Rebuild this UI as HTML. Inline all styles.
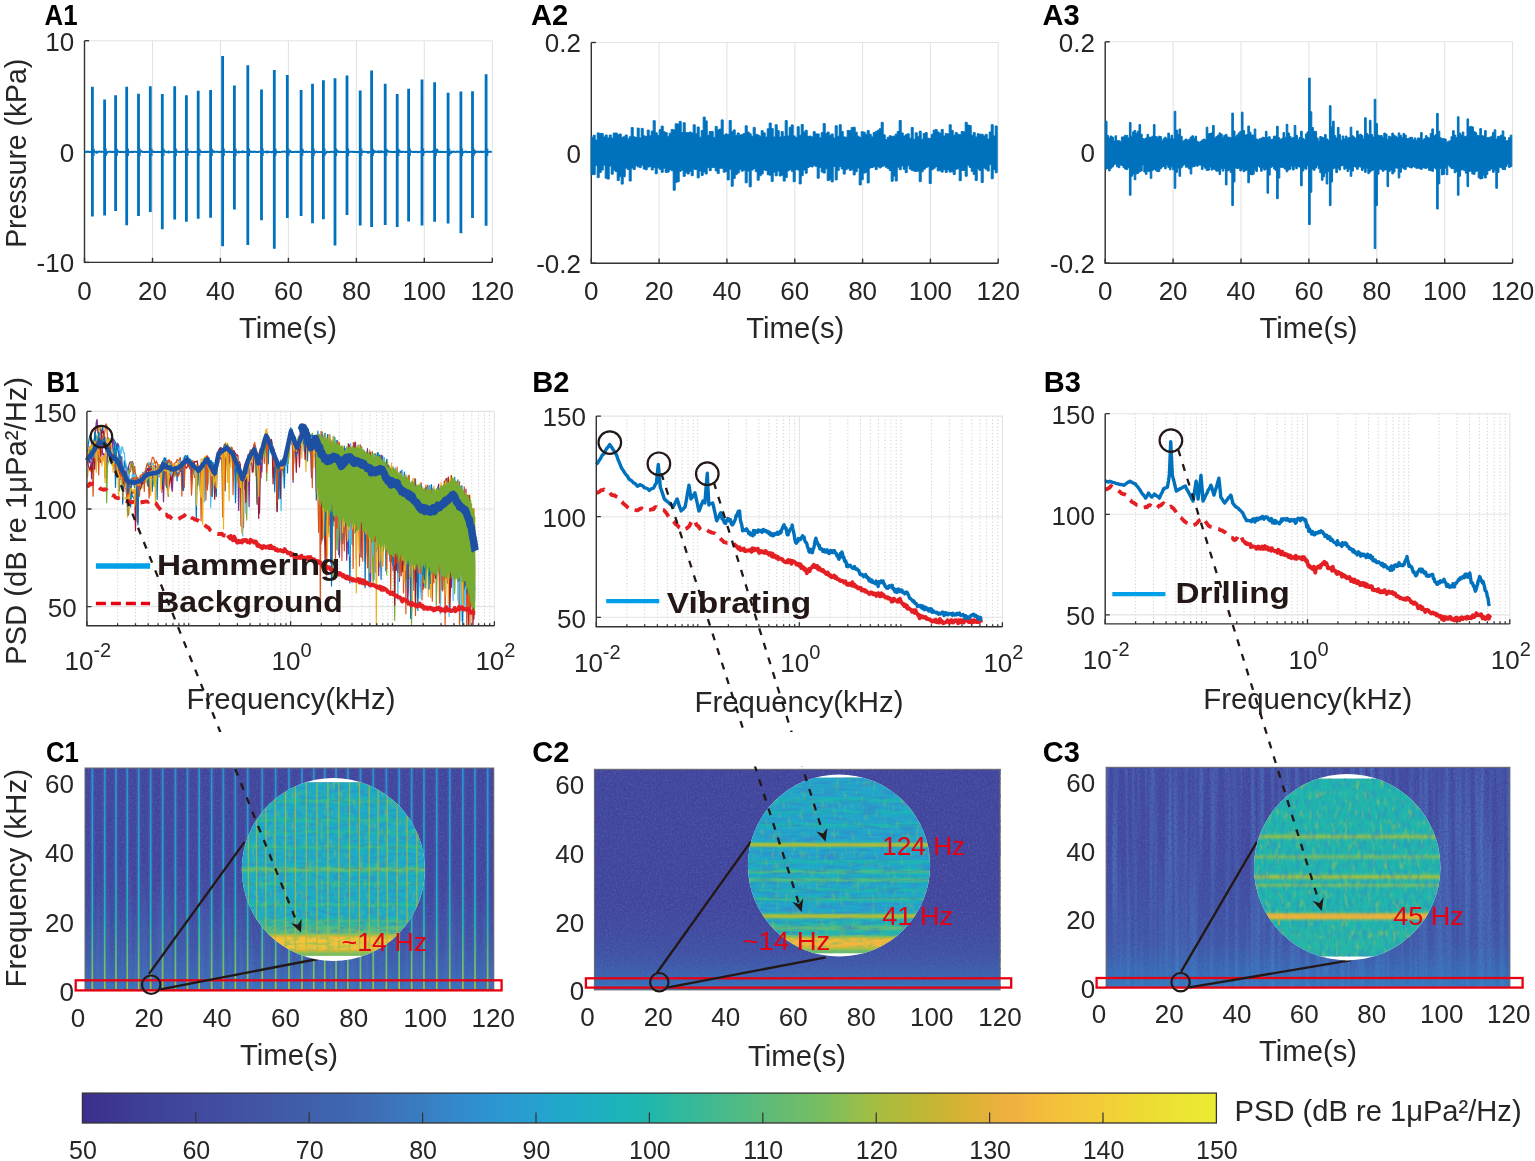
<!DOCTYPE html>
<html><head><meta charset="utf-8"><title>Figure</title>
<style>
html,body{margin:0;padding:0;background:#fff;overflow:hidden;}
svg{display:block;}
text{font-family:"Liberation Sans",sans-serif;}
</style></head>
<body>
<svg width="1535" height="1161" viewBox="0 0 1535 1161">
<rect width="1535" height="1161" fill="#fff"/>
<defs><filter id="nzS" x="0" y="0" width="1" height="1" color-interpolation-filters="sRGB"><feTurbulence type="fractalNoise" baseFrequency="0.6 0.5" numOctaves="2" seed="4"/><feColorMatrix type="matrix" values="0 0 0 0 0.31  0 0 0 0 0.37  0 0 0 0 0.68  2.2 0 0 0 -1.02"/></filter><filter id="nzD" x="0" y="0" width="1" height="1" color-interpolation-filters="sRGB"><feTurbulence type="fractalNoise" baseFrequency="0.5 0.45" numOctaves="2" seed="9"/><feColorMatrix type="matrix" values="0 0 0 0 0.25  0 0 0 0 0.22  0 0 0 0 0.58  2.4 0 0 0 -1.12"/></filter><filter id="nzV" x="0" y="0" width="1" height="1" color-interpolation-filters="sRGB"><feTurbulence type="fractalNoise" baseFrequency="0.2 0.004" numOctaves="2" seed="2"/><feColorMatrix type="matrix" values="0 0 0 0 0.30  0 0 0 0 0.45  0 0 0 0 0.74  2.6 0 0 0 -1.05"/></filter><filter id="nzIB1" x="0" y="0" width="1" height="1" color-interpolation-filters="sRGB"><feTurbulence type="fractalNoise" baseFrequency="0.09 0.3" numOctaves="2" seed="5"/><feColorMatrix type="matrix" values="0 0 0 0 0.21  0 0 0 0 0.52  0 0 0 0 0.80  3.0 0 0 0 -1.3"/></filter><filter id="nzIB2" x="0" y="0" width="1" height="1" color-interpolation-filters="sRGB"><feTurbulence type="fractalNoise" baseFrequency="0.05 0.33" numOctaves="2" seed="6"/><feColorMatrix type="matrix" values="0 0 0 0 0.21  0 0 0 0 0.52  0 0 0 0 0.80  3.0 0 0 0 -1.3"/></filter><filter id="nzIB3" x="0" y="0" width="1" height="1" color-interpolation-filters="sRGB"><feTurbulence type="fractalNoise" baseFrequency="0.25 0.1" numOctaves="2" seed="7"/><feColorMatrix type="matrix" values="0 0 0 0 0.21  0 0 0 0 0.52  0 0 0 0 0.80  3.0 0 0 0 -1.3"/></filter><filter id="nzIY" x="0" y="0" width="1" height="1" color-interpolation-filters="sRGB"><feTurbulence type="fractalNoise" baseFrequency="0.25 0.1" numOctaves="2" seed="8"/><feColorMatrix type="matrix" values="0 0 0 0 0.50  0 0 0 0 0.74  0 0 0 0 0.42  3.0 0 0 0 -1.65"/></filter><filter id="nzBand" x="0" y="0" width="1" height="1" color-interpolation-filters="sRGB"><feTurbulence type="fractalNoise" baseFrequency="0.12 0.35" numOctaves="2" seed="11"/><feColorMatrix type="matrix" values="0 0 0 0 0.55  0 0 0 0 0.75  0 0 0 0 0.35  3.2 0 0 0 -1.45"/></filter><linearGradient id="gMask1" gradientUnits="userSpaceOnUse" x1="0" y1="860" x2="0" y2="990"><stop offset="0.00%" stop-color="#fff" stop-opacity="0"/><stop offset="100.00%" stop-color="#fff"/></linearGradient><mask id="mBot1" maskUnits="userSpaceOnUse" x="0" y="760" width="1535" height="240"><rect x="0" y="860" width="1535" height="140" fill="url(#gMask1)"/></mask><clipPath id="clip1"><circle cx="333.3" cy="869.5" r="91.5"/></clipPath><clipPath id="clip2"><circle cx="839" cy="865.5" r="91.1"/></clipPath><clipPath id="clip3"><circle cx="1347.2" cy="867.2" r="93.2"/></clipPath><linearGradient id="gStripe" gradientUnits="userSpaceOnUse" x1="0" y1="768" x2="0" y2="990"><stop offset="0.00%" stop-color="#308dcf"/><stop offset="41.44%" stop-color="#26a1d0"/><stop offset="68.47%" stop-color="#1eb4b5"/><stop offset="86.49%" stop-color="#66bc70"/><stop offset="100.00%" stop-color="#b2ba3a"/></linearGradient><linearGradient id="gBot1" gradientUnits="userSpaceOnUse" x1="0" y1="768" x2="0" y2="990"><stop offset="0.00%" stop-color="#3e6cb4" stop-opacity="0"/><stop offset="54.95%" stop-color="#3e6cb4" stop-opacity="0"/><stop offset="81.98%" stop-color="#3b76bc" stop-opacity="0.35"/><stop offset="100.00%" stop-color="#2e91d2" stop-opacity="0.6"/></linearGradient><linearGradient id="gBot2" gradientUnits="userSpaceOnUse" x1="0" y1="769" x2="0" y2="990"><stop offset="0.00%" stop-color="#3f64af" stop-opacity="0"/><stop offset="61.54%" stop-color="#3f64af" stop-opacity="0"/><stop offset="81.90%" stop-color="#3e69b2" stop-opacity="0.3"/><stop offset="93.21%" stop-color="#397dc1" stop-opacity="0.5"/><stop offset="100.00%" stop-color="#2c94d2" stop-opacity="0.65"/></linearGradient><linearGradient id="gBot3" gradientUnits="userSpaceOnUse" x1="0" y1="767" x2="0" y2="988"><stop offset="0.00%" stop-color="#405fab" stop-opacity="0.08"/><stop offset="37.56%" stop-color="#3f64af" stop-opacity="0.12"/><stop offset="78.28%" stop-color="#3d6fb7" stop-opacity="0.35"/><stop offset="100.00%" stop-color="#2c94d2" stop-opacity="0.6"/></linearGradient><linearGradient id="gI1" gradientUnits="userSpaceOnUse" x1="0" y1="782.2" x2="0" y2="955.9"><stop offset="0.00%" stop-color="#1eadc5"/><stop offset="0.58%" stop-color="#1eadc5"/><stop offset="1.15%" stop-color="#1eadc5"/><stop offset="1.73%" stop-color="#1eadc5"/><stop offset="2.30%" stop-color="#1eadc5"/><stop offset="2.88%" stop-color="#1eadc5"/><stop offset="3.45%" stop-color="#1eadc5"/><stop offset="4.03%" stop-color="#1eadc5"/><stop offset="4.61%" stop-color="#1eadc5"/><stop offset="5.18%" stop-color="#1eadc5"/><stop offset="5.76%" stop-color="#1eadc5"/><stop offset="6.33%" stop-color="#1eadc5"/><stop offset="6.91%" stop-color="#1eadc5"/><stop offset="7.48%" stop-color="#1eadc5"/><stop offset="8.06%" stop-color="#1eadc5"/><stop offset="8.64%" stop-color="#1dafc3"/><stop offset="9.21%" stop-color="#1db1be"/><stop offset="9.79%" stop-color="#1fb5b1"/><stop offset="10.36%" stop-color="#2cb8a3"/><stop offset="10.94%" stop-color="#32b89e"/><stop offset="11.51%" stop-color="#25b7a8"/><stop offset="12.09%" stop-color="#1eb3b7"/><stop offset="12.67%" stop-color="#1cb0c1"/><stop offset="13.24%" stop-color="#1daec4"/><stop offset="13.82%" stop-color="#1eadc5"/><stop offset="14.39%" stop-color="#1eadc5"/><stop offset="14.97%" stop-color="#1eadc5"/><stop offset="15.54%" stop-color="#1eadc5"/><stop offset="16.12%" stop-color="#1eadc5"/><stop offset="16.70%" stop-color="#1eadc5"/><stop offset="17.27%" stop-color="#1eadc5"/><stop offset="17.85%" stop-color="#1eadc5"/><stop offset="18.42%" stop-color="#1eadc5"/><stop offset="19.00%" stop-color="#1eadc5"/><stop offset="19.57%" stop-color="#1daec3"/><stop offset="20.15%" stop-color="#1db1bf"/><stop offset="20.73%" stop-color="#1fb4b4"/><stop offset="21.30%" stop-color="#26b7a7"/><stop offset="21.88%" stop-color="#2cb8a3"/><stop offset="22.45%" stop-color="#20b6ac"/><stop offset="23.03%" stop-color="#1eb3b9"/><stop offset="23.60%" stop-color="#1cb0c2"/><stop offset="24.18%" stop-color="#1daec4"/><stop offset="24.76%" stop-color="#1eadc5"/><stop offset="25.33%" stop-color="#1eadc5"/><stop offset="25.91%" stop-color="#1eadc5"/><stop offset="26.48%" stop-color="#1eadc5"/><stop offset="27.06%" stop-color="#1dafc3"/><stop offset="27.63%" stop-color="#1db2bb"/><stop offset="28.21%" stop-color="#20b6ad"/><stop offset="28.79%" stop-color="#26b7a8"/><stop offset="29.36%" stop-color="#1fb4b2"/><stop offset="29.94%" stop-color="#1db1bf"/><stop offset="30.51%" stop-color="#1daec4"/><stop offset="31.09%" stop-color="#1eadc5"/><stop offset="31.66%" stop-color="#1eadc5"/><stop offset="32.24%" stop-color="#1eadc5"/><stop offset="32.82%" stop-color="#1eadc5"/><stop offset="33.39%" stop-color="#1eadc5"/><stop offset="33.97%" stop-color="#1eadc5"/><stop offset="34.54%" stop-color="#1eadc5"/><stop offset="35.12%" stop-color="#1dafc3"/><stop offset="35.69%" stop-color="#1db1be"/><stop offset="36.27%" stop-color="#1fb5b1"/><stop offset="36.85%" stop-color="#2cb8a3"/><stop offset="37.42%" stop-color="#32b89e"/><stop offset="38.00%" stop-color="#25b7a8"/><stop offset="38.57%" stop-color="#1eb3b7"/><stop offset="39.15%" stop-color="#1cb0c1"/><stop offset="39.72%" stop-color="#1daec4"/><stop offset="40.30%" stop-color="#1eadc5"/><stop offset="40.88%" stop-color="#1eadc5"/><stop offset="41.45%" stop-color="#1eadc5"/><stop offset="42.03%" stop-color="#1eadc5"/><stop offset="42.60%" stop-color="#1eadc5"/><stop offset="43.18%" stop-color="#1eadc5"/><stop offset="43.75%" stop-color="#1eadc5"/><stop offset="44.33%" stop-color="#1eadc5"/><stop offset="44.91%" stop-color="#1eadc5"/><stop offset="45.48%" stop-color="#1eadc5"/><stop offset="46.06%" stop-color="#1eadc5"/><stop offset="46.63%" stop-color="#1eadc4"/><stop offset="47.21%" stop-color="#1daec3"/><stop offset="47.78%" stop-color="#1cb1bf"/><stop offset="48.36%" stop-color="#1fb4b4"/><stop offset="48.93%" stop-color="#31b89f"/><stop offset="49.51%" stop-color="#51bb84"/><stop offset="50.09%" stop-color="#65bc72"/><stop offset="50.66%" stop-color="#62bc74"/><stop offset="51.24%" stop-color="#4aba89"/><stop offset="51.81%" stop-color="#2ab7a4"/><stop offset="52.39%" stop-color="#1eb3b7"/><stop offset="52.96%" stop-color="#1cb0c1"/><stop offset="53.54%" stop-color="#1daec4"/><stop offset="54.12%" stop-color="#1eadc5"/><stop offset="54.69%" stop-color="#1eadc5"/><stop offset="55.27%" stop-color="#1eadc5"/><stop offset="55.84%" stop-color="#1eadc5"/><stop offset="56.42%" stop-color="#1dafc3"/><stop offset="56.99%" stop-color="#1db1be"/><stop offset="57.57%" stop-color="#1fb5b1"/><stop offset="58.15%" stop-color="#2cb8a3"/><stop offset="58.72%" stop-color="#32b89e"/><stop offset="59.30%" stop-color="#25b7a8"/><stop offset="59.87%" stop-color="#1eb3b7"/><stop offset="60.45%" stop-color="#1cb0c1"/><stop offset="61.02%" stop-color="#1daec4"/><stop offset="61.60%" stop-color="#1eadc5"/><stop offset="62.18%" stop-color="#1eadc5"/><stop offset="62.75%" stop-color="#1eadc5"/><stop offset="63.33%" stop-color="#1eadc5"/><stop offset="63.90%" stop-color="#1eadc5"/><stop offset="64.48%" stop-color="#1eadc5"/><stop offset="65.05%" stop-color="#1eadc5"/><stop offset="65.63%" stop-color="#1eadc5"/><stop offset="66.21%" stop-color="#1eadc5"/><stop offset="66.78%" stop-color="#1eadc5"/><stop offset="67.36%" stop-color="#1eadc5"/><stop offset="67.93%" stop-color="#1eaec4"/><stop offset="68.51%" stop-color="#1cafc2"/><stop offset="69.08%" stop-color="#1db2bb"/><stop offset="69.66%" stop-color="#20b6ad"/><stop offset="70.24%" stop-color="#2fb8a0"/><stop offset="70.81%" stop-color="#2fb8a0"/><stop offset="71.39%" stop-color="#20b6ad"/><stop offset="71.96%" stop-color="#1db2bb"/><stop offset="72.54%" stop-color="#1cafc2"/><stop offset="73.11%" stop-color="#1eaec4"/><stop offset="73.69%" stop-color="#1eadc5"/><stop offset="74.27%" stop-color="#1eadc5"/><stop offset="74.84%" stop-color="#1eadc5"/><stop offset="75.42%" stop-color="#1eadc5"/><stop offset="75.99%" stop-color="#1eadc5"/><stop offset="76.57%" stop-color="#1eadc5"/><stop offset="77.14%" stop-color="#1daec4"/><stop offset="77.72%" stop-color="#1cb0c1"/><stop offset="78.30%" stop-color="#1eb3b7"/><stop offset="78.87%" stop-color="#28b7a6"/><stop offset="79.45%" stop-color="#3dba95"/><stop offset="80.02%" stop-color="#44ba8f"/><stop offset="80.60%" stop-color="#36b99b"/><stop offset="81.17%" stop-color="#2fb8a0"/><stop offset="81.75%" stop-color="#2cb8a2"/><stop offset="82.33%" stop-color="#33b99d"/><stop offset="82.90%" stop-color="#40ba92"/><stop offset="83.48%" stop-color="#50bb84"/><stop offset="84.05%" stop-color="#50bb84"/><stop offset="84.63%" stop-color="#50bb84"/><stop offset="85.20%" stop-color="#50bb84"/><stop offset="85.78%" stop-color="#50bb84"/><stop offset="86.36%" stop-color="#50bb84"/><stop offset="86.93%" stop-color="#50bb84"/><stop offset="87.51%" stop-color="#6fbd69"/><stop offset="88.08%" stop-color="#9dbe45"/><stop offset="88.66%" stop-color="#c5b533"/><stop offset="89.23%" stop-color="#e7b13b"/><stop offset="89.81%" stop-color="#f4c13b"/><stop offset="90.39%" stop-color="#f4c13b"/><stop offset="90.96%" stop-color="#f4c13b"/><stop offset="91.54%" stop-color="#f4c13b"/><stop offset="92.11%" stop-color="#f4c13b"/><stop offset="92.69%" stop-color="#f4c13b"/><stop offset="93.26%" stop-color="#f4c13b"/><stop offset="93.84%" stop-color="#f4c13b"/><stop offset="94.42%" stop-color="#f4c13b"/><stop offset="94.99%" stop-color="#f4c13b"/><stop offset="95.57%" stop-color="#f4c13b"/><stop offset="96.14%" stop-color="#eeb03f"/><stop offset="96.72%" stop-color="#d5b333"/><stop offset="97.29%" stop-color="#b7b938"/><stop offset="97.87%" stop-color="#96be4b"/><stop offset="98.45%" stop-color="#71bd67"/><stop offset="99.02%" stop-color="#71bd67"/><stop offset="99.60%" stop-color="#71bd67"/></linearGradient><linearGradient id="gI2" gradientUnits="userSpaceOnUse" x1="0" y1="777.6" x2="0" y2="953.3"><stop offset="0.00%" stop-color="#22a7ca"/><stop offset="0.57%" stop-color="#22a7ca"/><stop offset="1.14%" stop-color="#22a7ca"/><stop offset="1.71%" stop-color="#22a7ca"/><stop offset="2.28%" stop-color="#22a7ca"/><stop offset="2.85%" stop-color="#22a7ca"/><stop offset="3.41%" stop-color="#22a7ca"/><stop offset="3.98%" stop-color="#22a7ca"/><stop offset="4.55%" stop-color="#22a7ca"/><stop offset="5.12%" stop-color="#22a7ca"/><stop offset="5.69%" stop-color="#22a7ca"/><stop offset="6.26%" stop-color="#22a7ca"/><stop offset="6.83%" stop-color="#22a7ca"/><stop offset="7.40%" stop-color="#22a7ca"/><stop offset="7.97%" stop-color="#22a7ca"/><stop offset="8.54%" stop-color="#22a7ca"/><stop offset="9.11%" stop-color="#22a7ca"/><stop offset="9.68%" stop-color="#22a7ca"/><stop offset="10.24%" stop-color="#22a7ca"/><stop offset="10.81%" stop-color="#21a9c9"/><stop offset="11.38%" stop-color="#1eadc5"/><stop offset="11.95%" stop-color="#1db2bb"/><stop offset="12.52%" stop-color="#1fb5b1"/><stop offset="13.09%" stop-color="#1fb4b3"/><stop offset="13.66%" stop-color="#1db1be"/><stop offset="14.23%" stop-color="#1facc6"/><stop offset="14.80%" stop-color="#21a8c9"/><stop offset="15.37%" stop-color="#22a7ca"/><stop offset="15.94%" stop-color="#22a7ca"/><stop offset="16.51%" stop-color="#22a7ca"/><stop offset="17.07%" stop-color="#22a7ca"/><stop offset="17.64%" stop-color="#21a8c9"/><stop offset="18.21%" stop-color="#1facc6"/><stop offset="18.78%" stop-color="#1db1be"/><stop offset="19.35%" stop-color="#1eb3b6"/><stop offset="19.92%" stop-color="#1eb3b7"/><stop offset="20.49%" stop-color="#1cb0c0"/><stop offset="21.06%" stop-color="#1fabc7"/><stop offset="21.63%" stop-color="#21a8c9"/><stop offset="22.20%" stop-color="#22a7ca"/><stop offset="22.77%" stop-color="#22a7ca"/><stop offset="23.34%" stop-color="#22a7ca"/><stop offset="23.90%" stop-color="#22a7ca"/><stop offset="24.47%" stop-color="#22a7ca"/><stop offset="25.04%" stop-color="#21a9c9"/><stop offset="25.61%" stop-color="#1eadc5"/><stop offset="26.18%" stop-color="#1db2bb"/><stop offset="26.75%" stop-color="#1fb5b1"/><stop offset="27.32%" stop-color="#1fb4b3"/><stop offset="27.89%" stop-color="#1db1be"/><stop offset="28.46%" stop-color="#1facc6"/><stop offset="29.03%" stop-color="#21a8c9"/><stop offset="29.60%" stop-color="#22a7ca"/><stop offset="30.17%" stop-color="#22a7ca"/><stop offset="30.73%" stop-color="#22a7ca"/><stop offset="31.30%" stop-color="#22a7ca"/><stop offset="31.87%" stop-color="#22a7ca"/><stop offset="32.44%" stop-color="#22a7ca"/><stop offset="33.01%" stop-color="#22a7ca"/><stop offset="33.58%" stop-color="#22a7ca"/><stop offset="34.15%" stop-color="#22a7ca"/><stop offset="34.72%" stop-color="#22a7ca"/><stop offset="35.29%" stop-color="#22a7ca"/><stop offset="35.86%" stop-color="#21a8c9"/><stop offset="36.43%" stop-color="#1daec4"/><stop offset="36.99%" stop-color="#28b7a6"/><stop offset="37.56%" stop-color="#72bd66"/><stop offset="38.13%" stop-color="#bdb736"/><stop offset="38.70%" stop-color="#9dbe46"/><stop offset="39.27%" stop-color="#44ba8f"/><stop offset="39.84%" stop-color="#1db2bc"/><stop offset="40.41%" stop-color="#20a9c8"/><stop offset="40.98%" stop-color="#22a7ca"/><stop offset="41.55%" stop-color="#22a7ca"/><stop offset="42.12%" stop-color="#22a7ca"/><stop offset="42.69%" stop-color="#22a7ca"/><stop offset="43.26%" stop-color="#22a7ca"/><stop offset="43.82%" stop-color="#22a7ca"/><stop offset="44.39%" stop-color="#22a7ca"/><stop offset="44.96%" stop-color="#22a7ca"/><stop offset="45.53%" stop-color="#22a7ca"/><stop offset="46.10%" stop-color="#21a9c9"/><stop offset="46.67%" stop-color="#1eadc5"/><stop offset="47.24%" stop-color="#1db2bb"/><stop offset="47.81%" stop-color="#1fb5b1"/><stop offset="48.38%" stop-color="#1fb4b3"/><stop offset="48.95%" stop-color="#1db1be"/><stop offset="49.52%" stop-color="#1facc6"/><stop offset="50.09%" stop-color="#21a8c9"/><stop offset="50.65%" stop-color="#21a8ca"/><stop offset="51.22%" stop-color="#1fabc7"/><stop offset="51.79%" stop-color="#1db1bf"/><stop offset="52.36%" stop-color="#21b6ac"/><stop offset="52.93%" stop-color="#3dba95"/><stop offset="53.50%" stop-color="#4aba8a"/><stop offset="54.07%" stop-color="#3dba95"/><stop offset="54.64%" stop-color="#21b6ac"/><stop offset="55.21%" stop-color="#1db1bf"/><stop offset="55.78%" stop-color="#1fabc7"/><stop offset="56.35%" stop-color="#1cb0c2"/><stop offset="56.92%" stop-color="#1fb5b0"/><stop offset="57.48%" stop-color="#3bba96"/><stop offset="58.05%" stop-color="#54bb81"/><stop offset="58.62%" stop-color="#50bb84"/><stop offset="59.19%" stop-color="#35b99b"/><stop offset="59.76%" stop-color="#1eb4b5"/><stop offset="60.33%" stop-color="#1daec4"/><stop offset="60.90%" stop-color="#21a9c9"/><stop offset="61.47%" stop-color="#22a7ca"/><stop offset="62.04%" stop-color="#21a9c9"/><stop offset="62.61%" stop-color="#1eaec4"/><stop offset="63.18%" stop-color="#1eb3b8"/><stop offset="63.75%" stop-color="#20b6ad"/><stop offset="64.31%" stop-color="#20b5af"/><stop offset="64.88%" stop-color="#1db2bb"/><stop offset="65.45%" stop-color="#1eacc5"/><stop offset="66.02%" stop-color="#21a8c9"/><stop offset="66.59%" stop-color="#21a8ca"/><stop offset="67.16%" stop-color="#1fabc7"/><stop offset="67.73%" stop-color="#1db1bd"/><stop offset="68.30%" stop-color="#25b7a8"/><stop offset="68.87%" stop-color="#3cba96"/><stop offset="69.44%" stop-color="#39b998"/><stop offset="70.01%" stop-color="#20b6ad"/><stop offset="70.57%" stop-color="#1cb1c0"/><stop offset="71.14%" stop-color="#20aac8"/><stop offset="71.71%" stop-color="#22a8ca"/><stop offset="72.28%" stop-color="#22a7ca"/><stop offset="72.85%" stop-color="#22a7ca"/><stop offset="73.42%" stop-color="#22a7ca"/><stop offset="73.99%" stop-color="#22a7ca"/><stop offset="74.56%" stop-color="#22a7ca"/><stop offset="75.13%" stop-color="#22a7ca"/><stop offset="75.70%" stop-color="#22a7ca"/><stop offset="76.27%" stop-color="#21a8c9"/><stop offset="76.84%" stop-color="#1eadc5"/><stop offset="77.40%" stop-color="#20b6ac"/><stop offset="77.97%" stop-color="#63bc73"/><stop offset="78.54%" stop-color="#b4ba3a"/><stop offset="79.11%" stop-color="#b4ba3a"/><stop offset="79.68%" stop-color="#63bc73"/><stop offset="80.25%" stop-color="#27b7a6"/><stop offset="80.82%" stop-color="#1db2bb"/><stop offset="81.39%" stop-color="#1db1be"/><stop offset="81.96%" stop-color="#1db2ba"/><stop offset="82.53%" stop-color="#1fb4b3"/><stop offset="83.10%" stop-color="#1fb5b0"/><stop offset="83.67%" stop-color="#25b7a8"/><stop offset="84.23%" stop-color="#37b99a"/><stop offset="84.80%" stop-color="#4cba88"/><stop offset="85.37%" stop-color="#5bbb7b"/><stop offset="85.94%" stop-color="#59bb7d"/><stop offset="86.51%" stop-color="#48ba8b"/><stop offset="87.08%" stop-color="#33b99d"/><stop offset="87.65%" stop-color="#22b6aa"/><stop offset="88.22%" stop-color="#1fb5b1"/><stop offset="88.79%" stop-color="#1fb4b4"/><stop offset="89.36%" stop-color="#1eb4b5"/><stop offset="89.93%" stop-color="#3eba94"/><stop offset="90.50%" stop-color="#66bc70"/><stop offset="91.06%" stop-color="#9cbe47"/><stop offset="91.63%" stop-color="#cdb433"/><stop offset="92.20%" stop-color="#f2b53f"/><stop offset="92.77%" stop-color="#f2b53f"/><stop offset="93.34%" stop-color="#f2b53f"/><stop offset="93.91%" stop-color="#f2b53f"/><stop offset="94.48%" stop-color="#f2b53f"/><stop offset="95.05%" stop-color="#f2b53f"/><stop offset="95.62%" stop-color="#f2b53f"/><stop offset="96.19%" stop-color="#deb236"/><stop offset="96.76%" stop-color="#c3b633"/><stop offset="97.32%" stop-color="#a8bd3f"/><stop offset="97.89%" stop-color="#81be5a"/><stop offset="98.46%" stop-color="#66bc70"/><stop offset="99.03%" stop-color="#66bc70"/><stop offset="99.60%" stop-color="#66bc70"/></linearGradient><linearGradient id="gI3" gradientUnits="userSpaceOnUse" x1="0" y1="778.6" x2="0" y2="956.4"><stop offset="0.00%" stop-color="#20b6ac"/><stop offset="0.56%" stop-color="#20b6ac"/><stop offset="1.12%" stop-color="#20b6ac"/><stop offset="1.69%" stop-color="#20b6ac"/><stop offset="2.25%" stop-color="#20b6ac"/><stop offset="2.81%" stop-color="#20b6ac"/><stop offset="3.37%" stop-color="#20b6ac"/><stop offset="3.94%" stop-color="#20b6ac"/><stop offset="4.50%" stop-color="#20b6ac"/><stop offset="5.06%" stop-color="#20b6ac"/><stop offset="5.62%" stop-color="#20b6ac"/><stop offset="6.19%" stop-color="#20b6ac"/><stop offset="6.75%" stop-color="#20b6ac"/><stop offset="7.31%" stop-color="#20b6ac"/><stop offset="7.87%" stop-color="#20b6ac"/><stop offset="8.44%" stop-color="#20b6ac"/><stop offset="9.00%" stop-color="#20b6ac"/><stop offset="9.56%" stop-color="#20b6ac"/><stop offset="10.12%" stop-color="#20b6ac"/><stop offset="10.69%" stop-color="#20b6ac"/><stop offset="11.25%" stop-color="#20b6ac"/><stop offset="11.81%" stop-color="#20b6ac"/><stop offset="12.37%" stop-color="#20b6ac"/><stop offset="12.94%" stop-color="#20b6ac"/><stop offset="13.50%" stop-color="#20b6ac"/><stop offset="14.06%" stop-color="#20b6ac"/><stop offset="14.62%" stop-color="#20b6ac"/><stop offset="15.19%" stop-color="#20b6ac"/><stop offset="15.75%" stop-color="#20b6ac"/><stop offset="16.31%" stop-color="#20b6ac"/><stop offset="16.87%" stop-color="#20b6ac"/><stop offset="17.44%" stop-color="#20b6ac"/><stop offset="18.00%" stop-color="#20b6ac"/><stop offset="18.56%" stop-color="#20b6ac"/><stop offset="19.12%" stop-color="#20b6ac"/><stop offset="19.69%" stop-color="#20b6ac"/><stop offset="20.25%" stop-color="#20b6ac"/><stop offset="20.81%" stop-color="#20b6ac"/><stop offset="21.37%" stop-color="#20b6ac"/><stop offset="21.93%" stop-color="#20b6ac"/><stop offset="22.50%" stop-color="#20b6ac"/><stop offset="23.06%" stop-color="#20b6ac"/><stop offset="23.62%" stop-color="#20b6ac"/><stop offset="24.18%" stop-color="#20b6ac"/><stop offset="24.75%" stop-color="#20b6ac"/><stop offset="25.31%" stop-color="#20b6ac"/><stop offset="25.87%" stop-color="#20b6ac"/><stop offset="26.43%" stop-color="#20b6ac"/><stop offset="27.00%" stop-color="#20b6ac"/><stop offset="27.56%" stop-color="#20b6ac"/><stop offset="28.12%" stop-color="#20b6ac"/><stop offset="28.68%" stop-color="#20b6ac"/><stop offset="29.25%" stop-color="#20b6ac"/><stop offset="29.81%" stop-color="#21b6ab"/><stop offset="30.37%" stop-color="#27b7a7"/><stop offset="30.93%" stop-color="#37b99a"/><stop offset="31.50%" stop-color="#56bb7f"/><stop offset="32.06%" stop-color="#77be61"/><stop offset="32.62%" stop-color="#92be4e"/><stop offset="33.18%" stop-color="#77be61"/><stop offset="33.75%" stop-color="#56bb7f"/><stop offset="34.31%" stop-color="#37b99a"/><stop offset="34.87%" stop-color="#27b7a7"/><stop offset="35.43%" stop-color="#21b6ab"/><stop offset="36.00%" stop-color="#20b6ac"/><stop offset="36.56%" stop-color="#20b6ac"/><stop offset="37.12%" stop-color="#20b6ac"/><stop offset="37.68%" stop-color="#20b6ac"/><stop offset="38.25%" stop-color="#20b6ac"/><stop offset="38.81%" stop-color="#20b6ac"/><stop offset="39.37%" stop-color="#20b6ac"/><stop offset="39.93%" stop-color="#20b6ac"/><stop offset="40.49%" stop-color="#20b6ac"/><stop offset="41.06%" stop-color="#20b6ac"/><stop offset="41.62%" stop-color="#22b6aa"/><stop offset="42.18%" stop-color="#29b7a5"/><stop offset="42.74%" stop-color="#3cba96"/><stop offset="43.31%" stop-color="#58bb7d"/><stop offset="43.87%" stop-color="#6abd6d"/><stop offset="44.43%" stop-color="#65bc71"/><stop offset="44.99%" stop-color="#4cba88"/><stop offset="45.56%" stop-color="#33b99d"/><stop offset="46.12%" stop-color="#25b7a8"/><stop offset="46.68%" stop-color="#21b6ab"/><stop offset="47.24%" stop-color="#20b6ac"/><stop offset="47.81%" stop-color="#20b6ac"/><stop offset="48.37%" stop-color="#20b6ac"/><stop offset="48.93%" stop-color="#20b6ac"/><stop offset="49.49%" stop-color="#20b6ac"/><stop offset="50.06%" stop-color="#20b6ac"/><stop offset="50.62%" stop-color="#20b6ac"/><stop offset="51.18%" stop-color="#20b6ac"/><stop offset="51.74%" stop-color="#20b6ac"/><stop offset="52.31%" stop-color="#22b6ab"/><stop offset="52.87%" stop-color="#27b7a6"/><stop offset="53.43%" stop-color="#36b99a"/><stop offset="53.99%" stop-color="#55bb80"/><stop offset="54.56%" stop-color="#7abe5f"/><stop offset="55.12%" stop-color="#a2be42"/><stop offset="55.68%" stop-color="#97be4a"/><stop offset="56.24%" stop-color="#6bbd6d"/><stop offset="56.81%" stop-color="#47ba8c"/><stop offset="57.37%" stop-color="#2fb8a0"/><stop offset="57.93%" stop-color="#24b7a9"/><stop offset="58.49%" stop-color="#2ab7a4"/><stop offset="59.06%" stop-color="#44ba8f"/><stop offset="59.62%" stop-color="#67bc70"/><stop offset="60.18%" stop-color="#6fbd69"/><stop offset="60.74%" stop-color="#53bb82"/><stop offset="61.30%" stop-color="#32b89e"/><stop offset="61.87%" stop-color="#23b6a9"/><stop offset="62.43%" stop-color="#20b6ac"/><stop offset="62.99%" stop-color="#20b6ac"/><stop offset="63.55%" stop-color="#20b6ac"/><stop offset="64.12%" stop-color="#20b6ac"/><stop offset="64.68%" stop-color="#20b6ac"/><stop offset="65.24%" stop-color="#20b6ac"/><stop offset="65.80%" stop-color="#20b6ac"/><stop offset="66.37%" stop-color="#20b6ac"/><stop offset="66.93%" stop-color="#20b6ac"/><stop offset="67.49%" stop-color="#20b6ac"/><stop offset="68.05%" stop-color="#20b6ac"/><stop offset="68.62%" stop-color="#20b6ac"/><stop offset="69.18%" stop-color="#20b6ac"/><stop offset="69.74%" stop-color="#20b6ac"/><stop offset="70.30%" stop-color="#20b6ac"/><stop offset="70.87%" stop-color="#20b6ac"/><stop offset="71.43%" stop-color="#20b6ac"/><stop offset="71.99%" stop-color="#20b6ac"/><stop offset="72.55%" stop-color="#20b6ac"/><stop offset="73.12%" stop-color="#20b6ac"/><stop offset="73.68%" stop-color="#21b6ab"/><stop offset="74.24%" stop-color="#24b6a9"/><stop offset="74.80%" stop-color="#2eb8a1"/><stop offset="75.37%" stop-color="#47ba8c"/><stop offset="75.93%" stop-color="#73be65"/><stop offset="76.49%" stop-color="#c7b532"/><stop offset="77.05%" stop-color="#f3b93e"/><stop offset="77.62%" stop-color="#f5c03b"/><stop offset="78.18%" stop-color="#e0b137"/><stop offset="78.74%" stop-color="#98be4a"/><stop offset="79.30%" stop-color="#57bb7e"/><stop offset="79.87%" stop-color="#35b99b"/><stop offset="80.43%" stop-color="#26b7a7"/><stop offset="80.99%" stop-color="#22b6ab"/><stop offset="81.55%" stop-color="#20b6ac"/><stop offset="82.11%" stop-color="#20b6ac"/><stop offset="82.68%" stop-color="#20b6ac"/><stop offset="83.24%" stop-color="#21b6ab"/><stop offset="83.80%" stop-color="#22b6aa"/><stop offset="84.36%" stop-color="#24b6a9"/><stop offset="84.93%" stop-color="#25b7a8"/><stop offset="85.49%" stop-color="#26b7a7"/><stop offset="86.05%" stop-color="#26b7a7"/><stop offset="86.61%" stop-color="#26b7a7"/><stop offset="87.18%" stop-color="#26b7a7"/><stop offset="87.74%" stop-color="#26b7a7"/><stop offset="88.30%" stop-color="#26b7a7"/><stop offset="88.86%" stop-color="#26b7a7"/><stop offset="89.43%" stop-color="#26b7a7"/><stop offset="89.99%" stop-color="#26b7a7"/><stop offset="90.55%" stop-color="#26b7a7"/><stop offset="91.11%" stop-color="#26b7a7"/><stop offset="91.68%" stop-color="#26b7a7"/><stop offset="92.24%" stop-color="#26b7a7"/><stop offset="92.80%" stop-color="#26b7a7"/><stop offset="93.36%" stop-color="#26b7a7"/><stop offset="93.93%" stop-color="#26b7a7"/><stop offset="94.49%" stop-color="#26b7a7"/><stop offset="95.05%" stop-color="#26b7a7"/><stop offset="95.61%" stop-color="#26b7a7"/><stop offset="96.18%" stop-color="#26b7a7"/><stop offset="96.74%" stop-color="#26b7a7"/><stop offset="97.30%" stop-color="#26b7a7"/><stop offset="97.86%" stop-color="#26b7a7"/><stop offset="98.43%" stop-color="#26b7a7"/><stop offset="98.99%" stop-color="#26b7a7"/><stop offset="99.55%" stop-color="#26b7a7"/></linearGradient><linearGradient id="sb2a" gradientUnits="userSpaceOnUse" x1="0" y1="840.8" x2="0" y2="848.8"><stop offset="0.00%" stop-color="#acbc3d" stop-opacity="0.014"/><stop offset="8.33%" stop-color="#acbc3d" stop-opacity="0.055"/><stop offset="16.67%" stop-color="#acbc3d" stop-opacity="0.169"/><stop offset="25.00%" stop-color="#acbc3d" stop-opacity="0.406"/><stop offset="33.33%" stop-color="#acbc3d" stop-opacity="0.758"/><stop offset="41.67%" stop-color="#acbc3d"/><stop offset="50.00%" stop-color="#acbc3d"/><stop offset="58.33%" stop-color="#acbc3d"/><stop offset="66.67%" stop-color="#acbc3d" stop-opacity="0.758"/><stop offset="75.00%" stop-color="#acbc3d" stop-opacity="0.406"/><stop offset="83.33%" stop-color="#acbc3d" stop-opacity="0.169"/><stop offset="91.67%" stop-color="#acbc3d" stop-opacity="0.055"/><stop offset="100.00%" stop-color="#acbc3d" stop-opacity="0.014"/></linearGradient><linearGradient id="sb2b" gradientUnits="userSpaceOnUse" x1="0" y1="911.8" x2="0" y2="920.5"><stop offset="0.00%" stop-color="#acbc3d" stop-opacity="0.014"/><stop offset="8.33%" stop-color="#acbc3d" stop-opacity="0.055"/><stop offset="16.67%" stop-color="#acbc3d" stop-opacity="0.169"/><stop offset="25.00%" stop-color="#acbc3d" stop-opacity="0.406"/><stop offset="33.33%" stop-color="#acbc3d" stop-opacity="0.758"/><stop offset="41.67%" stop-color="#acbc3d"/><stop offset="50.00%" stop-color="#acbc3d"/><stop offset="58.33%" stop-color="#acbc3d"/><stop offset="66.67%" stop-color="#acbc3d" stop-opacity="0.758"/><stop offset="75.00%" stop-color="#acbc3d" stop-opacity="0.406"/><stop offset="83.33%" stop-color="#acbc3d" stop-opacity="0.169"/><stop offset="91.67%" stop-color="#acbc3d" stop-opacity="0.055"/><stop offset="100.00%" stop-color="#acbc3d" stop-opacity="0.014"/></linearGradient><linearGradient id="sb2c" gradientUnits="userSpaceOnUse" x1="0" y1="932" x2="0" y2="953.6"><stop offset="0.00%" stop-color="#f3b93d" stop-opacity="0.014"/><stop offset="8.33%" stop-color="#f3b93d" stop-opacity="0.055"/><stop offset="16.67%" stop-color="#f3b93d" stop-opacity="0.169"/><stop offset="25.00%" stop-color="#f3b93d" stop-opacity="0.406"/><stop offset="33.33%" stop-color="#f3b93d" stop-opacity="0.758"/><stop offset="41.67%" stop-color="#f3b93d"/><stop offset="50.00%" stop-color="#f3b93d"/><stop offset="58.33%" stop-color="#f3b93d"/><stop offset="66.67%" stop-color="#f3b93d" stop-opacity="0.758"/><stop offset="75.00%" stop-color="#f3b93d" stop-opacity="0.406"/><stop offset="83.33%" stop-color="#f3b93d" stop-opacity="0.169"/><stop offset="91.67%" stop-color="#f3b93d" stop-opacity="0.055"/><stop offset="100.00%" stop-color="#f3b93d" stop-opacity="0.014"/></linearGradient><linearGradient id="sb3a" gradientUnits="userSpaceOnUse" x1="0" y1="910.6" x2="0" y2="922"><stop offset="0.00%" stop-color="#eab03d" stop-opacity="0.014"/><stop offset="8.33%" stop-color="#eab03d" stop-opacity="0.055"/><stop offset="16.67%" stop-color="#eab03d" stop-opacity="0.169"/><stop offset="25.00%" stop-color="#eab03d" stop-opacity="0.406"/><stop offset="33.33%" stop-color="#eab03d" stop-opacity="0.758"/><stop offset="41.67%" stop-color="#eab03d"/><stop offset="50.00%" stop-color="#eab03d"/><stop offset="58.33%" stop-color="#eab03d"/><stop offset="66.67%" stop-color="#eab03d" stop-opacity="0.758"/><stop offset="75.00%" stop-color="#eab03d" stop-opacity="0.406"/><stop offset="83.33%" stop-color="#eab03d" stop-opacity="0.169"/><stop offset="91.67%" stop-color="#eab03d" stop-opacity="0.055"/><stop offset="100.00%" stop-color="#eab03d" stop-opacity="0.014"/></linearGradient><linearGradient id="sb1a" gradientUnits="userSpaceOnUse" x1="0" y1="928" x2="0" y2="958"><stop offset="0.00%" stop-color="#f4c43a" stop-opacity="0.014"/><stop offset="8.33%" stop-color="#f4c43a" stop-opacity="0.055"/><stop offset="16.67%" stop-color="#f4c43a" stop-opacity="0.169"/><stop offset="25.00%" stop-color="#f4c43a" stop-opacity="0.406"/><stop offset="33.33%" stop-color="#f4c43a" stop-opacity="0.758"/><stop offset="41.67%" stop-color="#f4c43a"/><stop offset="50.00%" stop-color="#f4c43a"/><stop offset="58.33%" stop-color="#f4c43a"/><stop offset="66.67%" stop-color="#f4c43a" stop-opacity="0.758"/><stop offset="75.00%" stop-color="#f4c43a" stop-opacity="0.406"/><stop offset="83.33%" stop-color="#f4c43a" stop-opacity="0.169"/><stop offset="91.67%" stop-color="#f4c43a" stop-opacity="0.055"/><stop offset="100.00%" stop-color="#f4c43a" stop-opacity="0.014"/></linearGradient><linearGradient id="gCB" x1="0" y1="0" x2="1" y2="0"><stop offset="0.000" stop-color="#3a2e8c"/><stop offset="0.020" stop-color="#3c3490"/><stop offset="0.040" stop-color="#3e3b94"/><stop offset="0.060" stop-color="#3f4098"/><stop offset="0.080" stop-color="#40459b"/><stop offset="0.100" stop-color="#41499e"/><stop offset="0.120" stop-color="#414da0"/><stop offset="0.140" stop-color="#4152a3"/><stop offset="0.160" stop-color="#4156a5"/><stop offset="0.180" stop-color="#405ba8"/><stop offset="0.200" stop-color="#405fab"/><stop offset="0.220" stop-color="#3f64af"/><stop offset="0.240" stop-color="#3e69b2"/><stop offset="0.260" stop-color="#3d6fb7"/><stop offset="0.280" stop-color="#3b76bc"/><stop offset="0.300" stop-color="#397dc1"/><stop offset="0.320" stop-color="#3585c8"/><stop offset="0.340" stop-color="#308dcf"/><stop offset="0.360" stop-color="#2c94d2"/><stop offset="0.380" stop-color="#299bd1"/><stop offset="0.400" stop-color="#26a1d0"/><stop offset="0.420" stop-color="#22a7ca"/><stop offset="0.440" stop-color="#1eadc5"/><stop offset="0.460" stop-color="#1db1be"/><stop offset="0.480" stop-color="#1eb4b5"/><stop offset="0.500" stop-color="#20b6ac"/><stop offset="0.520" stop-color="#2cb8a2"/><stop offset="0.540" stop-color="#38b999"/><stop offset="0.560" stop-color="#44ba8f"/><stop offset="0.580" stop-color="#50bb84"/><stop offset="0.600" stop-color="#5cbb7a"/><stop offset="0.620" stop-color="#66bc70"/><stop offset="0.640" stop-color="#71bd67"/><stop offset="0.660" stop-color="#7fbe5b"/><stop offset="0.680" stop-color="#92be4e"/><stop offset="0.700" stop-color="#a5be40"/><stop offset="0.720" stop-color="#b2ba3a"/><stop offset="0.740" stop-color="#bfb735"/><stop offset="0.760" stop-color="#cdb433"/><stop offset="0.780" stop-color="#dab234"/><stop offset="0.800" stop-color="#e5b13a"/><stop offset="0.820" stop-color="#f0b040"/><stop offset="0.840" stop-color="#f3b93d"/><stop offset="0.860" stop-color="#f4c13b"/><stop offset="0.880" stop-color="#f3c739"/><stop offset="0.900" stop-color="#f2cd37"/><stop offset="0.920" stop-color="#f0d535"/><stop offset="0.940" stop-color="#eddc33"/><stop offset="0.960" stop-color="#ece232"/><stop offset="0.980" stop-color="#ebe732"/><stop offset="1.000" stop-color="#ebeb32"/></linearGradient></defs>
<line x1="84.5" y1="40.7" x2="84.5" y2="262.4" stroke="#e3e3e3" stroke-width="1.1"/>
<line x1="152.5" y1="40.7" x2="152.5" y2="262.4" stroke="#e3e3e3" stroke-width="1.1"/>
<line x1="220.4" y1="40.7" x2="220.4" y2="262.4" stroke="#e3e3e3" stroke-width="1.1"/>
<line x1="288.4" y1="40.7" x2="288.4" y2="262.4" stroke="#e3e3e3" stroke-width="1.1"/>
<line x1="356.4" y1="40.7" x2="356.4" y2="262.4" stroke="#e3e3e3" stroke-width="1.1"/>
<line x1="424.3" y1="40.7" x2="424.3" y2="262.4" stroke="#e3e3e3" stroke-width="1.1"/>
<line x1="492.3" y1="40.7" x2="492.3" y2="262.4" stroke="#e3e3e3" stroke-width="1.1"/>
<line x1="84.5" y1="262.4" x2="492.3" y2="262.4" stroke="#e3e3e3" stroke-width="1.1"/>
<line x1="84.5" y1="151.6" x2="492.3" y2="151.6" stroke="#e3e3e3" stroke-width="1.1"/>
<line x1="84.5" y1="40.7" x2="492.3" y2="40.7" stroke="#e3e3e3" stroke-width="1.1"/>
<text x="84.5" y="299.8" font-size="26" text-anchor="middle" fill="#262626">0</text>
<text x="152.5" y="299.8" font-size="26" text-anchor="middle" fill="#262626">20</text>
<text x="220.4" y="299.8" font-size="26" text-anchor="middle" fill="#262626">40</text>
<text x="288.4" y="299.8" font-size="26" text-anchor="middle" fill="#262626">60</text>
<text x="356.4" y="299.8" font-size="26" text-anchor="middle" fill="#262626">80</text>
<text x="424.3" y="299.8" font-size="26" text-anchor="middle" fill="#262626">100</text>
<text x="492.3" y="299.8" font-size="26" text-anchor="middle" fill="#262626">120</text>
<text x="74.2" y="272.3" font-size="26" text-anchor="end" fill="#262626">-10</text>
<text x="74.2" y="161.5" font-size="26" text-anchor="end" fill="#262626">0</text>
<text x="74.2" y="50.6" font-size="26" text-anchor="end" fill="#262626">10</text>
<line x1="591.3" y1="42.5" x2="591.3" y2="263.2" stroke="#e3e3e3" stroke-width="1.1"/>
<line x1="659.1" y1="42.5" x2="659.1" y2="263.2" stroke="#e3e3e3" stroke-width="1.1"/>
<line x1="726.9" y1="42.5" x2="726.9" y2="263.2" stroke="#e3e3e3" stroke-width="1.1"/>
<line x1="794.8" y1="42.5" x2="794.8" y2="263.2" stroke="#e3e3e3" stroke-width="1.1"/>
<line x1="862.6" y1="42.5" x2="862.6" y2="263.2" stroke="#e3e3e3" stroke-width="1.1"/>
<line x1="930.4" y1="42.5" x2="930.4" y2="263.2" stroke="#e3e3e3" stroke-width="1.1"/>
<line x1="998.2" y1="42.5" x2="998.2" y2="263.2" stroke="#e3e3e3" stroke-width="1.1"/>
<line x1="591.3" y1="263.2" x2="998.2" y2="263.2" stroke="#e3e3e3" stroke-width="1.1"/>
<line x1="591.3" y1="152.8" x2="998.2" y2="152.8" stroke="#e3e3e3" stroke-width="1.1"/>
<line x1="591.3" y1="42.5" x2="998.2" y2="42.5" stroke="#e3e3e3" stroke-width="1.1"/>
<text x="591.3" y="299.8" font-size="26" text-anchor="middle" fill="#262626">0</text>
<text x="659.1" y="299.8" font-size="26" text-anchor="middle" fill="#262626">20</text>
<text x="726.9" y="299.8" font-size="26" text-anchor="middle" fill="#262626">40</text>
<text x="794.8" y="299.8" font-size="26" text-anchor="middle" fill="#262626">60</text>
<text x="862.6" y="299.8" font-size="26" text-anchor="middle" fill="#262626">80</text>
<text x="930.4" y="299.8" font-size="26" text-anchor="middle" fill="#262626">100</text>
<text x="998.2" y="299.8" font-size="26" text-anchor="middle" fill="#262626">120</text>
<text x="581" y="273.1" font-size="26" text-anchor="end" fill="#262626">-0.2</text>
<text x="581" y="162.8" font-size="26" text-anchor="end" fill="#262626">0</text>
<text x="581" y="52.4" font-size="26" text-anchor="end" fill="#262626">0.2</text>
<line x1="1105.2" y1="41.8" x2="1105.2" y2="263.2" stroke="#e3e3e3" stroke-width="1.1"/>
<line x1="1173.1" y1="41.8" x2="1173.1" y2="263.2" stroke="#e3e3e3" stroke-width="1.1"/>
<line x1="1241" y1="41.8" x2="1241" y2="263.2" stroke="#e3e3e3" stroke-width="1.1"/>
<line x1="1308.9" y1="41.8" x2="1308.9" y2="263.2" stroke="#e3e3e3" stroke-width="1.1"/>
<line x1="1376.8" y1="41.8" x2="1376.8" y2="263.2" stroke="#e3e3e3" stroke-width="1.1"/>
<line x1="1444.7" y1="41.8" x2="1444.7" y2="263.2" stroke="#e3e3e3" stroke-width="1.1"/>
<line x1="1512.6" y1="41.8" x2="1512.6" y2="263.2" stroke="#e3e3e3" stroke-width="1.1"/>
<line x1="1105.2" y1="263.2" x2="1512.6" y2="263.2" stroke="#e3e3e3" stroke-width="1.1"/>
<line x1="1105.2" y1="152.5" x2="1512.6" y2="152.5" stroke="#e3e3e3" stroke-width="1.1"/>
<line x1="1105.2" y1="41.8" x2="1512.6" y2="41.8" stroke="#e3e3e3" stroke-width="1.1"/>
<text x="1105.2" y="299.8" font-size="26" text-anchor="middle" fill="#262626">0</text>
<text x="1173.1" y="299.8" font-size="26" text-anchor="middle" fill="#262626">20</text>
<text x="1241" y="299.8" font-size="26" text-anchor="middle" fill="#262626">40</text>
<text x="1308.9" y="299.8" font-size="26" text-anchor="middle" fill="#262626">60</text>
<text x="1376.8" y="299.8" font-size="26" text-anchor="middle" fill="#262626">80</text>
<text x="1444.7" y="299.8" font-size="26" text-anchor="middle" fill="#262626">100</text>
<text x="1512.6" y="299.8" font-size="26" text-anchor="middle" fill="#262626">120</text>
<text x="1094.9" y="273.1" font-size="26" text-anchor="end" fill="#262626">-0.2</text>
<text x="1094.9" y="162.4" font-size="26" text-anchor="end" fill="#262626">0</text>
<text x="1094.9" y="51.7" font-size="26" text-anchor="end" fill="#262626">0.2</text>
<path d="M84.5 40.7V262.4H492.3" fill="none" stroke="#333333" stroke-width="1.4"/>
<line x1="84.5" y1="262.4" x2="84.5" y2="257.8" stroke="#333333" stroke-width="1.4"/>
<line x1="152.5" y1="262.4" x2="152.5" y2="257.8" stroke="#333333" stroke-width="1.4"/>
<line x1="220.4" y1="262.4" x2="220.4" y2="257.8" stroke="#333333" stroke-width="1.4"/>
<line x1="288.4" y1="262.4" x2="288.4" y2="257.8" stroke="#333333" stroke-width="1.4"/>
<line x1="356.4" y1="262.4" x2="356.4" y2="257.8" stroke="#333333" stroke-width="1.4"/>
<line x1="424.3" y1="262.4" x2="424.3" y2="257.8" stroke="#333333" stroke-width="1.4"/>
<line x1="492.3" y1="262.4" x2="492.3" y2="257.8" stroke="#333333" stroke-width="1.4"/>
<line x1="84.5" y1="262.4" x2="89.1" y2="262.4" stroke="#333333" stroke-width="1.4"/>
<line x1="84.5" y1="151.6" x2="89.1" y2="151.6" stroke="#333333" stroke-width="1.4"/>
<line x1="84.5" y1="40.7" x2="89.1" y2="40.7" stroke="#333333" stroke-width="1.4"/>
<path d="M591.3 42.5V263.2H998.2" fill="none" stroke="#333333" stroke-width="1.4"/>
<line x1="591.3" y1="263.2" x2="591.3" y2="258.6" stroke="#333333" stroke-width="1.4"/>
<line x1="659.1" y1="263.2" x2="659.1" y2="258.6" stroke="#333333" stroke-width="1.4"/>
<line x1="726.9" y1="263.2" x2="726.9" y2="258.6" stroke="#333333" stroke-width="1.4"/>
<line x1="794.8" y1="263.2" x2="794.8" y2="258.6" stroke="#333333" stroke-width="1.4"/>
<line x1="862.6" y1="263.2" x2="862.6" y2="258.6" stroke="#333333" stroke-width="1.4"/>
<line x1="930.4" y1="263.2" x2="930.4" y2="258.6" stroke="#333333" stroke-width="1.4"/>
<line x1="998.2" y1="263.2" x2="998.2" y2="258.6" stroke="#333333" stroke-width="1.4"/>
<line x1="591.3" y1="263.2" x2="595.9" y2="263.2" stroke="#333333" stroke-width="1.4"/>
<line x1="591.3" y1="152.8" x2="595.9" y2="152.8" stroke="#333333" stroke-width="1.4"/>
<line x1="591.3" y1="42.5" x2="595.9" y2="42.5" stroke="#333333" stroke-width="1.4"/>
<path d="M1105.2 41.8V263.2H1512.6" fill="none" stroke="#333333" stroke-width="1.4"/>
<line x1="1105.2" y1="263.2" x2="1105.2" y2="258.6" stroke="#333333" stroke-width="1.4"/>
<line x1="1173.1" y1="263.2" x2="1173.1" y2="258.6" stroke="#333333" stroke-width="1.4"/>
<line x1="1241" y1="263.2" x2="1241" y2="258.6" stroke="#333333" stroke-width="1.4"/>
<line x1="1308.9" y1="263.2" x2="1308.9" y2="258.6" stroke="#333333" stroke-width="1.4"/>
<line x1="1376.8" y1="263.2" x2="1376.8" y2="258.6" stroke="#333333" stroke-width="1.4"/>
<line x1="1444.7" y1="263.2" x2="1444.7" y2="258.6" stroke="#333333" stroke-width="1.4"/>
<line x1="1512.6" y1="263.2" x2="1512.6" y2="258.6" stroke="#333333" stroke-width="1.4"/>
<line x1="1105.2" y1="263.2" x2="1109.8" y2="263.2" stroke="#333333" stroke-width="1.4"/>
<line x1="1105.2" y1="152.5" x2="1109.8" y2="152.5" stroke="#333333" stroke-width="1.4"/>
<line x1="1105.2" y1="41.8" x2="1109.8" y2="41.8" stroke="#333333" stroke-width="1.4"/>
<polyline points="84.5,151.9 85.3,151.9 86.1,151.9 86.9,151.8 87.7,151.8 88.5,151.8 89.3,151.9 90.1,152.1 90.9,151.8 91.7,151.8 92.5,151.9 93.3,151.9 94.1,151.1 94.9,151.7 95.7,151.9 96.5,152 97.3,151.7 98.1,151.8 98.9,151.6 99.7,151.7 100.5,151.6 101.3,151.9 102.1,151.7 102.9,151.9 103.7,151.9 104.5,151.9 105.3,151.5 106.1,152.7 106.9,153.2 107.7,151.9 108.5,151.7 109.3,151.8 110.1,151.8 110.9,151.8 111.7,152.1 112.5,151.8 113.3,151.9 114.1,152 114.9,151.8 115.7,151.8 116.5,151.4 117.3,151.9 118.1,151.3 118.9,151.9 119.7,152.1 120.5,151.7 121.3,152 122.1,151.9 122.9,151.8 123.7,152.2 124.5,152 125.3,151.7 126.1,151.9 126.9,151.5 127.7,151.8 128.5,151.3 129.3,152.3 130.1,152 130.9,152.1 131.7,151.8 132.5,151.9 133.3,151.8 134.1,151.9 134.9,151.7 135.7,151.8 136.5,151.9 137.3,152 138.1,152.1 138.9,151.6 139.7,152 140.5,151.9 141.3,151.1 142.1,151.8 142.9,151.9 143.7,152.1 144.5,152 145.3,151.9 146.1,151.8 146.9,151.9 147.7,152.1 148.5,151.8 149.3,151.9 150.1,152 150.9,151.2 151.7,151.7 152.5,151.3 153.3,151.9 154.1,151.8 154.9,152.1 155.7,152 156.5,151.9 157.3,152 158.1,151.8 158.9,152.1 159.7,151.9 160.5,152 161.3,151.7 162.1,152 162.9,151.8 163.7,151.6 164.5,150.9 165.3,151.8 166.1,151.9 166.9,152.2 167.7,151.8 168.5,151.8 169.3,151.9 170.1,152 170.9,151.9 171.7,151.9 172.5,152 173.3,152 174.1,151.7 174.9,151.9 175.7,151 176.5,151.3 177.3,151.7 178.1,151.8 178.9,152 179.7,151.9 180.5,151.9 181.3,151.8 182.1,151.9 182.9,151.6 183.7,151.7 184.5,152 185.3,151.6 186.1,152 186.9,150.2 187.7,152.1 188.5,151.9 189.3,151.9 190.1,151.9 190.9,151.7 191.7,152.1 192.5,152.1 193.3,151.9 194.1,151.9 194.9,151.9 195.7,151.8 196.5,152.1 197.3,151.8 198.1,151.9 198.9,151.5 199.7,151.5 200.5,151 201.3,152.1 202.1,151.9 202.9,152 203.7,151.9 204.5,151.8 205.3,151.9 206.1,151.8 206.9,151.9 207.7,151.8 208.5,151.9 209.3,151.7 210.1,151.8 210.9,152 211.7,151.4 212.5,151.8 213.3,151.1 214.1,152.1 214.9,151.7 215.7,151.9 216.5,151.8 217.3,151.6 218.1,152 218.9,151.9 219.7,151.9 220.5,151.8 221.3,152 222.1,151.8 222.9,152 223.7,151.8 224.5,151.6 225.3,151.8 226.1,151.8 226.9,151.9 227.7,151.9 228.5,151.8 229.3,151.8 230.1,152 230.9,151.9 231.7,151.9 232.5,151.9 233.3,152.1 234.1,152 234.9,152.3 235.7,150.7 236.5,152 237.3,152.2 238.1,152 238.9,151.9 239.7,152 240.5,152 241.3,152 242.1,152 242.9,151.8 243.7,152.1 244.5,151.7 245.3,152 246.1,152 246.9,152 247.7,152.2 248.5,152.3 249.3,152 250.1,151.2 250.9,152 251.7,151.7 252.5,151.9 253.3,152 254.1,151.7 254.9,151.6 255.7,151.9 256.5,151.9 257.3,151.9 258.1,151.9 258.9,151.8 259.7,151.7 260.5,151.9 261.3,151.8 262.1,151.5 262.9,152.4 263.7,152.2 264.5,152 265.3,151.8 266.1,151.8 266.9,151.8 267.7,151.8 268.5,151.9 269.3,151.8 270.1,152 270.9,152 271.7,152.2 272.5,151.7 273.3,152 274.1,151.9 274.9,152 275.7,150.6 276.5,152.2 277.3,152 278.1,151.9 278.9,151.9 279.7,151.9 280.5,152.1 281.3,151.9 282.1,151.6 282.9,151.8 283.7,151.6 284.5,151.4 285.3,151.8 286.1,152.1 286.9,151.9 287.7,152.5 288.5,152.5 289.3,152.2 290.1,150.8 290.9,151.9 291.7,151.9 292.5,151.9 293.3,152 294.1,152 294.9,151.9 295.7,151.7 296.5,152 297.3,151.8 298.1,152.1 298.9,151.7 299.7,151.9 300.5,151.9 301.3,152.4 302.1,152.1 302.9,150.3 303.7,152.1 304.5,152 305.3,152 306.1,151.5 306.9,151.9 307.7,151.9 308.5,151.9 309.3,151.7 310.1,151.9 310.9,151.9 311.7,152.1 312.5,150.9 313.3,151 314.1,151.7 314.9,152.7 315.7,151.8 316.5,151.6 317.3,152.1 318.1,152 318.9,152 319.7,152 320.5,151.9 321.3,151.9 322.1,151.9 322.9,151.9 323.7,151.6 324.5,152.3 325.3,153.2 326.1,153 326.9,151.8 327.7,151.8 328.5,152.1 329.3,152 330.1,151.9 330.9,151.8 331.7,151.7 332.5,151.9 333.3,152 334.1,151.8 334.9,151.9 335.7,151.8 336.5,151.7 337.3,150.8 338.1,151.9 338.9,151.8 339.7,152 340.5,151.8 341.3,152 342.1,152.1 342.9,151.9 343.7,151.8 344.5,151.9 345.3,151.9 346.1,151.8 346.9,152 347.7,151.7 348.5,152.2 349.3,152.1 350.1,151.7 350.9,151.9 351.7,151.7 352.5,151.7 353.3,152.1 354.1,151.8 354.9,152.1 355.7,152.1 356.5,151.9 357.3,152 358.1,152.2 358.9,151.9 359.7,151.8 360.5,151.8 361.3,152.6 362.1,151.6 362.9,152 363.7,151.8 364.5,151.8 365.3,151.8 366.1,151.9 366.9,151.9 367.7,151.9 368.5,151.9 369.3,151.9 370.1,151.9 370.9,151.9 371.7,152.4 372.5,152.4 373.3,152.9 374.1,152.3 374.9,151.9 375.7,151.6 376.5,152 377.3,151.6 378.1,151.7 378.9,152 379.7,152 380.5,151.9 381.3,151.6 382.1,151.8 382.9,151.8 383.7,152 384.5,152.2 385.3,151.7 386.1,152 386.9,151 387.7,150.7 388.5,151.9 389.3,151.7 390.1,151.9 390.9,151.7 391.7,152.1 392.5,152.1 393.3,152.1 394.1,151.8 394.9,152 395.7,151.9 396.5,151.8 397.3,152.3 398.1,151.7 398.9,151.9 399.7,150.8 400.5,151.9 401.3,151.9 402.1,152.1 402.9,151.6 403.7,151.8 404.5,151.9 405.3,152 406.1,151.8 406.9,152.1 407.7,151.9 408.5,151.7 409.3,151.5 410.1,151.6 410.9,151.4 411.7,151.6 412.5,152.1 413.3,152 414.1,152.1 414.9,151.8 415.7,151.9 416.5,151.7 417.3,152.3 418.1,151.9 418.9,152.1 419.7,151.8 420.5,151.9 421.3,151.6 422.1,150.3 422.9,151.8 423.7,152.3 424.5,152.3 425.3,152 426.1,151.7 426.9,151.8 427.7,151.8 428.5,151.9 429.3,151.8 430.1,151.8 430.9,151.9 431.7,151.7 432.5,151.7 433.3,151.9 434.1,152 434.9,151.2 435.7,151.9 436.5,152.3 437.3,149.8 438.1,152 438.9,151.8 439.7,152.1 440.5,151.8 441.3,152 442.1,151.9 442.9,151.8 443.7,152 444.5,151.9 445.3,152 446.1,151.9 446.9,151.7 447.7,151.9 448.5,151.8 449.3,152.4 450.1,152.2 450.9,153.1 451.7,151.6 452.5,152 453.3,151.7 454.1,151.6 454.9,151.9 455.7,152.1 456.5,151.7 457.3,151.7 458.1,151.8 458.9,151.7 459.7,152 460.5,151.8 461.3,152.6 462.1,152.2 462.9,152 463.7,152.5 464.5,151.8 465.3,151.7 466.1,151.6 466.9,152.2 467.7,151.9 468.5,151.9 469.3,151.9 470.1,151.9 470.9,151.9 471.7,152.2 472.5,151.4 473.3,151.6 474.1,152.4 474.9,153.1 475.7,152 476.5,152 477.3,151.8 478.1,151.7 478.9,151.8 479.7,152.1 480.5,151.5 481.3,152 482.1,151.7 482.9,152.1 483.7,151.7 484.5,151.9 485.3,151.7 486.1,151.8 486.9,152 487.7,152 488.5,152 489.3,151.8 490.1,151.6 490.9,151.8 491.7,151.9" fill="none" stroke="#0072BD" stroke-width="2.0" stroke-linejoin="round"/>
<g fill="#0072BD"><circle cx="385.1" cy="152" r="1.5"/><circle cx="238.8" cy="152" r="1.5"/><circle cx="378.9" cy="151.8" r="1.5"/><circle cx="368.2" cy="152.2" r="1.5"/><circle cx="242.5" cy="151.8" r="1.5"/><circle cx="96.7" cy="152.2" r="1.5"/><circle cx="475" cy="151.6" r="1.5"/><circle cx="374.3" cy="151.6" r="1.5"/><circle cx="168.7" cy="152" r="1.5"/><circle cx="381.2" cy="151.7" r="1.5"/><circle cx="198.6" cy="152.1" r="1.5"/><circle cx="275.6" cy="152" r="1.5"/><circle cx="433.4" cy="151.6" r="1.5"/><circle cx="267" cy="151.9" r="1.5"/></g>
<path d="M92.4 86.8V216.4M104.6 99.5V215.6M115.6 95.3V211.1M126.7 86.8V225.3M138.5 93.7V216M150.3 86.2V211.9M162.3 94.1V229.3M174.7 86.2V219.5M186.4 95.3V221.8M198.2 90.8V218.7M210.6 90.1V217.7M222.6 56V246.2M234.4 85.6V209.4M247.8 65.3V245M261.5 89.5V220.2M274.3 70.1V248.7M287.3 75.1V218.1M301.1 90.1V216M312.5 83.7V223.3M323.4 80.2V219.3M335 78.2V245.6M347 75.5V215M360.2 90.6V225.5M371.6 70.5V227M385.2 83.7V224.9M397.2 93.9V227M408.6 88.7V221.6M422 79.6V225.5M434.6 82.3V221.8M448.1 92.8V223.5M460.9 91.4V233.2M472.5 91.2V218.1M486.1 74.2V225.7" stroke="#0072BD" stroke-width="2.8" fill="none"/>
<path d="M94 148.4V155.9M106.2 148.4V155.9M117.2 148.4V155.9M128.3 148.4V155.9M140.1 148.4V155.9M151.9 148.4V155.9M163.9 148.4V155.9M176.3 148.4V155.9M188 148.4V155.9M199.8 148.4V155.9M212.2 148.4V155.9M224.2 148.4V155.9M236 148.4V155.9M249.4 148.4V155.9M263.1 148.4V155.9M275.9 148.4V155.9M288.9 148.4V155.9M302.7 148.4V155.9M314.1 148.4V155.9M325 148.4V155.9M336.6 148.4V155.9M348.6 148.4V155.9M361.8 148.4V155.9M373.2 148.4V155.9M386.8 148.4V155.9M398.8 148.4V155.9M410.2 148.4V155.9M423.6 148.4V155.9M436.2 148.4V155.9M449.7 148.4V155.9M462.5 148.4V155.9M474.1 148.4V155.9M487.7 148.4V155.9" stroke="#0072BD" stroke-width="1.2" fill="none"/>
<polygon points="591.2,137.3 593.2,137.3 593.2,135.2 595.2,135.2 595.2,140.1 597.2,140.1 597.2,132.9 599.2,132.9 599.2,133.5 601.2,133.5 601.2,133.5 603.2,133.5 603.2,136.9 605.2,136.9 605.2,135 607.2,135 607.2,138 609.2,138 609.2,135 611.2,135 611.2,138 613.2,138 613.2,133.1 615.2,133.1 615.2,133 617.2,133 617.2,134.8 619.2,134.8 619.2,134 621.2,134 621.2,137.3 623.2,137.3 623.2,136.8 625.2,136.8 625.2,135 627.2,135 627.2,138.9 629.2,138.9 629.2,136.8 631.2,136.8 631.2,127.6 633.2,127.6 633.2,136.8 635.2,136.8 635.2,137.5 637.2,137.5 637.2,128.1 639.2,128.1 639.2,138 641.2,138 641.2,128.4 643.2,128.4 643.2,135.8 645.2,135.8 645.2,136.5 647.2,136.5 647.2,130.1 649.2,130.1 649.2,135.8 651.2,135.8 651.2,131.1 653.2,131.1 653.2,120.7 655.2,120.7 655.2,132.8 657.2,132.8 657.2,135.5 659.2,135.5 659.2,129.6 661.2,129.6 661.2,126.1 663.2,126.1 663.2,131.8 665.2,131.8 665.2,132.7 667.2,132.7 667.2,136.4 669.2,136.4 669.2,133.2 671.2,133.2 671.2,129.4 673.2,129.4 673.2,129.9 675.2,129.9 675.2,123.8 677.2,123.8 677.2,124.1 679.2,124.1 679.2,121.4 681.2,121.4 681.2,132.6 683.2,132.6 683.2,122.8 685.2,122.8 685.2,132.5 687.2,132.5 687.2,132.8 689.2,132.8 689.2,132 691.2,132 691.2,133 693.2,133 693.2,124.8 695.2,124.8 695.2,133.8 697.2,133.8 697.2,127 699.2,127 699.2,137.2 701.2,137.2 701.2,130.6 703.2,130.6 703.2,117.1 705.2,117.1 705.2,120.9 707.2,120.9 707.2,135.3 709.2,135.3 709.2,131.6 711.2,131.6 711.2,131.4 713.2,131.4 713.2,137.4 715.2,137.4 715.2,126.4 717.2,126.4 717.2,129.9 719.2,129.9 719.2,129.1 721.2,129.1 721.2,119.9 723.2,119.9 723.2,135.1 725.2,135.1 725.2,133.9 727.2,133.9 727.2,134.4 729.2,134.4 729.2,120.5 731.2,120.5 731.2,131.8 733.2,131.8 733.2,129.9 735.2,129.9 735.2,135.4 737.2,135.4 737.2,133 739.2,133 739.2,135 741.2,135 741.2,134.7 743.2,134.7 743.2,133.5 745.2,133.5 745.2,125.8 747.2,125.8 747.2,132 749.2,132 749.2,133.8 751.2,133.8 751.2,136.4 753.2,136.4 753.2,127.4 755.2,127.4 755.2,134.3 757.2,134.3 757.2,135 759.2,135 759.2,136.2 761.2,136.2 761.2,130.7 763.2,130.7 763.2,132.9 765.2,132.9 765.2,137.1 767.2,137.1 767.2,128.8 769.2,128.8 769.2,123.1 771.2,123.1 771.2,128.5 773.2,128.5 773.2,136.9 775.2,136.9 775.2,124.8 777.2,124.8 777.2,130.7 779.2,130.7 779.2,137 781.2,137 781.2,131.6 783.2,131.6 783.2,136.4 785.2,136.4 785.2,120.6 787.2,120.6 787.2,136 789.2,136 789.2,127.3 791.2,127.3 791.2,124.9 793.2,124.9 793.2,135.9 795.2,135.9 795.2,137.6 797.2,137.6 797.2,126.7 799.2,126.7 799.2,135.2 801.2,135.2 801.2,124.5 803.2,124.5 803.2,131.9 805.2,131.9 805.2,130.3 807.2,130.3 807.2,136.4 809.2,136.4 809.2,136.1 811.2,136.1 811.2,136.9 813.2,136.9 813.2,131.7 815.2,131.7 815.2,133.9 817.2,133.9 817.2,134 819.2,134 819.2,137.8 821.2,137.8 821.2,132.6 823.2,132.6 823.2,123.6 825.2,123.6 825.2,133.3 827.2,133.3 827.2,132.1 829.2,132.1 829.2,135.2 831.2,135.2 831.2,134 833.2,134 833.2,138 835.2,138 835.2,125.8 837.2,125.8 837.2,136.3 839.2,136.3 839.2,124.7 841.2,124.7 841.2,131.4 843.2,131.4 843.2,136.9 845.2,136.9 845.2,137.2 847.2,137.2 847.2,130.4 849.2,130.4 849.2,130.6 851.2,130.6 851.2,127.5 853.2,127.5 853.2,127.3 855.2,127.3 855.2,132.2 857.2,132.2 857.2,136.2 859.2,136.2 859.2,137.5 861.2,137.5 861.2,131.7 863.2,131.7 863.2,132.3 865.2,132.3 865.2,134.4 867.2,134.4 867.2,130.6 869.2,130.6 869.2,134.2 871.2,134.2 871.2,136.9 873.2,136.9 873.2,132.6 875.2,132.6 875.2,131.6 877.2,131.6 877.2,130.3 879.2,130.3 879.2,128.7 881.2,128.7 881.2,122.4 883.2,122.4 883.2,134.8 885.2,134.8 885.2,139.7 887.2,139.7 887.2,137.3 889.2,137.3 889.2,135.8 891.2,135.8 891.2,136.3 893.2,136.3 893.2,136.2 895.2,136.2 895.2,134.2 897.2,134.2 897.2,131.5 899.2,131.5 899.2,120.5 901.2,120.5 901.2,132.9 903.2,132.9 903.2,136.1 905.2,136.1 905.2,134.7 907.2,134.7 907.2,133.8 909.2,133.8 909.2,138.3 911.2,138.3 911.2,127.5 913.2,127.5 913.2,139.3 915.2,139.3 915.2,132.8 917.2,132.8 917.2,136.7 919.2,136.7 919.2,131.2 921.2,131.2 921.2,139.2 923.2,139.2 923.2,133.6 925.2,133.6 925.2,132.6 927.2,132.6 927.2,138.2 929.2,138.2 929.2,138.4 931.2,138.4 931.2,134.3 933.2,134.3 933.2,130.2 935.2,130.2 935.2,129.5 937.2,129.5 937.2,132 939.2,132 939.2,133.2 941.2,133.2 941.2,129.5 943.2,129.5 943.2,136 945.2,136 945.2,133.6 947.2,133.6 947.2,133.9 949.2,133.9 949.2,124.8 951.2,124.8 951.2,130.4 953.2,130.4 953.2,135.2 955.2,135.2 955.2,132.6 957.2,132.6 957.2,134.2 959.2,134.2 959.2,134.7 961.2,134.7 961.2,131.5 963.2,131.5 963.2,131.9 965.2,131.9 965.2,122.3 967.2,122.3 967.2,125.1 969.2,125.1 969.2,125.6 971.2,125.6 971.2,135.3 973.2,135.3 973.2,132.6 975.2,132.6 975.2,137 977.2,137 977.2,133.8 979.2,133.8 979.2,134.2 981.2,134.2 981.2,134.3 983.2,134.3 983.2,135.9 985.2,135.9 985.2,134.4 987.2,134.4 987.2,139.1 989.2,139.1 989.2,132 991.2,132 991.2,124.7 993.2,124.7 993.2,135.9 995.2,135.9 995.2,126 997.2,126 997.2,172.7 995.2,172.7 995.2,169.5 993.2,169.5 993.2,178.7 991.2,178.7 991.2,164.4 989.2,164.4 989.2,171 987.2,171 987.2,169.2 985.2,169.2 985.2,168.1 983.2,168.1 983.2,182.5 981.2,182.5 981.2,170.5 979.2,170.5 979.2,169.1 977.2,169.1 977.2,180.5 975.2,180.5 975.2,174.4 973.2,174.4 973.2,171.3 971.2,171.3 971.2,167.4 969.2,167.4 969.2,165.2 967.2,165.2 967.2,176.2 965.2,176.2 965.2,170.4 963.2,170.4 963.2,170.4 961.2,170.4 961.2,180.7 959.2,180.7 959.2,168.8 957.2,168.8 957.2,169.3 955.2,169.3 955.2,174.5 953.2,174.5 953.2,171.7 951.2,171.7 951.2,172.1 949.2,172.1 949.2,169.9 947.2,169.9 947.2,172.4 945.2,172.4 945.2,169.6 943.2,169.6 943.2,172.1 941.2,172.1 941.2,170.7 939.2,170.7 939.2,170.9 937.2,170.9 937.2,166.7 935.2,166.7 935.2,168.3 933.2,168.3 933.2,169.8 931.2,169.8 931.2,183.5 929.2,183.5 929.2,166.7 927.2,166.7 927.2,167.6 925.2,167.6 925.2,169.3 923.2,169.3 923.2,171.8 921.2,171.8 921.2,181.6 919.2,181.6 919.2,171.1 917.2,171.1 917.2,171.4 915.2,171.4 915.2,171.1 913.2,171.1 913.2,170.3 911.2,170.3 911.2,169.1 909.2,169.1 909.2,165.8 907.2,165.8 907.2,172.6 905.2,172.6 905.2,169.3 903.2,169.3 903.2,165.9 901.2,165.9 901.2,169.7 899.2,169.7 899.2,167.2 897.2,167.2 897.2,181 895.2,181 895.2,176.1 893.2,176.1 893.2,181.2 891.2,181.2 891.2,170.4 889.2,170.4 889.2,168.4 887.2,168.4 887.2,167.2 885.2,167.2 885.2,165.7 883.2,165.7 883.2,166.5 881.2,166.5 881.2,167.9 879.2,167.9 879.2,166.8 877.2,166.8 877.2,169.6 875.2,169.6 875.2,166.7 873.2,166.7 873.2,167.5 871.2,167.5 871.2,168 869.2,168 869.2,182.9 867.2,182.9 867.2,172.3 865.2,172.3 865.2,173.1 863.2,173.1 863.2,179.7 861.2,179.7 861.2,184.9 859.2,184.9 859.2,167.9 857.2,167.9 857.2,171.7 855.2,171.7 855.2,174.9 853.2,174.9 853.2,169.8 851.2,169.8 851.2,170.3 849.2,170.3 849.2,168.2 847.2,168.2 847.2,169.7 845.2,169.7 845.2,174.1 843.2,174.1 843.2,169 841.2,169 841.2,166.6 839.2,166.6 839.2,170.6 837.2,170.6 837.2,179.9 835.2,179.9 835.2,166.5 833.2,166.5 833.2,181.9 831.2,181.9 831.2,179.7 829.2,179.7 829.2,180.6 827.2,180.6 827.2,168.8 825.2,168.8 825.2,173.1 823.2,173.1 823.2,172.1 821.2,172.1 821.2,167.4 819.2,167.4 819.2,178.2 817.2,178.2 817.2,166.4 815.2,166.4 815.2,165.4 813.2,165.4 813.2,166.9 811.2,166.9 811.2,166.4 809.2,166.4 809.2,167.4 807.2,167.4 807.2,173.2 805.2,173.2 805.2,169.9 803.2,169.9 803.2,175.7 801.2,175.7 801.2,183.9 799.2,183.9 799.2,170 797.2,170 797.2,169.6 795.2,169.6 795.2,181.7 793.2,181.7 793.2,171.3 791.2,171.3 791.2,169.4 789.2,169.4 789.2,170.9 787.2,170.9 787.2,177.6 785.2,177.6 785.2,181.1 783.2,181.1 783.2,175.2 781.2,175.2 781.2,176 779.2,176 779.2,171.1 777.2,171.1 777.2,175.8 775.2,175.8 775.2,172.2 773.2,172.2 773.2,181.4 771.2,181.4 771.2,175.2 769.2,175.2 769.2,174.7 767.2,174.7 767.2,170.5 765.2,170.5 765.2,169.9 763.2,169.9 763.2,174 761.2,174 761.2,175.8 759.2,175.8 759.2,180.2 757.2,180.2 757.2,171.6 755.2,171.6 755.2,168.5 753.2,168.5 753.2,170.1 751.2,170.1 751.2,186.8 749.2,186.8 749.2,171.1 747.2,171.1 747.2,182.8 745.2,182.8 745.2,170.2 743.2,170.2 743.2,171.2 741.2,171.2 741.2,169.4 739.2,169.4 739.2,173 737.2,173 737.2,174.6 735.2,174.6 735.2,178.4 733.2,178.4 733.2,186.2 731.2,186.2 731.2,169.3 729.2,169.3 729.2,179.9 727.2,179.9 727.2,171.4 725.2,171.4 725.2,172.2 723.2,172.2 723.2,168.3 721.2,168.3 721.2,168.2 719.2,168.2 719.2,173.4 717.2,173.4 717.2,170.9 715.2,170.9 715.2,167.4 713.2,167.4 713.2,167.6 711.2,167.6 711.2,170.7 709.2,170.7 709.2,167.5 707.2,167.5 707.2,174 705.2,174 705.2,172 703.2,172 703.2,175.4 701.2,175.4 701.2,171 699.2,171 699.2,177.9 697.2,177.9 697.2,169.5 695.2,169.5 695.2,169.2 693.2,169.2 693.2,175.7 691.2,175.7 691.2,171.3 689.2,171.3 689.2,174 687.2,174 687.2,172.8 685.2,172.8 685.2,176.3 683.2,176.3 683.2,170.2 681.2,170.2 681.2,171.3 679.2,171.3 679.2,181.7 677.2,181.7 677.2,182.3 675.2,182.3 675.2,190.2 673.2,190.2 673.2,170.8 671.2,170.8 671.2,169.5 669.2,169.5 669.2,172.1 667.2,172.1 667.2,172.4 665.2,172.4 665.2,168.2 663.2,168.2 663.2,172.3 661.2,172.3 661.2,169.2 659.2,169.2 659.2,167.8 657.2,167.8 657.2,173.8 655.2,173.8 655.2,167.5 653.2,167.5 653.2,169.9 651.2,169.9 651.2,166.6 649.2,166.6 649.2,167.1 647.2,167.1 647.2,169.8 645.2,169.8 645.2,169 643.2,169 643.2,165.2 641.2,165.2 641.2,167.6 639.2,167.6 639.2,166.8 637.2,166.8 637.2,165.8 635.2,165.8 635.2,169.6 633.2,169.6 633.2,168.1 631.2,168.1 631.2,181 629.2,181 629.2,169.4 627.2,169.4 627.2,168.1 625.2,168.1 625.2,176.8 623.2,176.8 623.2,184.1 621.2,184.1 621.2,176.5 619.2,176.5 619.2,180.5 617.2,180.5 617.2,171.6 615.2,171.6 615.2,170.2 613.2,170.2 613.2,174.2 611.2,174.2 611.2,166 609.2,166 609.2,179.1 607.2,179.1 607.2,178.2 605.2,178.2 605.2,165.3 603.2,165.3 603.2,170.1 601.2,170.1 601.2,172.5 599.2,172.5 599.2,177.6 597.2,177.6 597.2,165.4 595.2,165.4 595.2,174.6 593.2,174.6 593.2,174.6 591.2,174.6" fill="#0072BD" stroke="#0072BD" stroke-width="1" stroke-linejoin="round"/>
<polygon points="1105.4,121.2 1107,121.2 1107,135.5 1108.6,135.5 1108.6,137.9 1110.2,137.9 1110.2,136 1111.8,136 1111.8,137.1 1113.4,137.1 1113.4,141.1 1115,141.1 1115,135.8 1116.6,135.8 1116.6,140.7 1118.2,140.7 1118.2,140.7 1119.8,140.7 1119.8,141.4 1121.4,141.4 1121.4,137 1123,137 1123,136.9 1124.6,136.9 1124.6,135.3 1126.2,135.3 1126.2,135.5 1127.8,135.5 1127.8,137.9 1129.4,137.9 1129.4,122.5 1131,122.5 1131,136.2 1132.6,136.2 1132.6,131.8 1134.2,131.8 1134.2,130.4 1135.8,130.4 1135.8,133.3 1137.4,133.3 1137.4,131.2 1139,131.2 1139,124.6 1140.6,124.6 1140.6,134.2 1142.2,134.2 1142.2,138.6 1143.8,138.6 1143.8,139.1 1145.4,139.1 1145.4,138 1147,138 1147,134.4 1148.6,134.4 1148.6,137.1 1150.2,137.1 1150.2,137.4 1151.8,137.4 1151.8,136.2 1153.4,136.2 1153.4,124.6 1155,124.6 1155,136.5 1156.6,136.5 1156.6,137.4 1158.2,137.4 1158.2,136.2 1159.8,136.2 1159.8,136.6 1161.4,136.6 1161.4,140.7 1163,140.7 1163,138.7 1164.6,138.7 1164.6,137.2 1166.2,137.2 1166.2,139.1 1167.8,139.1 1167.8,133.1 1169.4,133.1 1169.4,138.3 1171,138.3 1171,135.2 1172.6,135.2 1172.6,139 1174.2,139 1174.2,111.3 1175.8,111.3 1175.8,130.1 1177.4,130.1 1177.4,134.6 1179,134.6 1179,129 1180.6,129 1180.6,136.3 1182.2,136.3 1182.2,141.4 1183.8,141.4 1183.8,140.1 1185.4,140.1 1185.4,139 1187,139 1187,140.3 1188.6,140.3 1188.6,139.2 1190.2,139.2 1190.2,137.1 1191.8,137.1 1191.8,135.8 1193.4,135.8 1193.4,138.4 1195,138.4 1195,136.2 1196.6,136.2 1196.6,141.2 1198.2,141.2 1198.2,142.4 1199.8,142.4 1199.8,141.5 1201.4,141.5 1201.4,140.2 1203,140.2 1203,139.1 1204.6,139.1 1204.6,139.7 1206.2,139.7 1206.2,127.2 1207.8,127.2 1207.8,133.8 1209.4,133.8 1209.4,133.5 1211,133.5 1211,132.9 1212.6,132.9 1212.6,125.5 1214.2,125.5 1214.2,137.9 1215.8,137.9 1215.8,136.6 1217.4,136.6 1217.4,135.3 1219,135.3 1219,132.9 1220.6,132.9 1220.6,134.1 1222.2,134.1 1222.2,137.3 1223.8,137.3 1223.8,135.3 1225.4,135.3 1225.4,134.4 1227,134.4 1227,137.1 1228.6,137.1 1228.6,137.2 1230.2,137.2 1230.2,137.7 1231.8,137.7 1231.8,113.1 1233.4,113.1 1233.4,131 1235,131 1235,136.8 1236.6,136.8 1236.6,134.9 1238.2,134.9 1238.2,132.9 1239.8,132.9 1239.8,131.4 1241.4,131.4 1241.4,112.2 1243,112.2 1243,130.6 1244.6,130.6 1244.6,135 1246.2,135 1246.2,134.7 1247.8,134.7 1247.8,126 1249.4,126 1249.4,132.2 1251,132.2 1251,135 1252.6,135 1252.6,135.1 1254.2,135.1 1254.2,129 1255.8,129 1255.8,138.9 1257.4,138.9 1257.4,139.9 1259,139.9 1259,138.8 1260.6,138.8 1260.6,138.3 1262.2,138.3 1262.2,137.2 1263.8,137.2 1263.8,137.7 1265.4,137.7 1265.4,131.3 1267,131.3 1267,137.7 1268.6,137.7 1268.6,136.7 1270.2,136.7 1270.2,139.6 1271.8,139.6 1271.8,139.2 1273.4,139.2 1273.4,136.2 1275,136.2 1275,136.1 1276.6,136.1 1276.6,126.3 1278.2,126.3 1278.2,137.7 1279.8,137.7 1279.8,139.4 1281.4,139.4 1281.4,138.6 1283,138.6 1283,132.6 1284.6,132.6 1284.6,137.3 1286.2,137.3 1286.2,124.3 1287.8,124.3 1287.8,133 1289.4,133 1289.4,136.3 1291,136.3 1291,138.6 1292.6,138.6 1292.6,137.4 1294.2,137.4 1294.2,125.5 1295.8,125.5 1295.8,135.3 1297.4,135.3 1297.4,139.8 1299,139.8 1299,137.5 1300.6,137.5 1300.6,131.2 1302.2,131.2 1302.2,138.2 1303.8,138.2 1303.8,139.6 1305.4,139.6 1305.4,134 1307,134 1307,131.9 1308.6,131.9 1308.6,78.1 1310.2,78.1 1310.2,111.8 1311.8,111.8 1311.8,127.5 1313.4,127.5 1313.4,131.3 1315,131.3 1315,131.4 1316.6,131.4 1316.6,138.1 1318.2,138.1 1318.2,141.1 1319.8,141.1 1319.8,136.5 1321.4,136.5 1321.4,137.2 1323,137.2 1323,137.7 1324.6,137.7 1324.6,134.6 1326.2,134.6 1326.2,138.9 1327.8,138.9 1327.8,140.3 1329.4,140.3 1329.4,105.7 1331,105.7 1331,127 1332.6,127 1332.6,121.2 1334.2,121.2 1334.2,135.5 1335.8,135.5 1335.8,138.1 1337.4,138.1 1337.4,127.4 1339,127.4 1339,134.7 1340.6,134.7 1340.6,140.3 1342.2,140.3 1342.2,136 1343.8,136 1343.8,139 1345.4,139 1345.4,136 1347,136 1347,138.3 1348.6,138.3 1348.6,137.5 1350.2,137.5 1350.2,127.2 1351.8,127.2 1351.8,135.8 1353.4,135.8 1353.4,137.1 1355,137.1 1355,138.6 1356.6,138.6 1356.6,130.9 1358.2,130.9 1358.2,135 1359.8,135 1359.8,134.2 1361.4,134.2 1361.4,135.6 1363,135.6 1363,138.9 1364.6,138.9 1364.6,117.7 1366.2,117.7 1366.2,133.6 1367.8,133.6 1367.8,135 1369.4,135 1369.4,120.3 1371,120.3 1371,134.5 1372.6,134.5 1372.6,137.1 1374.2,137.1 1374.2,99.3 1375.8,99.3 1375.8,123.5 1377.4,123.5 1377.4,135.1 1379,135.1 1379,135.8 1380.6,135.8 1380.6,135.5 1382.2,135.5 1382.2,137.6 1383.8,137.6 1383.8,133.1 1385.4,133.1 1385.4,134.1 1387,134.1 1387,139.6 1388.6,139.6 1388.6,136.2 1390.2,136.2 1390.2,136.9 1391.8,136.9 1391.8,133.1 1393.4,133.1 1393.4,135.2 1395,135.2 1395,136.2 1396.6,136.2 1396.6,137.6 1398.2,137.6 1398.2,132.9 1399.8,132.9 1399.8,135.3 1401.4,135.3 1401.4,137.7 1403,137.7 1403,133.5 1404.6,133.5 1404.6,135 1406.2,135 1406.2,138.6 1407.8,138.6 1407.8,138.5 1409.4,138.5 1409.4,137.4 1411,137.4 1411,137.3 1412.6,137.3 1412.6,139.8 1414.2,139.8 1414.2,137.9 1415.8,137.9 1415.8,140.2 1417.4,140.2 1417.4,138 1419,138 1419,138.1 1420.6,138.1 1420.6,132.6 1422.2,132.6 1422.2,140.1 1423.8,140.1 1423.8,138.7 1425.4,138.7 1425.4,135.7 1427,135.7 1427,137.4 1428.6,137.4 1428.6,138.1 1430.2,138.1 1430.2,133.6 1431.8,133.6 1431.8,128.9 1433.4,128.9 1433.4,136 1435,136 1435,134.7 1436.6,134.7 1436.6,113.4 1438.2,113.4 1438.2,131.2 1439.8,131.2 1439.8,137.8 1441.4,137.8 1441.4,138.7 1443,138.7 1443,138.7 1444.6,138.7 1444.6,139.1 1446.2,139.1 1446.2,142.3 1447.8,142.3 1447.8,141.2 1449.4,141.2 1449.4,140.8 1451,140.8 1451,136.7 1452.6,136.7 1452.6,130.7 1454.2,130.7 1454.2,135.1 1455.8,135.1 1455.8,137.6 1457.4,137.6 1457.4,116.8 1459,116.8 1459,133.1 1460.6,133.1 1460.6,135.1 1462.2,135.1 1462.2,132 1463.8,132 1463.8,136.4 1465.4,136.4 1465.4,136.2 1467,136.2 1467,118.9 1468.6,118.9 1468.6,127 1470.2,127 1470.2,126.4 1471.8,126.4 1471.8,126.9 1473.4,126.9 1473.4,131.5 1475,131.5 1475,132.6 1476.6,132.6 1476.6,135.3 1478.2,135.3 1478.2,135.7 1479.8,135.7 1479.8,128.6 1481.4,128.6 1481.4,135.7 1483,135.7 1483,136.1 1484.6,136.1 1484.6,130.6 1486.2,130.6 1486.2,137.5 1487.8,137.5 1487.8,137.7 1489.4,137.7 1489.4,137.2 1491,137.2 1491,136.2 1492.6,136.2 1492.6,132.4 1494.2,132.4 1494.2,129.8 1495.8,129.8 1495.8,139 1497.4,139 1497.4,136.4 1499,136.4 1499,136.4 1500.6,136.4 1500.6,135.1 1502.2,135.1 1502.2,130.9 1503.8,130.9 1503.8,137 1505.4,137 1505.4,140.8 1507,140.8 1507,140.6 1508.6,140.6 1508.6,137.7 1510.2,137.7 1510.2,135.2 1511.8,135.2 1511.8,166.6 1510.2,166.6 1510.2,167.4 1508.6,167.4 1508.6,164.1 1507,164.1 1507,166.6 1505.4,166.6 1505.4,169.7 1503.8,169.7 1503.8,169.4 1502.2,169.4 1502.2,167.8 1500.6,167.8 1500.6,167.2 1499,167.2 1499,172.4 1497.4,172.4 1497.4,188.3 1495.8,188.3 1495.8,170 1494.2,170 1494.2,172.3 1492.6,172.3 1492.6,168.5 1491,168.5 1491,170 1489.4,170 1489.4,170.7 1487.8,170.7 1487.8,174.6 1486.2,174.6 1486.2,178 1484.6,178 1484.6,175.3 1483,175.3 1483,178.4 1481.4,178.4 1481.4,178.9 1479.8,178.9 1479.8,177.8 1478.2,177.8 1478.2,171 1476.6,171 1476.6,171.4 1475,171.4 1475,174.4 1473.4,174.4 1473.4,173.9 1471.8,173.9 1471.8,171 1470.2,171 1470.2,171.5 1468.6,171.5 1468.6,186.6 1467,186.6 1467,173.2 1465.4,173.2 1465.4,170.7 1463.8,170.7 1463.8,169.8 1462.2,169.8 1462.2,169.9 1460.6,169.9 1460.6,176.2 1459,176.2 1459,195.2 1457.4,195.2 1457.4,171.5 1455.8,171.5 1455.8,172.8 1454.2,172.8 1454.2,168.7 1452.6,168.7 1452.6,168.6 1451,168.6 1451,166.9 1449.4,166.9 1449.4,165.1 1447.8,165.1 1447.8,174.7 1446.2,174.7 1446.2,168 1444.6,168 1444.6,174.4 1443,174.4 1443,174.8 1441.4,174.8 1441.4,168.4 1439.8,168.4 1439.8,183.8 1438.2,183.8 1438.2,209 1436.6,209 1436.6,168.9 1435,168.9 1435,167.5 1433.4,167.5 1433.4,171.3 1431.8,171.3 1431.8,170.6 1430.2,170.6 1430.2,170.4 1428.6,170.4 1428.6,167.6 1427,167.6 1427,168.4 1425.4,168.4 1425.4,168.1 1423.8,168.1 1423.8,167.7 1422.2,167.7 1422.2,169.4 1420.6,169.4 1420.6,168.6 1419,168.6 1419,168.1 1417.4,168.1 1417.4,168.3 1415.8,168.3 1415.8,167.2 1414.2,167.2 1414.2,166.5 1412.6,166.5 1412.6,167.9 1411,167.9 1411,167.7 1409.4,167.7 1409.4,166.7 1407.8,166.7 1407.8,166.8 1406.2,166.8 1406.2,169.6 1404.6,169.6 1404.6,168.8 1403,168.8 1403,167.7 1401.4,167.7 1401.4,172.3 1399.8,172.3 1399.8,178 1398.2,178 1398.2,168.1 1396.6,168.1 1396.6,168 1395,168 1395,172.1 1393.4,172.1 1393.4,173.9 1391.8,173.9 1391.8,169.9 1390.2,169.9 1390.2,171.5 1388.6,171.5 1388.6,186.6 1387,186.6 1387,169.7 1385.4,169.7 1385.4,170.1 1383.8,170.1 1383.8,171.3 1382.2,171.3 1382.2,169.4 1380.6,169.4 1380.6,169 1379,169 1379,174.2 1377.4,174.2 1377.4,205.6 1375.8,205.6 1375.8,248.6 1374.2,248.6 1374.2,169.9 1372.6,169.9 1372.6,170.6 1371,170.6 1371,171.9 1369.4,171.9 1369.4,173.6 1367.8,173.6 1367.8,168.3 1366.2,168.3 1366.2,172.3 1364.6,172.3 1364.6,168.6 1363,168.6 1363,170.5 1361.4,170.5 1361.4,167.1 1359.8,167.1 1359.8,166.8 1358.2,166.8 1358.2,169.3 1356.6,169.3 1356.6,167.1 1355,167.1 1355,166.5 1353.4,166.5 1353.4,171.1 1351.8,171.1 1351.8,176.3 1350.2,176.3 1350.2,169.2 1348.6,169.2 1348.6,171.4 1347,171.4 1347,168 1345.4,168 1345.4,169.3 1343.8,169.3 1343.8,165.6 1342.2,165.6 1342.2,165.9 1340.6,165.9 1340.6,170 1339,170 1339,168.2 1337.4,168.2 1337.4,172.6 1335.8,172.6 1335.8,168.1 1334.2,168.1 1334.2,168.8 1332.6,168.8 1332.6,181.9 1331,181.9 1331,205.6 1329.4,205.6 1329.4,171.6 1327.8,171.6 1327.8,184 1326.2,184 1326.2,173.2 1324.6,173.2 1324.6,176.8 1323,176.8 1323,180.2 1321.4,180.2 1321.4,172.8 1319.8,172.8 1319.8,168.7 1318.2,168.7 1318.2,165.8 1316.6,165.8 1316.6,168 1315,168 1315,170.3 1313.4,170.3 1313.4,169.1 1311.8,169.1 1311.8,192.3 1310.2,192.3 1310.2,224.5 1308.6,224.5 1308.6,165.5 1307,165.5 1307,169.2 1305.4,169.2 1305.4,168.6 1303.8,168.6 1303.8,171 1302.2,171 1302.2,185.8 1300.6,185.8 1300.6,167.1 1299,167.1 1299,166.6 1297.4,166.6 1297.4,168.8 1295.8,168.8 1295.8,166.8 1294.2,166.8 1294.2,170 1292.6,170 1292.6,166 1291,166 1291,169.2 1289.4,169.2 1289.4,169.9 1287.8,169.9 1287.8,171.8 1286.2,171.8 1286.2,169.2 1284.6,169.2 1284.6,167.8 1283,167.8 1283,167.3 1281.4,167.3 1281.4,167.4 1279.8,167.4 1279.8,178.1 1278.2,178.1 1278.2,198.7 1276.6,198.7 1276.6,170.4 1275,170.4 1275,168.9 1273.4,168.9 1273.4,166.4 1271.8,166.4 1271.8,167.6 1270.2,167.6 1270.2,175.1 1268.6,175.1 1268.6,193.2 1267,193.2 1267,169.1 1265.4,169.1 1265.4,170.1 1263.8,170.1 1263.8,168.3 1262.2,168.3 1262.2,171.2 1260.6,171.2 1260.6,167.2 1259,167.2 1259,165.9 1257.4,165.9 1257.4,171.6 1255.8,171.6 1255.8,169.7 1254.2,169.7 1254.2,174.3 1252.6,174.3 1252.6,174.8 1251,174.8 1251,174.5 1249.4,174.5 1249.4,182.8 1247.8,182.8 1247.8,170.1 1246.2,170.1 1246.2,170.7 1244.6,170.7 1244.6,171.7 1243,171.7 1243,169.1 1241.4,169.1 1241.4,170.9 1239.8,170.9 1239.8,168.3 1238.2,168.3 1238.2,168.4 1236.6,168.4 1236.6,167.9 1235,167.9 1235,181.9 1233.4,181.9 1233.4,205.6 1231.8,205.6 1231.8,172.4 1230.2,172.4 1230.2,170 1228.6,170 1228.6,170.8 1227,170.8 1227,184.9 1225.4,184.9 1225.4,168.6 1223.8,168.6 1223.8,171.1 1222.2,171.1 1222.2,168.5 1220.6,168.5 1220.6,174.5 1219,174.5 1219,171.1 1217.4,171.1 1217.4,171.2 1215.8,171.2 1215.8,169.4 1214.2,169.4 1214.2,169.1 1212.6,169.1 1212.6,170.1 1211,170.1 1211,166.9 1209.4,166.9 1209.4,170.2 1207.8,170.2 1207.8,170.4 1206.2,170.4 1206.2,168.3 1204.6,168.3 1204.6,166.3 1203,166.3 1203,169.6 1201.4,169.6 1201.4,165.1 1199.8,165.1 1199.8,165 1198.2,165 1198.2,166.2 1196.6,166.2 1196.6,165.7 1195,165.7 1195,166.5 1193.4,166.5 1193.4,167 1191.8,167 1191.8,174 1190.2,174 1190.2,169 1188.6,169 1188.6,167.2 1187,167.2 1187,167.2 1185.4,167.2 1185.4,164.6 1183.8,164.6 1183.8,165.7 1182.2,165.7 1182.2,167.8 1180.6,167.8 1180.6,176.3 1179,176.3 1179,168 1177.4,168 1177.4,172.4 1175.8,172.4 1175.8,188.3 1174.2,188.3 1174.2,169.8 1172.6,169.8 1172.6,166.8 1171,166.8 1171,169.8 1169.4,169.8 1169.4,167.4 1167.8,167.4 1167.8,165 1166.2,165 1166.2,168.8 1164.6,168.8 1164.6,166.4 1163,166.4 1163,167.1 1161.4,167.1 1161.4,168.8 1159.8,168.8 1159.8,171.4 1158.2,171.4 1158.2,171.6 1156.6,171.6 1156.6,170.2 1155,170.2 1155,169 1153.4,169 1153.4,170.3 1151.8,170.3 1151.8,178.3 1150.2,178.3 1150.2,171.5 1148.6,171.5 1148.6,170.9 1147,170.9 1147,174.3 1145.4,174.3 1145.4,172.1 1143.8,172.1 1143.8,165.1 1142.2,165.1 1142.2,171 1140.6,171 1140.6,171.6 1139,171.6 1139,173.2 1137.4,173.2 1137.4,173.8 1135.8,173.8 1135.8,179.7 1134.2,179.7 1134.2,174.2 1132.6,174.2 1132.6,176.2 1131,176.2 1131,195.2 1129.4,195.2 1129.4,167.7 1127.8,167.7 1127.8,169.6 1126.2,169.6 1126.2,169.1 1124.6,169.1 1124.6,167.6 1123,167.6 1123,165.4 1121.4,165.4 1121.4,165.1 1119.8,165.1 1119.8,167.7 1118.2,167.7 1118.2,166.8 1116.6,166.8 1116.6,163.9 1115,163.9 1115,164.7 1113.4,164.7 1113.4,166.9 1111.8,166.9 1111.8,168.3 1110.2,168.3 1110.2,170.9 1108.6,170.9 1108.6,168.5 1107,168.5 1107,169 1105.4,169" fill="#0072BD" stroke="#0072BD" stroke-width="1" stroke-linejoin="round"/>
<text x="287.9" y="337.8" font-size="30" text-anchor="middle" fill="#262626" textLength="98" lengthAdjust="spacingAndGlyphs">Time(s)</text>
<text x="795.3" y="337.8" font-size="30" text-anchor="middle" fill="#262626" textLength="98" lengthAdjust="spacingAndGlyphs">Time(s)</text>
<text x="1308.6" y="337.8" font-size="30" text-anchor="middle" fill="#262626" textLength="98" lengthAdjust="spacingAndGlyphs">Time(s)</text>
<text transform="translate(26.0,153.3) rotate(-90)" font-size="30" text-anchor="middle" fill="#262626" textLength="189" lengthAdjust="spacingAndGlyphs">Pressure (kPa)</text>
<text x="44.5" y="24.7" font-size="29" font-weight="bold" fill="#000" textLength="33" lengthAdjust="spacingAndGlyphs">A1</text>
<text x="531" y="24.7" font-size="29" font-weight="bold" fill="#000">A2</text>
<text x="1042.5" y="24.7" font-size="29" font-weight="bold" fill="#000">A3</text>
<path d="M117.6 411.4V625.8M135.5 411.4V625.8M148.2 411.4V625.8M158.1 411.4V625.8M166.2 411.4V625.8M173 411.4V625.8M178.9 411.4V625.8M184.1 411.4V625.8M188.8 411.4V625.8M219.4 411.4V625.8M237.4 411.4V625.8M250.1 411.4V625.8M260 411.4V625.8M268 411.4V625.8M274.9 411.4V625.8M280.8 411.4V625.8M286 411.4V625.8M321.3 411.4V625.8M339.3 411.4V625.8M352 411.4V625.8M361.9 411.4V625.8M369.9 411.4V625.8M376.7 411.4V625.8M382.7 411.4V625.8M387.9 411.4V625.8M392.5 411.4V625.8M423.2 411.4V625.8M441.1 411.4V625.8M453.9 411.4V625.8M463.7 411.4V625.8M471.8 411.4V625.8M478.6 411.4V625.8M484.5 411.4V625.8M489.7 411.4V625.8" stroke="#cfcfcf" stroke-width="1" stroke-dasharray="1.2,2.2" fill="none"/>
<line x1="86.9" y1="411.4" x2="86.9" y2="625.8" stroke="#e3e3e3" stroke-width="1.1"/>
<line x1="290.6" y1="411.4" x2="290.6" y2="625.8" stroke="#e3e3e3" stroke-width="1.1"/>
<line x1="494.4" y1="411.4" x2="494.4" y2="625.8" stroke="#e3e3e3" stroke-width="1.1"/>
<line x1="86.9" y1="606.6" x2="494.4" y2="606.6" stroke="#e3e3e3" stroke-width="1.1"/>
<line x1="86.9" y1="509" x2="494.4" y2="509" stroke="#e3e3e3" stroke-width="1.1"/>
<line x1="86.9" y1="411.4" x2="494.4" y2="411.4" stroke="#e3e3e3" stroke-width="1.1"/>
<path d="M87.5 456.9L88.3 456.1L89.1 453.2L89.9 449.4L90.7 450.8L91.5 457.8L92.3 462L93.1 457.5L93.9 451.7L94.7 452.1L95.5 451.2L96.3 446L97.1 447.2L97.9 439.6L98.7 430.9L99.5 427.1L100.3 428.7L101.1 434.3L101.9 429.3L102.7 427.2L103.5 434.8L104.3 447.3L105.1 437.3L105.9 439.3L106.7 439.3L107.5 442.7L108.3 438.1L109.1 440L109.9 443.5L110.7 442.7L111.5 438L112.3 442.8L113.1 440.3L113.9 439.4L114.7 441.1L115.5 442L116.3 446.1L117.1 449.7L117.9 445.6L118.7 451.6L119.5 490.8L120.3 456.2L121.1 462.5L121.9 456.7L122.7 504.1L123.5 491.2L124.3 460.5L125.1 464.8L125.9 468L126.7 469.6L127.5 470L128.3 467.2L129.1 478.8L129.9 481.5L130.7 507.1L131.5 489.6L132.3 496.5L133.1 496.9L133.9 498.7L134.7 499.6L135.5 492.1L136.3 489.4L137.1 488.6L137.9 485.1L138.7 484.8L139.5 482.9L140.3 481.3L141.1 482.2L141.9 481.8L142.7 478.1L143.5 479L144.3 476.2L145.1 473.8L145.9 470.5L146.7 471.5L147.5 470.5L148.3 468.8L149.1 467.1L149.9 468.7L150.7 466L151.5 465.9L152.3 491.2L153.1 468.2L153.9 466.4L154.7 466.8L155.5 467.3L156.3 468.2L157.1 499.5L157.9 469.1L158.7 474.3L159.5 464.7L160.3 465.5L161.1 465L161.9 463.5L162.7 461.5L163.5 459.9L164.3 457.8L165.1 458.4L165.9 460.9L166.7 463.4L167.5 484.4L168.3 467.5L169.1 468.1L169.9 466.9L170.7 470.1L171.5 471.8L172.3 471.5L173.1 472.8L173.9 473L174.7 475L175.5 468.2L176.3 465.9L177.1 480.9L177.9 466.7L178.7 465.5L179.5 466.8L180.3 467.3L181.1 464.8L181.9 465.2L182.7 464.8L183.5 485.8L184.3 461.7L185.1 459.4L185.9 459.7L186.7 457.6L187.5 455.4L188.3 458.8L189.1 459.6L189.9 462L190.7 464.8L191.5 467.7L192.3 470.9L193.1 471.9L193.9 473.5L194.7 475L195.5 473.5L196.3 518.5L197.1 473.9L197.9 474.8L198.7 476.9L199.5 473.7L200.3 484.4L201.1 471.1L201.9 470.5L202.7 469.3L203.5 470.4L204.3 468.3L205.1 464L205.9 460.2L206.7 458.5L207.5 486.1L208.3 461.4L209.1 461L209.9 463.5L210.7 462.5L211.5 462.7L212.3 496.6L213.1 470.2L213.9 473.1L214.7 471.1L215.5 466.7L216.3 463.2L217.1 458.6L217.9 454.3L218.7 449.4L219.5 451.1L220.3 450.3L221.1 447.6L221.9 449.4L222.7 452.1L223.5 448.2L224.3 447.8L225.1 459.9L225.9 452.1L226.7 458.1L227.5 446.1L228.3 448.1L229.1 450.2L229.9 452.1L230.7 455.4L231.5 455.7L232.3 460.6L233.1 460L233.9 461.2L234.7 463.4L235.5 502.7L236.3 471.4L237.1 466.3L237.9 467.7L238.7 471.6L239.5 470.8L240.3 478.6L241.1 480.1L241.9 480.7L242.7 479.4L243.5 477.3L244.3 473.4L245.1 469.1L245.9 465L246.7 462L247.5 458.4L248.3 454.4L249.1 455.6L249.9 456.7L250.7 452.5L251.5 453L252.3 455.5L253.1 457.2L253.9 457L254.7 456.5L255.5 462.2L256.3 463.9L257.1 465.5L257.9 491.4L258.7 482.3L259.5 463L260.3 461.6L261.1 457.4L261.9 455.8L262.7 453.3L263.5 450.4L264.3 449.3L265.1 444.8L265.9 442.1L266.7 456.9L267.5 442L268.3 464L269.1 440.5L269.9 440.3L270.7 440.9L271.5 440.7L272.3 444.8L273.1 447.8L273.9 449.4L274.7 491.7L275.5 457.1L276.3 466L277.1 511.1L277.9 466.1L278.7 467.8L279.5 468L280.3 465.1L281.1 463.3L281.9 464.2L282.7 465L283.5 463.6L284.3 458.3L285.1 454.3L285.9 460.9L286.7 445.4L287.5 472.9L288.3 440.7L289.1 436.5L289.9 434L290.7 432.7L291.5 437L292.3 440.1L293.1 443L293.9 444.8L294.7 448L295.5 449.4L296.3 451.8L297.1 453.2L297.9 449.1L298.7 443.1L299.5 441.8L300.3 440.5L301.1 439.7L301.9 435.5L302.7 436.4L303.5 434.9L304.3 431.4L305.1 431.7L305.9 458.6L306.7 437.2L307.5 460.9L308.3 439.1L309.1 445L309.9 445L310.7 446.5L311.5 445.8L312.3 441.9L313.1 441.1L313.9 439.6L314.7 438.3L315.5 438.6L316.3 499.9L317.1 478.3L317.9 431.1L318.7 483.7L319.5 492.3L320.3 498.9L321.1 462.2L321.9 540.9L322.7 486.3L323.5 447L324.3 434.8L325.1 433.2L325.9 443.3L326.7 445.6L327.5 445.2L328.3 449.3L329.1 434.5L329.9 516.1L330.7 493.3L331.5 451.3L332.3 449.5L333.1 525.7L333.9 451.5L334.7 437.2L335.5 480.9L336.3 456.6L337.1 444.6L337.9 509L338.7 554.5L339.5 540.1L340.3 500.4L341.1 476.2L341.9 451.3L342.7 525.1L343.5 479.3L344.3 448.6L345.1 448.4L345.9 465L346.7 503.2L347.5 514.5L348.3 553.8L349.1 539.9L349.9 582.9L350.7 524.8L351.5 522.6L352.3 528.8L353.1 545.1L353.9 475.7L354.7 473.1L355.5 473L356.3 453.5L357.1 517L357.9 520.2L358.7 498.3L359.5 515.5L360.3 512.8L361.1 446.6L361.9 474.9L362.7 488.1L363.5 461.4L364.3 508.9L365.1 541.5L365.9 478.5L366.7 532L367.5 478.4L368.3 554.8L369.1 467.3L369.9 552.5L370.7 542.1L371.5 484.8L372.3 468.8L373.1 536.3L373.9 579.8L374.7 454.8L375.5 535.7L376.3 568.5L377.1 464.2L377.9 452.9L378.7 493.6L379.5 455.2L380.3 543.1L381.1 579.3L381.9 480.6L382.7 455.8L383.5 497.6L384.3 515.4L385.1 501.8L385.9 571L386.7 524.3L387.5 518.6L388.3 492.2L389.1 497.4L389.9 518.2L390.7 555.5L391.5 560.4L392.3 469L393.1 469.8L393.9 527.6L394.7 482.7L395.5 489.2L396.3 474.6L397.1 495.4L397.9 478L398.7 568.7L399.5 527.4L400.3 501L401.1 530.3L401.9 524.5L402.7 505L403.5 494.4L404.3 472.2L405.1 487.1L405.9 515.5L406.7 481.9L407.5 528.9L408.3 475.6L409.1 536.5L409.9 499.3L410.7 495L411.5 550.2L412.3 552.7L413.1 522.8L413.9 569.3L414.7 545.7L415.5 479.1L416.3 516.2L417.1 518L417.9 517.5L418.7 548.1L419.5 494.9L420.3 545.8L421.1 571.8L421.9 558.2L422.7 540.9L423.5 535.5L424.3 538L425.1 587.6L425.9 487.3L426.7 500.7L427.5 550.5L428.3 562.4L429.1 562.8L429.9 504.7L430.7 516.9L431.5 498.4L432.3 555.4L433.1 579.9L433.9 535.5L434.7 491.3L435.5 533.5L436.3 559.4L437.1 563.3L437.9 536.6L438.7 559.6L439.5 545.4L440.3 514.3L441.1 541.4L441.9 524.1L442.7 520.5L443.5 560.1L444.3 519.3L445.1 541.4L445.9 536.1L446.7 522.1L447.5 580.7L448.3 489.5L449.1 539.9L449.9 527.3L450.7 479.2L451.5 522.4L452.3 486.6L453.1 541.8L453.9 479.8L454.7 477.4L455.5 500.8L456.3 498.5L457.1 531.1L457.9 479.9L458.7 514.3L459.5 501.9L460.3 537.6L461.1 515.5L461.9 549.8L462.7 625.3L463.5 517.8L464.3 537.3L465.1 519L465.9 571L466.7 499.2L467.5 525.7L468.3 544L469.1 565.3L469.9 568.7L470.7 555.4L471.5 540.9L472.3 590.8L473.1 568.2L473.9 535.9L474.7 591" fill="none" stroke="#0072BD" stroke-width="1.2" stroke-linejoin="round"/>
<path d="M87.5 453.9L88.3 455.9L89.1 455.6L89.9 456.1L90.7 451.8L91.5 459.5L92.3 455.6L93.1 496.2L93.9 462.1L94.7 459.6L95.5 452.9L96.3 451.8L97.1 449.6L97.9 455.4L98.7 448.3L99.5 451.1L100.3 451L101.1 449.7L101.9 455L102.7 460.6L103.5 458.4L104.3 459.5L105.1 453.6L105.9 453L106.7 449.7L107.5 448.1L108.3 455.2L109.1 453.2L109.9 444L110.7 446.9L111.5 445.1L112.3 447.8L113.1 452.6L113.9 454.7L114.7 458L115.5 476.8L116.3 452.4L117.1 461.1L117.9 467.3L118.7 470.9L119.5 474.6L120.3 472.4L121.1 477.5L121.9 478.7L122.7 481.5L123.5 479.7L124.3 483.3L125.1 475.7L125.9 475.1L126.7 471.7L127.5 479.2L128.3 476.3L129.1 473.2L129.9 472.3L130.7 471L131.5 461.8L132.3 466.5L133.1 474.3L133.9 473L134.7 466.4L135.5 474.1L136.3 475.3L137.1 521.5L137.9 477.3L138.7 479.8L139.5 479.1L140.3 475.3L141.1 477.8L141.9 480.2L142.7 481.2L143.5 481.5L144.3 483.4L145.1 480.6L145.9 480.1L146.7 479.3L147.5 485.7L148.3 478.9L149.1 498.2L149.9 480.1L150.7 478L151.5 475.8L152.3 475.8L153.1 477L153.9 478L154.7 479L155.5 478.7L156.3 476.5L157.1 475.8L157.9 475.8L158.7 476.3L159.5 476.6L160.3 474.7L161.1 475.2L161.9 492.2L162.7 470.7L163.5 475L164.3 468.1L165.1 469.2L165.9 471L166.7 470.2L167.5 470.8L168.3 496.3L169.1 471.5L169.9 472.3L170.7 471.7L171.5 470L172.3 469.9L173.1 468.1L173.9 467.4L174.7 463.8L175.5 462.3L176.3 462.5L177.1 459.4L177.9 460.6L178.7 461.2L179.5 459.1L180.3 457.6L181.1 466.3L181.9 496.1L182.7 461.4L183.5 460.1L184.3 481.7L185.1 460.9L185.9 459.8L186.7 461.6L187.5 461.5L188.3 461.9L189.1 461.9L189.9 463L190.7 467.5L191.5 471.2L192.3 470.2L193.1 472.3L193.9 472.4L194.7 477.4L195.5 476.5L196.3 483.8L197.1 477.7L197.9 475.5L198.7 475.8L199.5 474.8L200.3 474.6L201.1 472.1L201.9 468L202.7 465.3L203.5 465L204.3 460.4L205.1 461.2L205.9 464.7L206.7 457.5L207.5 456L208.3 457.9L209.1 461.5L209.9 465.4L210.7 468.7L211.5 470.9L212.3 469.9L213.1 473L213.9 473.7L214.7 493.2L215.5 471.7L216.3 465.2L217.1 462.3L217.9 458.1L218.7 461.4L219.5 453.7L220.3 450L221.1 450.2L221.9 451.8L222.7 450.6L223.5 449.9L224.3 448.9L225.1 446.9L225.9 446.7L226.7 447.8L227.5 451.6L228.3 452.8L229.1 453.3L229.9 456.1L230.7 457.7L231.5 458.6L232.3 460.2L233.1 468.5L233.9 463.5L234.7 464.5L235.5 464.7L236.3 465.5L237.1 462.9L237.9 462.4L238.7 461.5L239.5 464.3L240.3 476L241.1 471L241.9 517.4L242.7 477.8L243.5 527.5L244.3 474.6L245.1 472.9L245.9 472.3L246.7 467.8L247.5 463L248.3 458L249.1 456.2L249.9 450.8L250.7 450L251.5 449.6L252.3 451.6L253.1 450.2L253.9 448L254.7 450.1L255.5 453.8L256.3 454.7L257.1 504.5L257.9 458.9L258.7 458.6L259.5 452.6L260.3 449.4L261.1 477.8L261.9 449.1L262.7 445.5L263.5 446.4L264.3 463.3L265.1 443.8L265.9 441.1L266.7 442L267.5 443.9L268.3 449L269.1 442.7L269.9 443.8L270.7 444.4L271.5 445.5L272.3 448L273.1 450.1L273.9 449.9L274.7 453.8L275.5 457.2L276.3 459.3L277.1 497L277.9 466.1L278.7 466.9L279.5 467.3L280.3 467.4L281.1 467.8L281.9 466.9L282.7 464.2L283.5 472.6L284.3 464.2L285.1 458.5L285.9 454.1L286.7 451L287.5 449.4L288.3 446.3L289.1 441.1L289.9 441.6L290.7 436.8L291.5 437.9L292.3 438.4L293.1 440.7L293.9 441.3L294.7 441.7L295.5 443.1L296.3 444.3L297.1 443.9L297.9 444.4L298.7 442L299.5 442L300.3 441.6L301.1 437.9L301.9 437.6L302.7 437.3L303.5 437.7L304.3 433.7L305.1 430.4L305.9 433.6L306.7 433.7L307.5 434.1L308.3 440.2L309.1 440.9L309.9 441.1L310.7 443.6L311.5 445.1L312.3 444.9L313.1 440.2L313.9 441.2L314.7 440.5L315.5 435.9L316.3 456.8L317.1 451.8L317.9 496.8L318.7 532.5L319.5 499.3L320.3 497L321.1 543.9L321.9 519.8L322.7 435.2L323.5 473.6L324.3 497.4L325.1 512L325.9 550.6L326.7 575.2L327.5 445.5L328.3 531.3L329.1 501.1L329.9 453L330.7 463.7L331.5 503.9L332.3 508.4L333.1 455L333.9 443.7L334.7 511.4L335.5 444.9L336.3 467.3L337.1 508L337.9 456.9L338.7 474.6L339.5 442.9L340.3 523L341.1 494.3L341.9 501.4L342.7 543.5L343.5 456.2L344.3 477.6L345.1 467.2L345.9 468.5L346.7 493.1L347.5 505.4L348.3 488.7L349.1 537.1L349.9 484.3L350.7 483.7L351.5 524.7L352.3 500L353.1 473.1L353.9 442.3L354.7 442.6L355.5 443.7L356.3 558.8L357.1 517.3L357.9 513.3L358.7 489L359.5 565.9L360.3 444.5L361.1 518.4L361.9 515.6L362.7 531.9L363.5 490.4L364.3 488.7L365.1 561.8L365.9 551.5L366.7 471.8L367.5 464.1L368.3 514.5L369.1 527.2L369.9 450.7L370.7 528.6L371.5 495.7L372.3 533.8L373.1 515.2L373.9 522.6L374.7 486.9L375.5 572.1L376.3 515.8L377.1 517.5L377.9 487.4L378.7 472.6L379.5 539.8L380.3 477L381.1 461.3L381.9 481.7L382.7 566.1L383.5 521.5L384.3 467.3L385.1 538.3L385.9 468L386.7 489.3L387.5 508.9L388.3 515.9L389.1 523.1L389.9 495L390.7 516.1L391.5 552.4L392.3 512.1L393.1 466.8L393.9 491.7L394.7 503.2L395.5 551.7L396.3 490.9L397.1 467.2L397.9 552.2L398.7 556.5L399.5 548.5L400.3 538.4L401.1 505.2L401.9 552.4L402.7 527L403.5 592.8L404.3 535.7L405.1 506L405.9 492.5L406.7 578.6L407.5 499.9L408.3 512.9L409.1 486.1L409.9 577.9L410.7 548.9L411.5 548.8L412.3 554.4L413.1 498.2L413.9 505.9L414.7 478.7L415.5 615.6L416.3 487.6L417.1 505.2L417.9 506.8L418.7 501.2L419.5 563.5L420.3 587L421.1 482.6L421.9 599.9L422.7 575.6L423.5 589.1L424.3 540.6L425.1 527.1L425.9 485.2L426.7 510.7L427.5 509.6L428.3 572.7L429.1 495.9L429.9 532.9L430.7 525.7L431.5 524.9L432.3 522.6L433.1 567.2L433.9 553.5L434.7 553.1L435.5 541.6L436.3 499.3L437.1 536.8L437.9 531.5L438.7 536L439.5 549.3L440.3 543.7L441.1 516.3L441.9 537.6L442.7 546L443.5 558.8L444.3 487.1L445.1 625.3L445.9 545.9L446.7 568.4L447.5 489.3L448.3 538L449.1 530.7L449.9 541.1L450.7 555.5L451.5 558.6L452.3 504L453.1 494.1L453.9 537.6L454.7 578.8L455.5 567.7L456.3 494.1L457.1 536.7L457.9 563L458.7 498.6L459.5 625.3L460.3 497.6L461.1 519.6L461.9 551.9L462.7 505.8L463.5 528.9L464.3 510.9L465.1 530.6L465.9 527.1L466.7 625.3L467.5 570.2L468.3 536.2L469.1 512.8L469.9 625.3L470.7 529L471.5 530.5L472.3 578.4L473.1 519.1L473.9 534.5L474.7 528.9" fill="none" stroke="#D95319" stroke-width="1.2" stroke-linejoin="round"/>
<path d="M87.5 477.5L88.3 469.4L89.1 468.7L89.9 471.1L90.7 468.1L91.5 459.7L92.3 454.9L93.1 456L93.9 447.6L94.7 429.9L95.5 430.9L96.3 430.1L97.1 424.7L97.9 428.6L98.7 431.3L99.5 428.5L100.3 425.3L101.1 426.4L101.9 435.6L102.7 440.5L103.5 439.5L104.3 441.6L105.1 440.8L105.9 438.7L106.7 439.4L107.5 443L108.3 445.9L109.1 445.9L109.9 443.3L110.7 450.2L111.5 450.5L112.3 453.6L113.1 458.1L113.9 462.8L114.7 460.4L115.5 461.8L116.3 458L117.1 469.3L117.9 463.5L118.7 498.8L119.5 460.3L120.3 458.1L121.1 460.7L121.9 472.4L122.7 470.8L123.5 481.1L124.3 475.2L125.1 479.5L125.9 479.4L126.7 493.3L127.5 517.1L128.3 495.9L129.1 483.4L129.9 484.2L130.7 482.1L131.5 481.8L132.3 481.9L133.1 480.9L133.9 477.1L134.7 479.8L135.5 481.5L136.3 484.7L137.1 485.8L137.9 485.6L138.7 482.6L139.5 482L140.3 482.9L141.1 480.8L141.9 478.9L142.7 480.1L143.5 480.1L144.3 479.2L145.1 480L145.9 482.3L146.7 481.4L147.5 479.7L148.3 476.4L149.1 475.7L149.9 471.4L150.7 467.9L151.5 468.4L152.3 468.5L153.1 464.9L153.9 462.4L154.7 461.4L155.5 464.3L156.3 466.9L157.1 469.1L157.9 467.2L158.7 464.5L159.5 464.4L160.3 466.2L161.1 469.3L161.9 469.2L162.7 466.7L163.5 460.1L164.3 462L165.1 467.6L165.9 468.9L166.7 477.5L167.5 492L168.3 465.5L169.1 464.2L169.9 463.1L170.7 466.4L171.5 467.1L172.3 481.5L173.1 463.5L173.9 464.8L174.7 466.2L175.5 465.5L176.3 465.4L177.1 475L177.9 465L178.7 465.2L179.5 464L180.3 465.7L181.1 464.9L181.9 462L182.7 464.5L183.5 466.1L184.3 465.3L185.1 464.4L185.9 461.7L186.7 464.5L187.5 463.9L188.3 465.1L189.1 467.1L189.9 464.1L190.7 464.5L191.5 464.7L192.3 465.3L193.1 465.8L193.9 465.1L194.7 466L195.5 465.1L196.3 464.4L197.1 465.9L197.9 466.3L198.7 466.6L199.5 465.5L200.3 473.4L201.1 459.3L201.9 459.2L202.7 459.8L203.5 458.5L204.3 457.9L205.1 456.4L205.9 456.5L206.7 456.6L207.5 480.2L208.3 483.3L209.1 461.5L209.9 463.2L210.7 469.1L211.5 471L212.3 473.2L213.1 475.6L213.9 476.6L214.7 480.5L215.5 477L216.3 473.2L217.1 469.5L217.9 461.6L218.7 459.4L219.5 457.9L220.3 454.1L221.1 453.1L221.9 450.3L222.7 511L223.5 449.3L224.3 446L225.1 444.8L225.9 442.4L226.7 464.9L227.5 443.3L228.3 446.4L229.1 500.9L229.9 450.8L230.7 449.9L231.5 452.7L232.3 456L233.1 456.9L233.9 459.5L234.7 461L235.5 462.8L236.3 463.4L237.1 466.3L237.9 469.6L238.7 470.2L239.5 469.9L240.3 474.2L241.1 479.2L241.9 512.5L242.7 480.1L243.5 477.6L244.3 475.6L245.1 472.4L245.9 471.3L246.7 469L247.5 461.2L248.3 457.3L249.1 456.7L249.9 459L250.7 455.4L251.5 454.3L252.3 453.5L253.1 450.8L253.9 451.4L254.7 457.7L255.5 475.5L256.3 462.5L257.1 461.8L257.9 464.9L258.7 510L259.5 460.2L260.3 458.3L261.1 456L261.9 454L262.7 449.8L263.5 444.9L264.3 440.8L265.1 438.5L265.9 434L266.7 435.1L267.5 438L268.3 438.7L269.1 436.7L269.9 439.7L270.7 442.8L271.5 448.3L272.3 451.5L273.1 457.5L273.9 457.5L274.7 456L275.5 458.2L276.3 464.5L277.1 465.5L277.9 469.9L278.7 471.5L279.5 469.5L280.3 467.4L281.1 465.4L281.9 476.3L282.7 465.4L283.5 466.1L284.3 465.4L285.1 459.4L285.9 453.6L286.7 458.8L287.5 449.9L288.3 447.6L289.1 457.3L289.9 442.3L290.7 434.6L291.5 444.5L292.3 437.2L293.1 438.8L293.9 463.8L294.7 441.8L295.5 444.8L296.3 446.2L297.1 446.1L297.9 443.8L298.7 442.4L299.5 439.8L300.3 438.8L301.1 437.5L301.9 436.1L302.7 433L303.5 430.9L304.3 430.8L305.1 432.5L305.9 471.6L306.7 443.6L307.5 444.1L308.3 449.1L309.1 450.1L309.9 453.1L310.7 453.8L311.5 473.3L312.3 449.5L313.1 447.1L313.9 444.8L314.7 442.8L315.5 438.1L316.3 435.5L317.1 476.1L317.9 475.8L318.7 436.4L319.5 511.2L320.3 494.4L321.1 486L321.9 497.9L322.7 474.3L323.5 440.6L324.3 536L325.1 434.7L325.9 488.7L326.7 462.9L327.5 530.7L328.3 451.7L329.1 536.8L329.9 444.4L330.7 442L331.5 463.7L332.3 466.3L333.1 466.9L333.9 490.4L334.7 483.4L335.5 523.2L336.3 509.2L337.1 441.1L337.9 495.3L338.7 483.5L339.5 494.8L340.3 478.9L341.1 485.6L341.9 520.7L342.7 445.7L343.5 456.3L344.3 474.1L345.1 450.3L345.9 454L346.7 539.6L347.5 508.8L348.3 497.3L349.1 455.5L349.9 544.4L350.7 470.6L351.5 471.7L352.3 512.1L353.1 442.6L353.9 468.4L354.7 475L355.5 474.6L356.3 592.9L357.1 510.7L357.9 496.5L358.7 534.4L359.5 553.4L360.3 517.9L361.1 487L361.9 534.8L362.7 500.7L363.5 465.5L364.3 515.8L365.1 515.2L365.9 493.7L366.7 514.2L367.5 451.3L368.3 476.8L369.1 490.4L369.9 485.5L370.7 453L371.5 452.5L372.3 451.2L373.1 468.7L373.9 480.7L374.7 493.6L375.5 453.5L376.3 625.3L377.1 535.8L377.9 501.9L378.7 477L379.5 567L380.3 493.6L381.1 467.2L381.9 502.5L382.7 535L383.5 529.7L384.3 488.3L385.1 548.3L385.9 507.1L386.7 459.2L387.5 460.3L388.3 544.1L389.1 514.1L389.9 522.3L390.7 493L391.5 515.5L392.3 554.5L393.1 542.3L393.9 562.1L394.7 534.6L395.5 545.1L396.3 557.5L397.1 516.8L397.9 488.4L398.7 560.3L399.5 530.6L400.3 486.6L401.1 548.2L401.9 480L402.7 492.4L403.5 568.4L404.3 582L405.1 544.2L405.9 557.6L406.7 528.6L407.5 558L408.3 507.2L409.1 475.9L409.9 497.6L410.7 588L411.5 490.2L412.3 479.7L413.1 583.6L413.9 503L414.7 551.4L415.5 544.8L416.3 543.1L417.1 568.2L417.9 533.3L418.7 524.6L419.5 504.8L420.3 483.3L421.1 552.6L421.9 509.8L422.7 490.2L423.5 509.1L424.3 583.5L425.1 500.6L425.9 504.8L426.7 500.6L427.5 543.7L428.3 596.5L429.1 564.1L429.9 570.1L430.7 597.4L431.5 547.1L432.3 575.4L433.1 580.1L433.9 496L434.7 526.5L435.5 574.9L436.3 522.7L437.1 566.7L437.9 509.2L438.7 550.8L439.5 522.3L440.3 524.7L441.1 568.3L441.9 518L442.7 591.4L443.5 559.3L444.3 499.5L445.1 556.3L445.9 595.2L446.7 525.6L447.5 478.2L448.3 490.1L449.1 500.6L449.9 479.2L450.7 543.3L451.5 552.5L452.3 481.4L453.1 486.6L453.9 502.7L454.7 588.8L455.5 548.7L456.3 556.9L457.1 533.3L457.9 485.1L458.7 579.3L459.5 511.1L460.3 534.2L461.1 576.9L461.9 540.1L462.7 545.8L463.5 562.9L464.3 586L465.1 517.3L465.9 593.5L466.7 515.3L467.5 528.8L468.3 505.5L469.1 494.9L469.9 495.3L470.7 579L471.5 562L472.3 591.6L473.1 548.5L473.9 595.5L474.7 516.8" fill="none" stroke="#EDB120" stroke-width="1.2" stroke-linejoin="round"/>
<path d="M87.5 457.1L88.3 457.5L89.1 463L89.9 462.1L90.7 449.2L91.5 478.8L92.3 450.2L93.1 444.8L93.9 446.8L94.7 437.1L95.5 432.1L96.3 422.1L97.1 419.4L97.9 433.1L98.7 433.7L99.5 433.2L100.3 434.3L101.1 435.1L101.9 444.6L102.7 454.3L103.5 453.6L104.3 456.5L105.1 477.6L105.9 456.5L106.7 476.3L107.5 452L108.3 450.1L109.1 449.4L109.9 443.9L110.7 448.8L111.5 449.4L112.3 447.6L113.1 438.3L113.9 443.5L114.7 449.5L115.5 449.7L116.3 445.6L117.1 443.8L117.9 443.5L118.7 446.1L119.5 447.3L120.3 460.2L121.1 460.8L121.9 463.8L122.7 466L123.5 471.3L124.3 473.4L125.1 474.2L125.9 470.6L126.7 467.4L127.5 506.2L128.3 467.2L129.1 464.6L129.9 462.1L130.7 462.2L131.5 463.3L132.3 461.5L133.1 463.2L133.9 475.3L134.7 476.7L135.5 480.2L136.3 481.6L137.1 481.1L137.9 522.6L138.7 483.9L139.5 483L140.3 483.3L141.1 481.6L141.9 479.1L142.7 477L143.5 476.3L144.3 475.8L145.1 473.2L145.9 471.5L146.7 473.9L147.5 474.8L148.3 473.7L149.1 472.8L149.9 471.4L150.7 469.5L151.5 471.3L152.3 470.8L153.1 468.1L153.9 467.9L154.7 466L155.5 465.7L156.3 469.2L157.1 470.7L157.9 474.5L158.7 474.1L159.5 473.6L160.3 477.1L161.1 476.4L161.9 474.3L162.7 472.5L163.5 501.7L164.3 472.9L165.1 470.5L165.9 471.5L166.7 479L167.5 473.6L168.3 472.8L169.1 473.5L169.9 474.6L170.7 474.7L171.5 486.8L172.3 491.3L173.1 475.3L173.9 474.4L174.7 473.8L175.5 473.9L176.3 474.6L177.1 475L177.9 476.1L178.7 474.8L179.5 472L180.3 470.5L181.1 471.6L181.9 470.3L182.7 489.7L183.5 469L184.3 466.9L185.1 461.5L185.9 461.3L186.7 463.3L187.5 461.4L188.3 465.4L189.1 459.8L189.9 462.3L190.7 460.7L191.5 481.5L192.3 462.5L193.1 461.7L193.9 463.9L194.7 465.3L195.5 466.2L196.3 493.2L197.1 472.3L197.9 474.6L198.7 475.5L199.5 474.8L200.3 475.5L201.1 493.2L201.9 471L202.7 466.5L203.5 462.6L204.3 463L205.1 462L205.9 463.6L206.7 462.1L207.5 463.4L208.3 465.3L209.1 466.7L209.9 468.5L210.7 471.3L211.5 479.5L212.3 472.6L213.1 472.6L213.9 477.3L214.7 480.5L215.5 492.2L216.3 470.4L217.1 468.6L217.9 464.4L218.7 461.8L219.5 459.6L220.3 459L221.1 455.7L221.9 454.7L222.7 455L223.5 450.6L224.3 444.6L225.1 444L225.9 444.8L226.7 445.9L227.5 446.6L228.3 448.8L229.1 447.5L229.9 448.2L230.7 450.5L231.5 455L232.3 455.6L233.1 454.1L233.9 455.8L234.7 457.9L235.5 457.3L236.3 459.5L237.1 461.4L237.9 467L238.7 510.5L239.5 472.1L240.3 472.7L241.1 475.7L241.9 530.8L242.7 528.2L243.5 474.3L244.3 489.4L245.1 467.8L245.9 467.1L246.7 466.2L247.5 465.2L248.3 461.6L249.1 506.6L249.9 458.1L250.7 456L251.5 455.1L252.3 454.2L253.1 449.2L253.9 444.7L254.7 444.4L255.5 446.7L256.3 451.3L257.1 458.1L257.9 466.1L258.7 461.1L259.5 513.1L260.3 476.3L261.1 456.8L261.9 471.9L262.7 450.7L263.5 446.9L264.3 441.3L265.1 438.1L265.9 437.5L266.7 439.5L267.5 436.5L268.3 436.7L269.1 438.4L269.9 443.3L270.7 444.6L271.5 446.5L272.3 448.6L273.1 447.7L273.9 449.7L274.7 452L275.5 458.8L276.3 461.1L277.1 461.9L277.9 464.6L278.7 464L279.5 463.6L280.3 488.9L281.1 463L281.9 463.6L282.7 458.9L283.5 459.5L284.3 459.3L285.1 454.3L285.9 452.7L286.7 448.4L287.5 446.8L288.3 454.2L289.1 438.1L289.9 435.5L290.7 431.5L291.5 433.3L292.3 437.1L293.1 482.3L293.9 447.1L294.7 444.1L295.5 447.3L296.3 448.2L297.1 451.4L297.9 448.4L298.7 446.5L299.5 446.2L300.3 443.4L301.1 439.2L301.9 441.1L302.7 439.3L303.5 438.1L304.3 432L305.1 432.6L305.9 433.3L306.7 434.1L307.5 437.9L308.3 441.9L309.1 440.2L309.9 445L310.7 446.4L311.5 477.5L312.3 448.8L313.1 447.1L313.9 446.8L314.7 456.4L315.5 441.5L316.3 490.8L317.1 485.3L317.9 453.6L318.7 466.1L319.5 478.5L320.3 471.7L321.1 442L321.9 472.5L322.7 457.6L323.5 510.7L324.3 479.5L325.1 440.3L325.9 447.5L326.7 519L327.5 443.8L328.3 452.4L329.1 458.8L329.9 472.9L330.7 563L331.5 454.1L332.3 521.7L333.1 451.1L333.9 444.6L334.7 517.1L335.5 511.3L336.3 485.2L337.1 440.4L337.9 520.3L338.7 499.6L339.5 557.1L340.3 493.9L341.1 516.7L341.9 542.3L342.7 482.8L343.5 466.6L344.3 483L345.1 488.6L345.9 517L346.7 560.2L347.5 540.3L348.3 443.5L349.1 468.3L349.9 531.7L350.7 454.2L351.5 489.2L352.3 492.5L353.1 452.2L353.9 485.5L354.7 516.8L355.5 442.2L356.3 504.7L357.1 501.6L357.9 509.2L358.7 471.4L359.5 454.7L360.3 496.3L361.1 502.3L361.9 557.5L362.7 458.1L363.5 518.2L364.3 513.1L365.1 502.8L365.9 453.3L366.7 456.6L367.5 448.5L368.3 515.6L369.1 521.1L369.9 520.1L370.7 581.8L371.5 473.9L372.3 459.4L373.1 519.5L373.9 456.1L374.7 476.2L375.5 454.3L376.3 460.4L377.1 539.9L377.9 502.7L378.7 575.7L379.5 537.3L380.3 497.5L381.1 460.1L381.9 477.8L382.7 529.5L383.5 496.2L384.3 459.1L385.1 502.1L385.9 492.1L386.7 497.1L387.5 551.5L388.3 507.6L389.1 496.3L389.9 474.1L390.7 514.7L391.5 551.2L392.3 514L393.1 570.4L393.9 552.5L394.7 533.1L395.5 485.4L396.3 542.2L397.1 482.1L397.9 556.9L398.7 549.6L399.5 581.3L400.3 522L401.1 542.9L401.9 517.8L402.7 485.2L403.5 486.5L404.3 494L405.1 561.2L405.9 557.4L406.7 488.6L407.5 605L408.3 591.2L409.1 479.4L409.9 510.6L410.7 495.9L411.5 523.7L412.3 489L413.1 540.7L413.9 546.4L414.7 545.1L415.5 510.6L416.3 494.6L417.1 491.2L417.9 507.1L418.7 488L419.5 548.8L420.3 487.6L421.1 591.9L421.9 501.2L422.7 511.6L423.5 586.2L424.3 513L425.1 523L425.9 542L426.7 555.8L427.5 493.1L428.3 507.6L429.1 575.3L429.9 493.3L430.7 520.2L431.5 493.5L432.3 504.8L433.1 544.7L433.9 489.5L434.7 539.7L435.5 497.8L436.3 546L437.1 567.8L437.9 521.4L438.7 508.5L439.5 502.9L440.3 593.3L441.1 569.8L441.9 496.3L442.7 590.3L443.5 551.1L444.3 569.7L445.1 554.4L445.9 516.3L446.7 478.5L447.5 583.1L448.3 577.5L449.1 577.3L449.9 535.9L450.7 569.3L451.5 587.2L452.3 572.6L453.1 499.6L453.9 512.8L454.7 554.9L455.5 527.4L456.3 503.9L457.1 570.1L457.9 488.1L458.7 567.4L459.5 581.6L460.3 513.5L461.1 568.9L461.9 547.2L462.7 497.6L463.5 575.2L464.3 509.9L465.1 572.6L465.9 489.1L466.7 510.7L467.5 595L468.3 508.3L469.1 543L469.9 553.3L470.7 526L471.5 517.7L472.3 564.4L473.1 625.3L473.9 521.3L474.7 569.8" fill="none" stroke="#7E2F8E" stroke-width="1.2" stroke-linejoin="round"/>
<path d="M87.5 455.5L88.3 458L89.1 454.8L89.9 452.3L90.7 448.9L91.5 450.2L92.3 446L93.1 443.9L93.9 439.8L94.7 446.5L95.5 433.7L96.3 436.1L97.1 440L97.9 440.7L98.7 437.9L99.5 432.6L100.3 433.8L101.1 434.3L101.9 435.3L102.7 445.3L103.5 441.1L104.3 440.2L105.1 443.1L105.9 444.4L106.7 502.8L107.5 465.8L108.3 462L109.1 459.5L109.9 455.9L110.7 460.7L111.5 462.8L112.3 465.7L113.1 462.6L113.9 460.8L114.7 457L115.5 452.2L116.3 454.8L117.1 461.7L117.9 468.8L118.7 469.9L119.5 461.2L120.3 468.3L121.1 469.7L121.9 464.7L122.7 485.6L123.5 484.6L124.3 486L125.1 484.6L125.9 481.6L126.7 479.2L127.5 477.4L128.3 470.7L129.1 473.8L129.9 468L130.7 466L131.5 461.6L132.3 462.9L133.1 463.6L133.9 471.3L134.7 476.2L135.5 480.6L136.3 515.4L137.1 480.3L137.9 482.8L138.7 480.9L139.5 478.4L140.3 478.8L141.1 480.1L141.9 488.2L142.7 479.4L143.5 481.4L144.3 481.2L145.1 477.9L145.9 479.6L146.7 481.4L147.5 480.9L148.3 478.5L149.1 477.6L149.9 478L150.7 478L151.5 477.8L152.3 478.8L153.1 479L153.9 486.3L154.7 477L155.5 478.5L156.3 479.8L157.1 474.7L157.9 472L158.7 470.5L159.5 470L160.3 469.5L161.1 470.5L161.9 467.4L162.7 466.3L163.5 464.6L164.3 467.6L165.1 467.2L165.9 465.4L166.7 464.9L167.5 465.9L168.3 496.1L169.1 464.2L169.9 465.2L170.7 465.7L171.5 466.6L172.3 468.3L173.1 470.3L173.9 471.5L174.7 476.7L175.5 468L176.3 468.2L177.1 467.8L177.9 469.4L178.7 467.7L179.5 465.4L180.3 467.7L181.1 465.7L181.9 467.2L182.7 468.9L183.5 468.3L184.3 466L185.1 461.5L185.9 459.2L186.7 460.1L187.5 458.8L188.3 459.3L189.1 458.6L189.9 461.3L190.7 462L191.5 462.9L192.3 467.2L193.1 470.2L193.9 472.5L194.7 473.3L195.5 473.2L196.3 472.4L197.1 488.3L197.9 469.9L198.7 472.6L199.5 468.2L200.3 486.6L201.1 464.1L201.9 463L202.7 466.1L203.5 465.4L204.3 493.6L205.1 466.4L205.9 463.4L206.7 461.7L207.5 462.9L208.3 464.2L209.1 463.5L209.9 462.2L210.7 464.1L211.5 463.5L212.3 464.3L213.1 466L213.9 465.8L214.7 467.4L215.5 463.8L216.3 496.4L217.1 463.8L217.9 455.8L218.7 451.3L219.5 449.9L220.3 448.5L221.1 449.7L221.9 452.4L222.7 480.3L223.5 462.7L224.3 446.1L225.1 481.2L225.9 444.6L226.7 455.8L227.5 443.7L228.3 448.9L229.1 447.5L229.9 446.9L230.7 449.9L231.5 453.7L232.3 455.1L233.1 456.8L233.9 459.2L234.7 461L235.5 461.5L236.3 467L237.1 481.3L237.9 467.8L238.7 469.6L239.5 471L240.3 472.6L241.1 473.2L241.9 473.8L242.7 509.2L243.5 470L244.3 469.8L245.1 469.7L245.9 466.1L246.7 520.1L247.5 467.7L248.3 466.4L249.1 467.5L249.9 464.8L250.7 464.6L251.5 461.5L252.3 457.7L253.1 454.8L253.9 449.4L254.7 450.8L255.5 458.1L256.3 461.3L257.1 497.3L257.9 460.4L258.7 464.2L259.5 463.3L260.3 461.2L261.1 459.3L261.9 453.6L262.7 449.5L263.5 446.6L264.3 457.1L265.1 444.4L265.9 437.9L266.7 481.1L267.5 437.6L268.3 438.7L269.1 441.1L269.9 439L270.7 442.2L271.5 444.6L272.3 444.1L273.1 477.2L273.9 453.2L274.7 453.1L275.5 455.1L276.3 459.8L277.1 507.5L277.9 465.2L278.7 466.4L279.5 467.1L280.3 468.4L281.1 466.2L281.9 467.5L282.7 467.8L283.5 462.3L284.3 458.8L285.1 454.9L285.9 451.8L286.7 448L287.5 450.4L288.3 463.5L289.1 449.7L289.9 434.4L290.7 432.5L291.5 434.2L292.3 435.6L293.1 435.9L293.9 435.7L294.7 436.8L295.5 441.4L296.3 455.2L297.1 439L297.9 439.1L298.7 436.3L299.5 435.6L300.3 436.1L301.1 437.2L301.9 435.7L302.7 432.2L303.5 436.2L304.3 434.4L305.1 433.5L305.9 432.4L306.7 434.8L307.5 433.9L308.3 434.3L309.1 432.6L309.9 435.1L310.7 435.8L311.5 435.1L312.3 433.2L313.1 438.1L313.9 436.1L314.7 438.4L315.5 435.9L316.3 446.5L317.1 445.2L317.9 477.7L318.7 463.7L319.5 435L320.3 456.1L321.1 438.9L321.9 431.7L322.7 471.5L323.5 448.3L324.3 472.8L325.1 517.1L325.9 497.5L326.7 495L327.5 535.1L328.3 532.3L329.1 439.1L329.9 509.2L330.7 446.5L331.5 507.2L332.3 579.7L333.1 436.2L333.9 455.2L334.7 438.2L335.5 523.7L336.3 454.8L337.1 521.4L337.9 550.5L338.7 520.7L339.5 452.9L340.3 539.2L341.1 476.2L341.9 472.2L342.7 471.5L343.5 487.3L344.3 497.1L345.1 460.2L345.9 525.6L346.7 462.6L347.5 497.4L348.3 473.1L349.1 463L349.9 464.2L350.7 460.1L351.5 483.9L352.3 524.7L353.1 478.5L353.9 491.4L354.7 503.8L355.5 510.6L356.3 504.2L357.1 495.9L357.9 448.1L358.7 444.9L359.5 449.5L360.3 521.3L361.1 503.4L361.9 447L362.7 467.5L363.5 485.7L364.3 509.3L365.1 491.8L365.9 523.8L366.7 541.6L367.5 462.5L368.3 479L369.1 567L369.9 532.2L370.7 513.6L371.5 513.9L372.3 547.2L373.1 585.7L373.9 533.8L374.7 453.7L375.5 465.5L376.3 551.5L377.1 535.6L377.9 467.5L378.7 516.4L379.5 473.1L380.3 560.2L381.1 477.8L381.9 472.3L382.7 507.7L383.5 538L384.3 474.2L385.1 463.9L385.9 535.9L386.7 574.8L387.5 488.4L388.3 506.5L389.1 499.9L389.9 495.1L390.7 554.9L391.5 490.8L392.3 556.7L393.1 525.8L393.9 545.3L394.7 620.3L395.5 533.1L396.3 503L397.1 472.2L397.9 477.6L398.7 494.4L399.5 508.3L400.3 544.5L401.1 495.5L401.9 526.5L402.7 500.9L403.5 481L404.3 475.9L405.1 534.4L405.9 474.6L406.7 506L407.5 550.7L408.3 553.7L409.1 532.8L409.9 544.3L410.7 493.5L411.5 625.3L412.3 589.4L413.1 538.8L413.9 522.5L414.7 568.9L415.5 563.2L416.3 527.2L417.1 500.2L417.9 487.6L418.7 496.7L419.5 513.5L420.3 526.7L421.1 515.6L421.9 494.8L422.7 527.3L423.5 582.5L424.3 502.8L425.1 551.5L425.9 588.2L426.7 561.9L427.5 500.2L428.3 488.4L429.1 550.4L429.9 496.6L430.7 506L431.5 498.7L432.3 559.6L433.1 571.6L433.9 525.3L434.7 556L435.5 528.1L436.3 605.2L437.1 573L437.9 502.6L438.7 524.9L439.5 511L440.3 557.3L441.1 540.9L441.9 502.1L442.7 568.2L443.5 539.8L444.3 588.5L445.1 542.8L445.9 541.8L446.7 506.3L447.5 489.3L448.3 558.4L449.1 579.4L449.9 493.7L450.7 526.7L451.5 503L452.3 521.6L453.1 555.8L453.9 561L454.7 593.6L455.5 490.5L456.3 519.6L457.1 542L457.9 490.7L458.7 516.6L459.5 510.7L460.3 577.2L461.1 586.7L461.9 574.9L462.7 511.3L463.5 583L464.3 602.2L465.1 524.1L465.9 523.4L466.7 502.2L467.5 587L468.3 537.1L469.1 546.1L469.9 498L470.7 526.6L471.5 600.8L472.3 518.7L473.1 558L473.9 535.5L474.7 575.5" fill="none" stroke="#77AC30" stroke-width="1.2" stroke-linejoin="round"/>
<path d="M87.5 459.2L88.3 458.3L89.1 456.5L89.9 457.6L90.7 460.2L91.5 461.3L92.3 461.2L93.1 460L93.9 466L94.7 462.9L95.5 459.5L96.3 461.5L97.1 461.4L97.9 456.1L98.7 448.2L99.5 446.4L100.3 444L101.1 443L101.9 440L102.7 443.2L103.5 439.1L104.3 434.5L105.1 438.8L105.9 442.8L106.7 451.7L107.5 446.7L108.3 449.3L109.1 453.3L109.9 452.4L110.7 455.1L111.5 458.6L112.3 456.1L113.1 449.4L113.9 451.8L114.7 454.6L115.5 446.8L116.3 447.7L117.1 449L117.9 448.8L118.7 450.4L119.5 446L120.3 454.5L121.1 454L121.9 446.6L122.7 447.8L123.5 452.6L124.3 452.6L125.1 461.3L125.9 463.2L126.7 468L127.5 473.8L128.3 474L129.1 476.9L129.9 482.2L130.7 478.6L131.5 486.6L132.3 474L133.1 474.3L133.9 479L134.7 474.2L135.5 480.1L136.3 479.3L137.1 515.6L137.9 478.7L138.7 478.2L139.5 480.7L140.3 479.7L141.1 477.4L141.9 477.8L142.7 472.4L143.5 479.1L144.3 471.7L145.1 470.8L145.9 469.8L146.7 465.9L147.5 464.1L148.3 466.7L149.1 462.2L149.9 464.8L150.7 462.7L151.5 465.4L152.3 463.1L153.1 464.2L153.9 468L154.7 470.6L155.5 469.6L156.3 472.9L157.1 473.4L157.9 474.3L158.7 473.9L159.5 476.8L160.3 475.2L161.1 469.6L161.9 468.9L162.7 467.7L163.5 466.3L164.3 468.7L165.1 466.2L165.9 466.3L166.7 468.1L167.5 468.6L168.3 472.7L169.1 470.3L169.9 471.8L170.7 474L171.5 472.9L172.3 474.6L173.1 474.5L173.9 471.5L174.7 471L175.5 469.4L176.3 471.3L177.1 466L177.9 465.5L178.7 462.9L179.5 460.6L180.3 461.4L181.1 462.4L181.9 462L182.7 460.8L183.5 457.6L184.3 458.8L185.1 455.4L185.9 455.6L186.7 457L187.5 458.5L188.3 458.8L189.1 458.3L189.9 459.2L190.7 459.3L191.5 460.6L192.3 462.9L193.1 465.2L193.9 464.9L194.7 475.1L195.5 466L196.3 492.8L197.1 471.9L197.9 473.1L198.7 474.9L199.5 474.8L200.3 472.4L201.1 473.1L201.9 470L202.7 467.6L203.5 467L204.3 502L205.1 465.8L205.9 462.5L206.7 465.2L207.5 462.8L208.3 465.2L209.1 466.2L209.9 467.8L210.7 507.5L211.5 468.9L212.3 469.6L213.1 472L213.9 471.3L214.7 472.5L215.5 465.4L216.3 463.2L217.1 459.2L217.9 456.3L218.7 463.6L219.5 452.2L220.3 452.3L221.1 451.5L221.9 449.4L222.7 451.9L223.5 451.1L224.3 451L225.1 450.2L225.9 447.5L226.7 446.9L227.5 470.6L228.3 448.1L229.1 449.5L229.9 455.6L230.7 448.4L231.5 447.4L232.3 451.6L233.1 452.2L233.9 453L234.7 452.3L235.5 457.2L236.3 466.4L237.1 457.9L237.9 461.8L238.7 465.3L239.5 473.5L240.3 470.1L241.1 472.3L241.9 507.4L242.7 535.9L243.5 479.6L244.3 478.3L245.1 474.8L245.9 513.6L246.7 469.8L247.5 465.8L248.3 464.6L249.1 463.2L249.9 457.9L250.7 456.9L251.5 454.5L252.3 452.3L253.1 451.7L253.9 447.4L254.7 447.6L255.5 448.4L256.3 450.9L257.1 451.4L257.9 504L258.7 456.4L259.5 454.9L260.3 453.2L261.1 454.7L261.9 453.3L262.7 452.4L263.5 448.5L264.3 448.3L265.1 439.9L265.9 437.5L266.7 437.4L267.5 438.9L268.3 440.2L269.1 442.3L269.9 444.9L270.7 448.2L271.5 451.3L272.3 454.7L273.1 458.6L273.9 460.6L274.7 461.4L275.5 462.4L276.3 462.8L277.1 462.5L277.9 464.7L278.7 465L279.5 463.5L280.3 463.3L281.1 510.6L281.9 465.3L282.7 464.1L283.5 464L284.3 463.9L285.1 462L285.9 458.1L286.7 466L287.5 450L288.3 443.9L289.1 441L289.9 437.6L290.7 435.3L291.5 433.7L292.3 444.8L293.1 434.4L293.9 436.3L294.7 439.2L295.5 442.2L296.3 444.2L297.1 442.9L297.9 443.4L298.7 442.8L299.5 452.1L300.3 440L301.1 438.6L301.9 436.1L302.7 434.6L303.5 430.6L304.3 431.2L305.1 428.8L305.9 431.8L306.7 432.6L307.5 435.9L308.3 436.3L309.1 438.5L309.9 440.4L310.7 445L311.5 443.6L312.3 443.1L313.1 441.6L313.9 442.3L314.7 440.6L315.5 440.8L316.3 438.4L317.1 478.8L317.9 480L318.7 457.3L319.5 474L320.3 473.6L321.1 483.3L321.9 502.6L322.7 482L323.5 442.7L324.3 440.5L325.1 478.5L325.9 461.6L326.7 504.5L327.5 461.1L328.3 469.2L329.1 516.4L329.9 475.3L330.7 495.9L331.5 468.4L332.3 448.4L333.1 449.7L333.9 449.5L334.7 510.6L335.5 440.1L336.3 549.5L337.1 505.1L337.9 502.3L338.7 487.5L339.5 508.9L340.3 524.4L341.1 544.2L341.9 463.4L342.7 487.6L343.5 486.7L344.3 458.6L345.1 528.7L345.9 462.3L346.7 486.1L347.5 462.2L348.3 477L349.1 519.3L349.9 556.2L350.7 443.5L351.5 544L352.3 511L353.1 532L353.9 523.7L354.7 533.3L355.5 505.3L356.3 500.4L357.1 458.3L357.9 445.4L358.7 463.8L359.5 483.2L360.3 532.3L361.1 478.8L361.9 449.5L362.7 481.3L363.5 519.3L364.3 469.8L365.1 513.4L365.9 521.7L366.7 494.5L367.5 488.6L368.3 474.2L369.1 532.1L369.9 518.9L370.7 464.6L371.5 456.4L372.3 485.2L373.1 555.7L373.9 481.3L374.7 455.3L375.5 508.5L376.3 510.4L377.1 485L377.9 510.3L378.7 516.2L379.5 477.2L380.3 468.7L381.1 455L381.9 490L382.7 541.7L383.5 512.6L384.3 457.4L385.1 492L385.9 485.6L386.7 519.2L387.5 481.4L388.3 538.2L389.1 541L389.9 547L390.7 536.2L391.5 542L392.3 531.4L393.1 554.8L393.9 525.6L394.7 514.3L395.5 467.8L396.3 545.3L397.1 533.5L397.9 599.8L398.7 525.7L399.5 539.9L400.3 561.7L401.1 506.2L401.9 554.2L402.7 523.5L403.5 496.8L404.3 483.4L405.1 528.8L405.9 547.3L406.7 533.1L407.5 565.4L408.3 494L409.1 553L409.9 496.7L410.7 534L411.5 551.7L412.3 575.8L413.1 559.9L413.9 494.4L414.7 568.3L415.5 491.5L416.3 572.2L417.1 533.5L417.9 570.9L418.7 597.9L419.5 560.3L420.3 538.1L421.1 598.3L421.9 508L422.7 573.6L423.5 527.5L424.3 567.9L425.1 505.9L425.9 501.6L426.7 543.4L427.5 536.2L428.3 485.2L429.1 513.4L429.9 550.7L430.7 512L431.5 504.4L432.3 576.5L433.1 570.8L433.9 529.2L434.7 575.9L435.5 538.2L436.3 493.7L437.1 572.8L437.9 501.7L438.7 506.4L439.5 489.4L440.3 614L441.1 574.2L441.9 526.2L442.7 578.9L443.5 507.4L444.3 499.1L445.1 561.6L445.9 481.6L446.7 520L447.5 548L448.3 569.4L449.1 616.5L449.9 492.5L450.7 490.3L451.5 520.5L452.3 505.4L453.1 600.4L453.9 501.6L454.7 538.3L455.5 576.6L456.3 486.3L457.1 481.3L457.9 598.7L458.7 604.2L459.5 551.3L460.3 512.9L461.1 620.8L461.9 559.8L462.7 489.5L463.5 500.9L464.3 598.2L465.1 611L465.9 509.2L466.7 538L467.5 557L468.3 563.6L469.1 567.5L469.9 560L470.7 605.4L471.5 533.2L472.3 574L473.1 613.7L473.9 542L474.7 535.9" fill="none" stroke="#4DBEEE" stroke-width="1.2" stroke-linejoin="round"/>
<path d="M87.5 460.7L88.3 465.4L89.1 468.2L89.9 469.7L90.7 465.2L91.5 472L92.3 469.4L93.1 460.2L93.9 457.9L94.7 469.2L95.5 460.1L96.3 455.2L97.1 447.8L97.9 446.6L98.7 457.4L99.5 438L100.3 462.5L101.1 437.8L101.9 429.5L102.7 433L103.5 431.5L104.3 437.4L105.1 446.1L105.9 450.4L106.7 451.6L107.5 451L108.3 451.4L109.1 456.7L109.9 457.6L110.7 461.6L111.5 463L112.3 456L113.1 455.8L113.9 454L114.7 459L115.5 462L116.3 460.2L117.1 463.6L117.9 463.8L118.7 470.2L119.5 473.2L120.3 475.6L121.1 479.3L121.9 476.6L122.7 477.4L123.5 483.7L124.3 479.8L125.1 480.7L125.9 472.9L126.7 476.9L127.5 483.1L128.3 484.5L129.1 483.8L129.9 490.6L130.7 495.5L131.5 492.3L132.3 491.6L133.1 493.2L133.9 490.3L134.7 492.3L135.5 530.7L136.3 486.2L137.1 484.8L137.9 481.6L138.7 484.4L139.5 485.5L140.3 489.7L141.1 486.3L141.9 482.2L142.7 484L143.5 482.6L144.3 479.9L145.1 477.2L145.9 472.9L146.7 470.8L147.5 468.4L148.3 470.1L149.1 472.2L149.9 468.5L150.7 468.2L151.5 469.3L152.3 470.5L153.1 472.2L153.9 472.7L154.7 471.9L155.5 471.5L156.3 468.5L157.1 468.3L157.9 469.6L158.7 468.8L159.5 468L160.3 466.7L161.1 466L161.9 464.3L162.7 488.7L163.5 467L164.3 469.4L165.1 469.5L165.9 471.8L166.7 475.1L167.5 477.1L168.3 490L169.1 484.6L169.9 479.5L170.7 476.5L171.5 483.4L172.3 477L173.1 473.9L173.9 471.1L174.7 470.3L175.5 470.9L176.3 468.8L177.1 466.6L177.9 466.7L178.7 465.7L179.5 463L180.3 467L181.1 468.2L181.9 466.5L182.7 463L183.5 466.7L184.3 466L185.1 465.5L185.9 467.7L186.7 468.1L187.5 466L188.3 464.4L189.1 466.6L189.9 468.8L190.7 464.7L191.5 461.9L192.3 460.8L193.1 461.2L193.9 466.1L194.7 461.7L195.5 461.6L196.3 461.9L197.1 460.8L197.9 465.4L198.7 468.2L199.5 469.2L200.3 480.5L201.1 481.2L201.9 465.5L202.7 465.3L203.5 462.6L204.3 461.4L205.1 458.1L205.9 460L206.7 458.4L207.5 456.7L208.3 460.3L209.1 461.4L209.9 465.5L210.7 467.9L211.5 471.2L212.3 474.1L213.1 473.9L213.9 472.4L214.7 499.2L215.5 477.2L216.3 463.5L217.1 457.8L217.9 455.1L218.7 452L219.5 448.8L220.3 447.5L221.1 451.5L221.9 452.6L222.7 452.6L223.5 452.4L224.3 452.7L225.1 449.7L225.9 451.4L226.7 453.7L227.5 465.5L228.3 452.2L229.1 451.4L229.9 462.8L230.7 451.7L231.5 451.5L232.3 452.2L233.1 450.8L233.9 450.4L234.7 452.7L235.5 453.2L236.3 455.8L237.1 454.8L237.9 455.4L238.7 470.7L239.5 461.6L240.3 464.6L241.1 525.9L241.9 475.6L242.7 478.9L243.5 477.6L244.3 475L245.1 473L245.9 502.3L246.7 468.2L247.5 467L248.3 462.1L249.1 459.8L249.9 456.6L250.7 455.1L251.5 456.9L252.3 472.1L253.1 472L253.9 456.2L254.7 455.8L255.5 457.4L256.3 464.1L257.1 465L257.9 467.4L258.7 518.3L259.5 461.8L260.3 458.3L261.1 456.2L261.9 452L262.7 451.1L263.5 447.2L264.3 447L265.1 442.5L265.9 439.7L266.7 440.6L267.5 439.7L268.3 441.4L269.1 442.5L269.9 442.3L270.7 441L271.5 439.5L272.3 452.2L273.1 483.8L273.9 450.8L274.7 455.2L275.5 457.5L276.3 462.8L277.1 511.7L277.9 467.4L278.7 469L279.5 468.2L280.3 498.5L281.1 464L281.9 469.2L282.7 463.7L283.5 459.5L284.3 458.1L285.1 454L285.9 451.6L286.7 448L287.5 446.4L288.3 443.1L289.1 439.4L289.9 435L290.7 431.8L291.5 433.2L292.3 434.5L293.1 439.4L293.9 443.2L294.7 443L295.5 449.1L296.3 472.3L297.1 449.2L297.9 449.9L298.7 448.3L299.5 466.9L300.3 445.5L301.1 447L301.9 444.7L302.7 442.4L303.5 443.2L304.3 439.8L305.1 459.5L305.9 445.7L306.7 441.9L307.5 443.2L308.3 439.8L309.1 441.6L309.9 440.3L310.7 442L311.5 442.8L312.3 441.3L313.1 440.2L313.9 441.1L314.7 440.2L315.5 443.4L316.3 451.3L317.1 470.1L317.9 478.1L318.7 435.7L319.5 446.9L320.3 460.8L321.1 479L321.9 539.1L322.7 492.2L323.5 527.1L324.3 518.2L325.1 559.6L325.9 507.5L326.7 473.7L327.5 458.9L328.3 516.6L329.1 495.5L329.9 444.3L330.7 451.2L331.5 467L332.3 476.7L333.1 446.4L333.9 520.9L334.7 452.7L335.5 454.8L336.3 468.7L337.1 489.7L337.9 485.2L338.7 493.7L339.5 486.6L340.3 459.9L341.1 467.2L341.9 460.9L342.7 525.8L343.5 521.6L344.3 543.9L345.1 523.9L345.9 457.3L346.7 502.7L347.5 479.6L348.3 483.8L349.1 444.6L349.9 449.6L350.7 520.1L351.5 503.9L352.3 528.9L353.1 488L353.9 443.3L354.7 448.3L355.5 526.4L356.3 462.6L357.1 466.4L357.9 517.9L358.7 483L359.5 452.3L360.3 514.4L361.1 526.4L361.9 510.2L362.7 456.2L363.5 467.9L364.3 457.5L365.1 466.6L365.9 506.7L366.7 453.1L367.5 481.6L368.3 511.7L369.1 495L369.9 452.4L370.7 457.2L371.5 476.9L372.3 461.6L373.1 469.7L373.9 524.4L374.7 541.5L375.5 465.4L376.3 530.3L377.1 507L377.9 548.4L378.7 507L379.5 510.6L380.3 493L381.1 455.2L381.9 499.6L382.7 470.6L383.5 499.4L384.3 527.1L385.1 486.7L385.9 545.9L386.7 501.3L387.5 520.4L388.3 465L389.1 526.2L389.9 531L390.7 474.1L391.5 562L392.3 479.7L393.1 507.3L393.9 517.5L394.7 605.1L395.5 501.5L396.3 570.4L397.1 515.3L397.9 497.4L398.7 528.7L399.5 537.6L400.3 538.5L401.1 575.8L401.9 552.9L402.7 571.7L403.5 546.1L404.3 545.5L405.1 514L405.9 477.2L406.7 478.5L407.5 525.9L408.3 517.2L409.1 537.4L409.9 497.3L410.7 568.9L411.5 585.9L412.3 503.7L413.1 490.4L413.9 549.5L414.7 565L415.5 605L416.3 560.3L417.1 582.2L417.9 542.1L418.7 554.5L419.5 489.7L420.3 494.3L421.1 496.3L421.9 528.4L422.7 514.2L423.5 568.3L424.3 561.2L425.1 506.5L425.9 502.6L426.7 502.6L427.5 522L428.3 534.4L429.1 545.6L429.9 502.9L430.7 522.9L431.5 519L432.3 546.8L433.1 537.8L433.9 509.3L434.7 518.2L435.5 578.3L436.3 571.4L437.1 510L437.9 540.3L438.7 484.1L439.5 581L440.3 496.1L441.1 546.2L441.9 575.3L442.7 554.2L443.5 520L444.3 481L445.1 497.4L445.9 478.8L446.7 541.4L447.5 496.1L448.3 477.2L449.1 556.1L449.9 608.9L450.7 580.3L451.5 475.6L452.3 543.8L453.1 535.9L453.9 537.1L454.7 518.3L455.5 532.5L456.3 507.1L457.1 492.9L457.9 580.9L458.7 504.4L459.5 489.4L460.3 491.3L461.1 550.1L461.9 575L462.7 570.7L463.5 546.2L464.3 526L465.1 585.8L465.9 557.7L466.7 525.8L467.5 495.4L468.3 625.3L469.1 495.4L469.9 557.9L470.7 607.1L471.5 576.9L472.3 562.8L473.1 569.4L473.9 619.1L474.7 536.4" fill="none" stroke="#A2142F" stroke-width="1.2" stroke-linejoin="round"/>
<path d="M87.5 452.3L88.3 444.5L89.1 439.2L89.9 435.5L90.7 436.1L91.5 444.2L92.3 441.9L93.1 444.3L93.9 456.7L94.7 432.2L95.5 437.3L96.3 444L97.1 446.5L97.9 441.8L98.7 433L99.5 443.4L100.3 439.7L101.1 442.7L101.9 443.5L102.7 443.1L103.5 435.5L104.3 440.4L105.1 441.3L105.9 444.3L106.7 443.3L107.5 448L108.3 449.7L109.1 451.6L109.9 460.1L110.7 463.2L111.5 457L112.3 453.2L113.1 452.2L113.9 447.3L114.7 442.9L115.5 487.3L116.3 449.2L117.1 444.5L117.9 451.2L118.7 453.9L119.5 455.5L120.3 461.9L121.1 464.7L121.9 465.5L122.7 466.3L123.5 471.4L124.3 475.3L125.1 476.1L125.9 476.8L126.7 481.2L127.5 480.7L128.3 515.1L129.1 484.5L129.9 485.8L130.7 498.1L131.5 486.3L132.3 478.6L133.1 480.1L133.9 484.3L134.7 487.7L135.5 486L136.3 485L137.1 486.6L137.9 524.9L138.7 481.3L139.5 484.2L140.3 483.3L141.1 482.1L141.9 482.5L142.7 480.7L143.5 479.5L144.3 474.2L145.1 476.8L145.9 477.4L146.7 476.2L147.5 479.9L148.3 486.5L149.1 475.9L149.9 474.6L150.7 472.5L151.5 475.4L152.3 474.1L153.1 472.7L153.9 471L154.7 471.3L155.5 469.9L156.3 468.1L157.1 468.8L157.9 470.9L158.7 469.6L159.5 468L160.3 467.4L161.1 467.7L161.9 463.2L162.7 461.1L163.5 485.7L164.3 459.7L165.1 460.2L165.9 458.1L166.7 487.6L167.5 460.7L168.3 461.2L169.1 463.1L169.9 464L170.7 463.8L171.5 466.4L172.3 466.2L173.1 470.5L173.9 470.2L174.7 469.6L175.5 470.1L176.3 471.9L177.1 473.5L177.9 474.2L178.7 472.9L179.5 472L180.3 469.4L181.1 468.3L181.9 467.6L182.7 465.7L183.5 490.6L184.3 458.5L185.1 455.9L185.9 456.3L186.7 456.7L187.5 458L188.3 459.2L189.1 460.3L189.9 462.1L190.7 466.8L191.5 468.2L192.3 469.4L193.1 471.1L193.9 466.5L194.7 469.5L195.5 470.1L196.3 482.7L197.1 471L197.9 485.4L198.7 467.7L199.5 470.2L200.3 491.1L201.1 472.1L201.9 468.9L202.7 464.5L203.5 465.7L204.3 464.7L205.1 466.2L205.9 468.8L206.7 461L207.5 461.5L208.3 458.4L209.1 458L209.9 462.3L210.7 460.5L211.5 461.1L212.3 464.2L213.1 462.6L213.9 468L214.7 470.7L215.5 467.3L216.3 496.1L217.1 459.7L217.9 457L218.7 454L219.5 454.4L220.3 455.5L221.1 452.9L221.9 453.1L222.7 454.5L223.5 456.5L224.3 455.3L225.1 490.8L225.9 454L226.7 450.9L227.5 449L228.3 449.9L229.1 452.3L229.9 450.4L230.7 451.4L231.5 454.3L232.3 453.9L233.1 457.3L233.9 458.6L234.7 463.3L235.5 475.8L236.3 468L237.1 471.6L237.9 473.3L238.7 472.3L239.5 475.1L240.3 477L241.1 481.4L241.9 483.1L242.7 483.8L243.5 479L244.3 474.9L245.1 473.3L245.9 472.1L246.7 470L247.5 462.8L248.3 456.9L249.1 455.8L249.9 453.1L250.7 451.3L251.5 461.7L252.3 452L253.1 448.4L253.9 446.5L254.7 451.4L255.5 455.4L256.3 474.5L257.1 503.2L257.9 465.2L258.7 463.3L259.5 458.8L260.3 457.2L261.1 456.7L261.9 451.7L262.7 446.8L263.5 441.8L264.3 440L265.1 439.4L265.9 435.4L266.7 434.4L267.5 437L268.3 437.8L269.1 442.4L269.9 448.5L270.7 452.3L271.5 453.2L272.3 454.5L273.1 456.6L273.9 460.7L274.7 459.7L275.5 459.1L276.3 458.4L277.1 482L277.9 461.1L278.7 498.9L279.5 467.3L280.3 461.3L281.1 460.2L281.9 462.4L282.7 465.8L283.5 464.4L284.3 488.1L285.1 459.9L285.9 453.9L286.7 450.9L287.5 446.1L288.3 442.9L289.1 437.1L289.9 429.6L290.7 428.1L291.5 428.8L292.3 430L293.1 443.8L293.9 435.5L294.7 436.5L295.5 437.9L296.3 456.6L297.1 444.5L297.9 443.9L298.7 441.5L299.5 437.9L300.3 439.4L301.1 438.5L301.9 439.7L302.7 436.1L303.5 436.2L304.3 451.4L305.1 429.5L305.9 443.9L306.7 434.3L307.5 431.6L308.3 429.4L309.1 433.6L309.9 436.8L310.7 436.2L311.5 436.3L312.3 435.4L313.1 435.6L313.9 439.1L314.7 454.4L315.5 439L316.3 460.3L317.1 434.8L317.9 479L318.7 479.4L319.5 490.9L320.3 440.2L321.1 496.9L321.9 432.3L322.7 498L323.5 505.6L324.3 498.7L325.1 536.1L325.9 510.3L326.7 466L327.5 434.7L328.3 444.7L329.1 514.4L329.9 511.3L330.7 460.5L331.5 585.9L332.3 512.3L333.1 513.8L333.9 447.5L334.7 519.2L335.5 452.2L336.3 470.6L337.1 440.5L337.9 476L338.7 494.7L339.5 505.2L340.3 502.8L341.1 478.6L341.9 476.7L342.7 538.8L343.5 514.2L344.3 446.2L345.1 493L345.9 526.2L346.7 463.9L347.5 513.5L348.3 487.2L349.1 452L349.9 452L350.7 467.4L351.5 478.3L352.3 451.3L353.1 526.2L353.9 451.7L354.7 469.4L355.5 531.9L356.3 518.9L357.1 470.6L357.9 522.9L358.7 461.4L359.5 483L360.3 452.2L361.1 465.7L361.9 484.1L362.7 505.8L363.5 461L364.3 451.4L365.1 587.7L365.9 506.5L366.7 532.1L367.5 507.7L368.3 474.3L369.1 586.7L369.9 546.5L370.7 526.5L371.5 525.9L372.3 452.3L373.1 529.9L373.9 528.4L374.7 528.1L375.5 457.2L376.3 474.3L377.1 454.6L377.9 452.5L378.7 495.4L379.5 507.2L380.3 539.5L381.1 552.1L381.9 501.4L382.7 538.3L383.5 502L384.3 468.1L385.1 474.2L385.9 494.7L386.7 459.6L387.5 487.9L388.3 482.7L389.1 531.7L389.9 561.1L390.7 538.1L391.5 467.2L392.3 535.3L393.1 565.7L393.9 533.2L394.7 545.2L395.5 505.2L396.3 538.7L397.1 536.9L397.9 572.7L398.7 479.1L399.5 483.6L400.3 471.3L401.1 478.6L401.9 470.2L402.7 524.8L403.5 507.4L404.3 565L405.1 530.7L405.9 578.3L406.7 540L407.5 587.6L408.3 547.1L409.1 519L409.9 555.7L410.7 618.4L411.5 511.4L412.3 492.5L413.1 590.4L413.9 498.2L414.7 521.6L415.5 524.6L416.3 546.3L417.1 570.4L417.9 610.4L418.7 543L419.5 500.6L420.3 553.4L421.1 484.3L421.9 549.6L422.7 574.8L423.5 544.9L424.3 579.6L425.1 564.2L425.9 551.9L426.7 487.6L427.5 539.3L428.3 501.2L429.1 589L429.9 485.7L430.7 583.4L431.5 484.7L432.3 563.4L433.1 488L433.9 563.4L434.7 574.7L435.5 512.2L436.3 522.4L437.1 560.1L437.9 486.3L438.7 541.8L439.5 489L440.3 528.4L441.1 500.3L441.9 501.6L442.7 491.2L443.5 563.8L444.3 521.1L445.1 487.6L445.9 530.9L446.7 514.2L447.5 523.6L448.3 506.3L449.1 487L449.9 485.5L450.7 539.7L451.5 479.9L452.3 542.4L453.1 514.9L453.9 517.8L454.7 573.3L455.5 533.1L456.3 549.2L457.1 482.4L457.9 496.5L458.7 549.8L459.5 580.5L460.3 539.1L461.1 525.6L461.9 485.6L462.7 544.6L463.5 582.5L464.3 588.7L465.1 542.4L465.9 547.4L466.7 593.5L467.5 519.8L468.3 524.5L469.1 506.2L469.9 577L470.7 518.4L471.5 537.5L472.3 600.7L473.1 582.7L473.9 518.5L474.7 601.6" fill="none" stroke="#0072BD" stroke-width="1.2" stroke-linejoin="round"/>
<path d="M87.5 453.7L88.3 451.4L89.1 448.9L89.9 446.4L90.7 445.9L91.5 446.2L92.3 444.3L93.1 442.2L93.9 443.4L94.7 444.5L95.5 442.5L96.3 441.2L97.1 443.3L97.9 445.1L98.7 475L99.5 448.1L100.3 444.3L101.1 443.6L101.9 440L102.7 435.6L103.5 437.4L104.3 435.7L105.1 430L105.9 423.9L106.7 425L107.5 437.2L108.3 441.9L109.1 439.8L109.9 451.1L110.7 457.6L111.5 462.7L112.3 460.7L113.1 464.1L113.9 465.9L114.7 466.1L115.5 464.3L116.3 472.1L117.1 473.1L117.9 466.6L118.7 466.2L119.5 470L120.3 473.3L121.1 478.2L121.9 472.8L122.7 479.6L123.5 480.6L124.3 482.9L125.1 488.5L125.9 488.8L126.7 496.7L127.5 496.9L128.3 493.1L129.1 501.5L129.9 487.3L130.7 482.7L131.5 480.4L132.3 477.8L133.1 477.8L133.9 479L134.7 477.6L135.5 479.2L136.3 486.6L137.1 477.3L137.9 479.2L138.7 479.5L139.5 496.2L140.3 480L141.1 475.1L141.9 474.6L142.7 474.4L143.5 472.8L144.3 491.5L145.1 472L145.9 468.8L146.7 465.6L147.5 463.2L148.3 465L149.1 467.6L149.9 466.5L150.7 463.7L151.5 461.4L152.3 457.6L153.1 457.2L153.9 458.6L154.7 462.6L155.5 463.5L156.3 461L157.1 462.7L157.9 465.5L158.7 470.6L159.5 471.5L160.3 471.4L161.1 470.9L161.9 467.7L162.7 463.9L163.5 463.9L164.3 463.4L165.1 463L165.9 485.7L166.7 461.7L167.5 461.3L168.3 461.3L169.1 459.5L169.9 462.8L170.7 461.2L171.5 461.9L172.3 465.6L173.1 470.3L173.9 471.9L174.7 471.7L175.5 473.9L176.3 475.5L177.1 475.1L177.9 476.1L178.7 474.9L179.5 471.5L180.3 469.8L181.1 468.8L181.9 467.2L182.7 463.9L183.5 462.3L184.3 487.6L185.1 460.1L185.9 459.3L186.7 459.1L187.5 461.3L188.3 463.7L189.1 464.3L189.9 465.6L190.7 470.6L191.5 495.1L192.3 481.3L193.1 467.5L193.9 470.3L194.7 469.4L195.5 467.7L196.3 468.5L197.1 470.3L197.9 469.7L198.7 470L199.5 472.6L200.3 471.7L201.1 521.1L201.9 466.5L202.7 490L203.5 464.2L204.3 462.2L205.1 461.6L205.9 500.2L206.7 455.7L207.5 489.9L208.3 459.2L209.1 461.4L209.9 464.6L210.7 469.5L211.5 496.1L212.3 469.7L213.1 470.8L213.9 474.6L214.7 472.9L215.5 467.6L216.3 461.7L217.1 459.7L217.9 454.1L218.7 449.9L219.5 451L220.3 451.6L221.1 452.8L221.9 454.8L222.7 516.9L223.5 456.3L224.3 454.6L225.1 490.2L225.9 450.9L226.7 449.7L227.5 449.1L228.3 447.6L229.1 447.5L229.9 450.6L230.7 453.5L231.5 447.2L232.3 448.2L233.1 494.6L233.9 454.1L234.7 456.5L235.5 456.9L236.3 456.3L237.1 459.5L237.9 460.5L238.7 487L239.5 466.4L240.3 469.7L241.1 471.4L241.9 482.9L242.7 472.5L243.5 471.2L244.3 466L245.1 463.6L245.9 462.4L246.7 459.7L247.5 458.5L248.3 454.6L249.1 454L249.9 456.5L250.7 456.3L251.5 453.1L252.3 452L253.1 450.2L253.9 445.4L254.7 442.3L255.5 451.1L256.3 451L257.1 452.7L257.9 503.8L258.7 454.8L259.5 451.4L260.3 448.3L261.1 449.8L261.9 448.4L262.7 443.2L263.5 438.8L264.3 440.4L265.1 435.6L265.9 431.6L266.7 472.5L267.5 437.9L268.3 440.3L269.1 440.2L269.9 444.7L270.7 448L271.5 450L272.3 451L273.1 456.5L273.9 466.8L274.7 457.3L275.5 460.6L276.3 465.7L277.1 501L277.9 470.4L278.7 470.6L279.5 470L280.3 469L281.1 469.4L281.9 469.5L282.7 470.3L283.5 467.1L284.3 465.7L285.1 463.2L285.9 457.8L286.7 456L287.5 451.5L288.3 449.9L289.1 443L289.9 437.8L290.7 433.9L291.5 434.4L292.3 436.9L293.1 479.3L293.9 440L294.7 442L295.5 442.6L296.3 445.4L297.1 444.1L297.9 444.5L298.7 441.3L299.5 436.3L300.3 433.2L301.1 431.3L301.9 430.7L302.7 431.6L303.5 432.3L304.3 429.1L305.1 429.5L305.9 431.9L306.7 434.8L307.5 438.2L308.3 441.5L309.1 443.6L309.9 443.3L310.7 441.4L311.5 444L312.3 487.7L313.1 439.1L313.9 437.8L314.7 435.5L315.5 452.6L316.3 450.8L317.1 459.9L317.9 480.6L318.7 481.5L319.5 452.8L320.3 603.3L321.1 431.4L321.9 489.6L322.7 444L323.5 458.7L324.3 457.7L325.1 447.3L325.9 507.3L326.7 495.4L327.5 445.8L328.3 526L329.1 524.1L329.9 434.8L330.7 466L331.5 441L332.3 480L333.1 509.6L333.9 505.3L334.7 477.4L335.5 560.3L336.3 490.7L337.1 528.2L337.9 441.4L338.7 445.8L339.5 483.3L340.3 470.6L341.1 485.1L341.9 560.4L342.7 471.8L343.5 473L344.3 550.8L345.1 472.9L345.9 504.4L346.7 447.2L347.5 515.8L348.3 447.9L349.1 511.3L349.9 500.2L350.7 460.8L351.5 449.2L352.3 446.9L353.1 568.6L353.9 474.2L354.7 448L355.5 493.2L356.3 528L357.1 529.7L357.9 493.7L358.7 461.3L359.5 470.4L360.3 556.6L361.1 471.5L361.9 454.3L362.7 561L363.5 490.7L364.3 471.4L365.1 516.8L365.9 455.7L366.7 535.2L367.5 567.8L368.3 514.5L369.1 538.7L369.9 480.8L370.7 476.1L371.5 541.9L372.3 525.1L373.1 525.7L373.9 479.1L374.7 475.2L375.5 541.3L376.3 494.4L377.1 536.2L377.9 491.4L378.7 463.6L379.5 511.9L380.3 477.7L381.1 488.7L381.9 487.2L382.7 528.6L383.5 462.4L384.3 477.2L385.1 536.5L385.9 477.7L386.7 569.1L387.5 475.1L388.3 509.8L389.1 487.6L389.9 510.3L390.7 590.6L391.5 526.1L392.3 519.3L393.1 497.5L393.9 469.1L394.7 565.2L395.5 532.4L396.3 496.8L397.1 562.9L397.9 472.3L398.7 495.5L399.5 577.6L400.3 476.9L401.1 572.6L401.9 477L402.7 507L403.5 489.1L404.3 555.1L405.1 495L405.9 613.7L406.7 486.3L407.5 492L408.3 512.2L409.1 475.2L409.9 523.6L410.7 514.2L411.5 517.4L412.3 513.3L413.1 539L413.9 567.4L414.7 530.2L415.5 512.6L416.3 546L417.1 493.1L417.9 571.1L418.7 573.5L419.5 527L420.3 543.6L421.1 573.6L421.9 526.9L422.7 527.9L423.5 553L424.3 515.5L425.1 517.1L425.9 502.1L426.7 552.3L427.5 485.4L428.3 511L429.1 561L429.9 492.6L430.7 493L431.5 489.6L432.3 601.2L433.1 559.1L433.9 582.8L434.7 506.2L435.5 571.2L436.3 543.3L437.1 492.3L437.9 515.6L438.7 514.6L439.5 603.1L440.3 491.4L441.1 485L441.9 589.5L442.7 578L443.5 495.4L444.3 579.3L445.1 488.4L445.9 497.8L446.7 543.2L447.5 580.4L448.3 549.1L449.1 555.5L449.9 542.1L450.7 480.7L451.5 513.5L452.3 509.2L453.1 567.1L453.9 574.2L454.7 545.1L455.5 577.7L456.3 548.9L457.1 481.7L457.9 546.1L458.7 531.9L459.5 481.6L460.3 513.6L461.1 565.8L461.9 494.3L462.7 604.9L463.5 580.7L464.3 486.8L465.1 541.1L465.9 542.9L466.7 576.3L467.5 574.9L468.3 612L469.1 514.6L469.9 605.5L470.7 602.2L471.5 504.1L472.3 623.6L473.1 521.1L473.9 508.6L474.7 581.6" fill="none" stroke="#D95319" stroke-width="1.2" stroke-linejoin="round"/>
<path d="M87.5 454.8L88.3 452.8L89.1 448.3L89.9 448.7L90.7 445.9L91.5 448.4L92.3 445L93.1 443.9L93.9 442.1L94.7 441.3L95.5 445L96.3 472.2L97.1 447.2L97.9 450.4L98.7 450.4L99.5 455.9L100.3 457.6L101.1 458.5L101.9 466L102.7 457.3L103.5 459.4L104.3 455.6L105.1 482.6L105.9 445.9L106.7 442.9L107.5 439.7L108.3 446.1L109.1 438.4L109.9 443.9L110.7 443.3L111.5 446.6L112.3 453.8L113.1 472.2L113.9 461L114.7 457.8L115.5 457.3L116.3 459.1L117.1 464.1L117.9 471.3L118.7 473.7L119.5 476.8L120.3 477.5L121.1 477.2L121.9 489.1L122.7 489.2L123.5 497.9L124.3 498.1L125.1 497.9L125.9 498.8L126.7 498.2L127.5 503.7L128.3 495.4L129.1 514.1L129.9 493.7L130.7 489L131.5 488.2L132.3 491.3L133.1 491.3L133.9 489.4L134.7 506.3L135.5 485.8L136.3 482.2L137.1 484.3L137.9 484.8L138.7 485.2L139.5 482.9L140.3 481L141.1 480.6L141.9 479.3L142.7 479.6L143.5 479.9L144.3 479.6L145.1 478.1L145.9 479.7L146.7 480.2L147.5 478.4L148.3 477.4L149.1 475L149.9 471.1L150.7 495.5L151.5 470.7L152.3 470.4L153.1 465.6L153.9 466.3L154.7 468.2L155.5 504.5L156.3 468.1L157.1 470.4L157.9 469.2L158.7 468L159.5 470L160.3 470L161.1 489.4L161.9 471.6L162.7 471.1L163.5 470.6L164.3 470.1L165.1 470.3L165.9 471.1L166.7 467.6L167.5 468.8L168.3 493.1L169.1 463.6L169.9 464.7L170.7 466.3L171.5 468.3L172.3 467.6L173.1 465.9L173.9 467.7L174.7 467.9L175.5 466.6L176.3 466L177.1 465.4L177.9 462.2L178.7 464.4L179.5 463.5L180.3 464.4L181.1 465L181.9 462.7L182.7 462.9L183.5 461.4L184.3 460L185.1 463L185.9 462.9L186.7 460.7L187.5 461.4L188.3 460.7L189.1 461.6L189.9 464.1L190.7 462.6L191.5 461.1L192.3 461.1L193.1 462.9L193.9 466.7L194.7 466.8L195.5 467.5L196.3 505.3L197.1 467.6L197.9 470.9L198.7 471.6L199.5 469.8L200.3 492.7L201.1 497.5L201.9 462L202.7 524.5L203.5 460.9L204.3 460.2L205.1 464.9L205.9 462.6L206.7 461.9L207.5 463.1L208.3 467.9L209.1 468.8L209.9 471.7L210.7 473.1L211.5 476L212.3 474.2L213.1 475.5L213.9 485.9L214.7 479.4L215.5 475.1L216.3 488.1L217.1 465.9L217.9 463L218.7 460.2L219.5 457.3L220.3 455.2L221.1 457.2L221.9 456L222.7 454L223.5 528.9L224.3 453.2L225.1 451.9L225.9 457.2L226.7 450.9L227.5 482.5L228.3 450.6L229.1 450.2L229.9 450.9L230.7 467.2L231.5 450.2L232.3 451.7L233.1 451.6L233.9 453.1L234.7 455.7L235.5 455.5L236.3 456.7L237.1 458.6L237.9 460.4L238.7 462.6L239.5 466.3L240.3 487.3L241.1 473.5L241.9 533.4L242.7 512L243.5 481.2L244.3 479.2L245.1 479.1L245.9 478.1L246.7 474.8L247.5 474.1L248.3 481.1L249.1 467.6L249.9 463.2L250.7 460.5L251.5 462L252.3 457.5L253.1 456.4L253.9 455L254.7 454.6L255.5 459.3L256.3 459.6L257.1 461.8L257.9 473.7L258.7 496.5L259.5 458.4L260.3 453.1L261.1 461.9L261.9 443.4L262.7 440.4L263.5 438.7L264.3 438L265.1 434.7L265.9 429.8L266.7 429L267.5 434.4L268.3 436.5L269.1 440.8L269.9 442L270.7 444.3L271.5 446.7L272.3 445.9L273.1 450.5L273.9 454.1L274.7 453.9L275.5 455.2L276.3 457.2L277.1 460.5L277.9 464L278.7 463.4L279.5 462.4L280.3 465.3L281.1 468.5L281.9 467.1L282.7 468.3L283.5 465.6L284.3 462.7L285.1 455.8L285.9 453.7L286.7 451.2L287.5 446.2L288.3 440.8L289.1 437.8L289.9 434L290.7 433.1L291.5 436.4L292.3 441.2L293.1 441.4L293.9 450.4L294.7 445.3L295.5 446.8L296.3 451.1L297.1 449.5L297.9 445.1L298.7 440.9L299.5 438.6L300.3 437.5L301.1 435.5L301.9 458.3L302.7 429.4L303.5 424L304.3 425.9L305.1 427.6L305.9 430.5L306.7 432.7L307.5 432.1L308.3 433.7L309.1 438L309.9 442.7L310.7 447.3L311.5 443.4L312.3 440.9L313.1 440.2L313.9 467.8L314.7 440.8L315.5 440L316.3 450L317.1 488.3L317.9 498.9L318.7 489.6L319.5 437.2L320.3 472.5L321.1 490.2L321.9 498.3L322.7 492.7L323.5 538L324.3 493.4L325.1 506L325.9 502.9L326.7 451.8L327.5 555.3L328.3 459.2L329.1 435L329.9 497.4L330.7 500.7L331.5 462.6L332.3 439.6L333.1 448.6L333.9 457.4L334.7 496.3L335.5 492.8L336.3 496.5L337.1 474.9L337.9 452.3L338.7 512.9L339.5 483.5L340.3 469.8L341.1 516.2L341.9 456.2L342.7 532.8L343.5 489.9L344.3 526.6L345.1 462.2L345.9 479.1L346.7 485.2L347.5 541.2L348.3 478.3L349.1 529.5L349.9 510.1L350.7 498.8L351.5 473.9L352.3 528.7L353.1 491.2L353.9 498.1L354.7 532.5L355.5 510.6L356.3 446L357.1 481.8L357.9 446.4L358.7 510.5L359.5 447.2L360.3 450.7L361.1 460L361.9 495.8L362.7 504.1L363.5 494.2L364.3 482.1L365.1 496.3L365.9 533.9L366.7 456.4L367.5 516.5L368.3 511.6L369.1 493.5L369.9 572.8L370.7 474L371.5 538L372.3 455.9L373.1 454.4L373.9 458.4L374.7 517.6L375.5 470.2L376.3 518.1L377.1 548.2L377.9 456.7L378.7 522.8L379.5 562.1L380.3 540.3L381.1 507.6L381.9 567L382.7 551.7L383.5 470.1L384.3 534L385.1 464.3L385.9 521.3L386.7 548.8L387.5 468.9L388.3 522.1L389.1 541.7L389.9 503.6L390.7 524.1L391.5 463.1L392.3 534.5L393.1 517.5L393.9 486.9L394.7 499.9L395.5 546.1L396.3 472.3L397.1 522.7L397.9 552.1L398.7 533.8L399.5 508.9L400.3 478.3L401.1 473.2L401.9 519.7L402.7 560.2L403.5 521.5L404.3 502.9L405.1 570.3L405.9 509L406.7 525.6L407.5 498.9L408.3 489.1L409.1 541.3L409.9 577.1L410.7 519L411.5 515.9L412.3 609.8L413.1 478.3L413.9 562.4L414.7 569.6L415.5 487.3L416.3 506.2L417.1 514.9L417.9 499.2L418.7 568.2L419.5 483.8L420.3 555.5L421.1 494.2L421.9 491.6L422.7 553.9L423.5 517.5L424.3 506.9L425.1 533.6L425.9 546.7L426.7 520.7L427.5 547.6L428.3 548.9L429.1 494.4L429.9 550.7L430.7 541.1L431.5 586.4L432.3 513.6L433.1 533.1L433.9 486.1L434.7 495.5L435.5 490.9L436.3 489.3L437.1 524.6L437.9 559.8L438.7 515.5L439.5 524.4L440.3 560.4L441.1 482.2L441.9 568.4L442.7 553.9L443.5 500.2L444.3 505.5L445.1 482.7L445.9 481.1L446.7 515.5L447.5 502.9L448.3 603.9L449.1 544.8L449.9 487.7L450.7 475.5L451.5 514L452.3 536L453.1 563.3L453.9 554.5L454.7 500L455.5 552L456.3 527.4L457.1 507.8L457.9 553.5L458.7 496.3L459.5 514.5L460.3 550.6L461.1 573.6L461.9 584.3L462.7 606.5L463.5 526.6L464.3 568.5L465.1 524.8L465.9 492.8L466.7 547.3L467.5 505.3L468.3 582.1L469.1 521L469.9 511L470.7 503.4L471.5 559.6L472.3 555.6L473.1 558.9L473.9 510.1L474.7 511.9" fill="none" stroke="#EDB120" stroke-width="1.2" stroke-linejoin="round"/>
<polygon points="316,433.7 316.8,434.4 317.6,434.7 318.4,437.2 319.2,433.8 320,434 320.8,435.4 321.6,434.9 322.4,436.5 323.2,439.1 324,437.9 324.8,437.6 325.6,441.2 326.4,437 327.2,438.5 328,437.5 328.8,442.5 329.6,439.2 330.4,438.2 331.2,441.4 332,445.7 332.8,439.5 333.6,439.9 334.4,442.9 335.2,442 336,444.3 336.8,442 337.6,444.8 338.4,442.6 339.2,445.8 340,444.3 340.8,446.8 341.6,444.9 342.4,446.5 343.2,447.2 344,451.2 344.8,450.6 345.6,449.2 346.4,446.6 347.2,446.5 348,450 348.8,446.5 349.6,446.8 350.4,445.5 351.2,449.2 352,446.8 352.8,446.1 353.6,446.3 354.4,447.9 355.2,447.3 356,448.9 356.8,446.7 357.6,446.4 358.4,448.3 359.2,448.2 360,447.1 360.8,448.7 361.6,449 362.4,449.6 363.2,449.8 364,448.8 364.8,452.7 365.6,451.8 366.4,451 367.2,452.3 368,454.1 368.8,451.6 369.6,453.8 370.4,454.9 371.2,455.8 372,453.7 372.8,453 373.6,453.4 374.4,458.8 375.2,455.3 376,455.1 376.8,455.8 377.6,455.5 378.4,457.4 379.2,456.2 380,457.3 380.8,459.2 381.6,459 382.4,459.3 383.2,462.2 384,461.2 384.8,462.3 385.6,461.2 386.4,462.5 387.2,469.7 388,464.2 388.8,467.4 389.6,464.8 390.4,467.2 391.2,467.7 392,469.8 392.8,468.2 393.6,467.6 394.4,468.5 395.2,469.1 396,470.6 396.8,471 397.6,471.6 398.4,474.4 399.2,471.7 400,474.3 400.8,474.8 401.6,474.7 402.4,475.5 403.2,477.9 404,474.7 404.8,476.6 405.6,477.7 406.4,476.8 407.2,477.6 408,477.6 408.8,480.4 409.6,478.3 410.4,482.6 411.2,481.9 412,480.8 412.8,481 413.6,482.4 414.4,484.6 415.2,486.2 416,485.7 416.8,483.4 417.6,485.4 418.4,484 419.2,485.5 420,485.4 420.8,485.2 421.6,488.4 422.4,486 423.2,489.3 424,487.2 424.8,488.1 425.6,492.7 426.4,488.7 427.2,488.4 428,488.4 428.8,490.7 429.6,488.8 430.4,489.4 431.2,489.1 432,494.4 432.8,489.7 433.6,488.8 434.4,489 435.2,492.3 436,487.8 436.8,488.5 437.6,488.6 438.4,488.8 439.2,489.1 440,489.5 440.8,485.4 441.6,486.3 442.4,485.4 443.2,483.9 444,485.6 444.8,484.3 445.6,485.1 446.4,482.8 447.2,481.6 448,482.5 448.8,482 449.6,482.8 450.4,480.4 451.2,479 452,478.1 452.8,477.5 453.6,478.7 454.4,477.8 455.2,481.1 456,480.6 456.8,482.4 457.6,482 458.4,486.1 459.2,484.3 460,486 460.8,485.4 461.6,489.2 462.4,487.5 463.2,489.7 464,491.2 464.8,495.6 465.6,492.4 466.4,494 467.2,494.5 468,496.5 468.8,497.2 469.6,500.3 470.4,499.8 471.2,500.4 472,509.1 472.8,507.5 473.6,510 474.4,517.3 475.2,516.3 475.2,612.3 474.4,614.7 473.6,607 472.8,609.5 472,607.8 471.2,601.9 470.4,603.7 469.6,592.1 468.8,599.6 468,588.8 467.2,588.1 466.4,590.5 465.6,581.6 464.8,581.4 464,580.8 463.2,583.4 462.4,581.7 461.6,582.3 460.8,573.4 460,575.6 459.2,582.3 458.4,578 457.6,581.2 456.8,580 456,577.8 455.2,579.4 454.4,574.2 453.6,580.3 452.8,575.2 452,578.5 451.2,577.6 450.4,571 449.6,579 448.8,579.7 448,573 447.2,576.5 446.4,578.8 445.6,578.7 444.8,575.8 444,577.9 443.2,576.6 442.4,576.3 441.6,576.5 440.8,573.7 440,563.8 439.2,569.9 438.4,576.2 437.6,569.8 436.8,574 436,574.2 435.2,576.5 434.4,573.6 433.6,574 432.8,571.1 432,573.4 431.2,575.3 430.4,570.3 429.6,566.7 428.8,573.6 428,571.1 427.2,568.6 426.4,570.3 425.6,562 424.8,568.7 424,566.5 423.2,564.6 422.4,573.7 421.6,566.8 420.8,567.1 420,561.3 419.2,568.5 418.4,570.1 417.6,565.5 416.8,563.5 416,570.1 415.2,566.8 414.4,564.6 413.6,569.1 412.8,564.5 412,567 411.2,561.1 410.4,564.4 409.6,567 408.8,564.5 408,559.2 407.2,565.4 406.4,564.4 405.6,558.1 404.8,564.5 404,558.7 403.2,562.7 402.4,556.4 401.6,562.3 400.8,553.8 400,557.4 399.2,561.9 398.4,560.9 397.6,551.4 396.8,557.6 396,554.1 395.2,553.2 394.4,555.7 393.6,557.8 392.8,557.1 392,555.3 391.2,554.7 390.4,555.9 389.6,553.3 388.8,555.7 388,552.7 387.2,552.3 386.4,546.1 385.6,552.7 384.8,542.9 384,550.9 383.2,551.7 382.4,543.6 381.6,547.9 380.8,548.3 380,547.4 379.2,544.1 378.4,547.6 377.6,546.2 376.8,545.2 376,536.8 375.2,535.2 374.4,542.1 373.6,542.1 372.8,540.6 372,539.7 371.2,541 370.4,539 369.6,537.4 368.8,537.4 368,537.8 367.2,532.9 366.4,531.5 365.6,528.2 364.8,532.6 364,531.3 363.2,532 362.4,531.9 361.6,521.4 360.8,524 360,532.4 359.2,531 358.4,528.6 357.6,531.7 356.8,530.1 356,522.2 355.2,527.4 354.4,523.2 353.6,528.1 352.8,526.7 352,522.4 351.2,519.9 350.4,526 349.6,526.8 348.8,527.4 348,526.2 347.2,524.8 346.4,524.4 345.6,523.2 344.8,521.3 344,522.8 343.2,517.6 342.4,524.1 341.6,519.4 340.8,518 340,523.3 339.2,517 338.4,516.7 337.6,517.3 336.8,516.2 336,514.6 335.2,518.2 334.4,517.6 333.6,515.8 332.8,514.8 332,501.2 331.2,512 330.4,510.6 329.6,516 328.8,514.7 328,510.1 327.2,511.1 326.4,512.2 325.6,511.3 324.8,513.4 324,508 323.2,508.6 322.4,512 321.6,501.1 320.8,505.7 320,507.1 319.2,499.6 318.4,497.1 317.6,487.5 316.8,491.8 316,485.9" fill="#77AC30"/>
<path d="M86.9 486.4L88.4 486L89.9 483.5L91.4 484.3L92.9 483.4L94.4 483.4L95.9 483.9L97.4 485.2L98.9 487.2L100.4 488.8L101.9 489.2L103.4 489.8L104.9 489.2L106.4 489.9L107.9 492.1L109.4 492.9L110.9 494.6L112.4 495.3L113.9 495.3L115.4 497.5L116.9 497.9L118.4 498.2L119.9 498.3L121.4 499.2L122.9 499.7L124.4 500.7L125.9 500.7L127.4 501.8L128.9 501L130.4 502L131.9 502.3L133.4 501.9L134.9 502L136.4 503.3L137.9 503.2L139.4 502.6L140.9 502.6L142.4 501.8L143.9 502.1L145.4 501.5L146.9 501.7L148.4 501.9L149.9 501L151.4 501.5L152.9 501.3L154.4 502.4L155.9 503.1L157.4 505.7L158.9 507.6L160.4 509.4L161.9 511.2L163.4 513.7L164.9 514.8L166.4 514.5L167.9 516.7L169.4 516.2L170.9 517.7L172.4 519L173.9 520.1L175.4 520.1L176.9 519.6L178.4 519.2L179.9 518.1L181.4 517.2L182.9 516.6L184.4 515.5L185.9 513.8L187.4 513.5L188.9 515.4L190.4 517L191.9 518L193.4 518.3L194.9 519.7L196.4 519.9L197.9 520.4L199.4 521.4L200.9 522.7L202.4 524.2L203.9 524.5L205.4 525.6L206.9 527L208.4 527.6L209.9 529.8L211.4 530.7L212.9 531.7L214.4 532.5L215.9 533.4L217.4 533.9L218.9 534L220.4 534L221.9 533.7L223.4 535.5L224.9 535.4L226.4 535.7L227.9 537.1L229.4 537.4" fill="none" stroke="#e41f23" stroke-width="3.8" stroke-dasharray="9,7" stroke-linejoin="round"/>
<path d="M228 535.3L228.7 536.9L229.4 537L230.1 538.5L230.8 535.9L231.5 537.8L232.2 538.4L232.9 540.3L233.6 538.1L234.3 536.6L235 538.5L235.7 540.5L236.4 541.4L237.1 542.7L237.8 541.7L238.5 540.8L239.2 542.4L239.9 541.4L240.6 541.2L241.3 541.3L242 542.5L242.7 540.2L243.4 540L244.1 540.9L244.8 540.8L245.5 539.9L246.2 539.8L246.9 541.2L247.6 542.3L248.3 541.8L249 542L249.7 542.7L250.4 539.7L251.1 540.3L251.8 541.3L252.5 541L253.2 541.4L253.9 542.6L254.6 541.5L255.3 542.8L256 541.6L256.7 543.2L257.4 545.9L258.1 544.5L258.8 545.8L259.5 546.6L260.2 545.8L260.9 547.3L261.6 547.4L262.3 548.3L263 546.9L263.7 546L264.4 546.3L265.1 546.7L265.8 547.7L266.5 546.8L267.2 546.6L267.9 546.7L268.6 547.9L269.3 546.1L270 548.1L270.7 545.6L271.4 546.6L272.1 548.4L272.8 548.4L273.5 547.4L274.2 548.5L274.9 548.3L275.6 550.2L276.3 550.2L277 549.3L277.7 550.8L278.4 550.2L279.1 550.5L279.8 550.6L280.5 550L281.2 551L281.9 551L282.6 551L283.3 551.7L284 550.3L284.7 549.1L285.4 550.4L286.1 551.5L286.8 551.7L287.5 552.7L288.2 553.3L288.9 552.8L289.6 553.2L290.3 552.8L291 555.2L291.7 554.4L292.4 554L293.1 554.3L293.8 555.5L294.5 557.9L295.2 557.4L295.9 555L296.6 556.7L297.3 557.3L298 557.8L298.7 557.6L299.4 556.8L300.1 558L300.8 557.2L301.5 555.6L302.2 557.3L302.9 557.4L303.6 559.2L304.3 559.5L305 557.5L305.7 558.9L306.4 558.9L307.1 557.5L307.8 557.1L308.5 559.2L309.2 559.5L309.9 558.9L310.6 557L311.3 559.8L312 559.4L312.7 559.2L313.4 559.9L314.1 559.2L314.8 561.1L315.5 561L316.2 560.8L316.9 562.1L317.6 562.2L318.3 561.1L319 562.9L319.7 563L320.4 562.2L321.1 563.7L321.8 565.2L322.5 564.6L323.2 567L323.9 567.7L324.6 566.1L325.3 567.3L326 569.1L326.7 567.2L327.4 566.9L328.1 567.8L328.8 567.2L329.5 567.5L330.2 569.4L330.9 569.2L331.6 570.2L332.3 570.8L333 569.9L333.7 570.8L334.4 571.1L335.1 571L335.8 571.2L336.5 572.7L337.2 572.6L337.9 573.4L338.6 574.4L339.3 574.8L340 573L340.7 573.6L341.4 574.6L342.1 575.3L342.8 576.5L343.5 574.9L344.2 575.8L344.9 576.8L345.6 578L346.3 578.5L347 576.4L347.7 577.4L348.4 577.1L349.1 579.1L349.8 578.9L350.5 578.4L351.2 578.4L351.9 579.6L352.6 580.6L353.3 579.1L354 579.9L354.7 580.5L355.4 580.5L356.1 581L356.8 579.8L357.5 580.3L358.2 579L358.9 581.3L359.6 582.4L360.3 579.4L361 581L361.7 582.7L362.4 581.8L363.1 580.2L363.8 583.4L364.5 580.9L365.2 583.9L365.9 582.2L366.6 582.3L367.3 583.2L368 583.4L368.7 584.2L369.4 584.3L370.1 583.9L370.8 585.6L371.5 585.2L372.2 585L372.9 585L373.6 585L374.3 585.2L375 586.3L375.7 586.4L376.4 586.2L377.1 587.5L377.8 586.5L378.5 587.4L379.2 588.1L379.9 586.4L380.6 587.6L381.3 589.8L382 587.4L382.7 589.8L383.4 587.9L384.1 589.7L384.8 588.5L385.5 589.3L386.2 589.9L386.9 590.1L387.6 592L388.3 592.2L389 592.6L389.7 592.2L390.4 594L391.1 593.8L391.8 593.4L392.5 592.4L393.2 594.5L393.9 594.8L394.6 594.7L395.3 595.7L396 596.2L396.7 595.5L397.4 596.8L398.1 597L398.8 597.4L399.5 597.2L400.2 597.5L400.9 598.5L401.6 600.2L402.3 601.5L403 599.2L403.7 599L404.4 600L405.1 599.8L405.8 600.5L406.5 601.6L407.2 600.5L407.9 602.3L408.6 602.8L409.3 603.8L410 604.4L410.7 603.9L411.4 605.4L412.1 602.9L412.8 604L413.5 604.1L414.2 604.7L414.9 605.4L415.6 604.3L416.3 606.6L417 606.3L417.7 605.6L418.4 605.9L419.1 604.7L419.8 603.4L420.5 606L421.2 606.6L421.9 606.8L422.6 605.6L423.3 606.5L424 608.9L424.7 608L425.4 608L426.1 607.2L426.8 608.4L427.5 609.1L428.2 608.7L428.9 607.7L429.6 608.5L430.3 607.5L431 608.2L431.7 609.3L432.4 608.3L433.1 608.7L433.8 610.5L434.5 608.9L435.2 609.9L435.9 608.9L436.6 608.1L437.3 609.3L438 609L438.7 607.4L439.4 608.2L440.1 609L440.8 610.9L441.5 609L442.2 609.5L442.9 610.2L443.6 609.9L444.3 609.3L445 611.2L445.7 610.8L446.4 607L447.1 610.4L447.8 609.9L448.5 610.3L449.2 609.4L449.9 610.1L450.6 611.1L451.3 610.9L452 610.9L452.7 610.1L453.4 610L454.1 610L454.8 607.9L455.5 611.3L456.2 609.3L456.9 609.4L457.6 609.2L458.3 609.5L459 606.9L459.7 609.3L460.4 607.8L461.1 608.1L461.8 607.2L462.5 607.3L463.2 609.6L463.9 608.8L464.6 609.4L465.3 609.5L466 608.8L466.7 609.5L467.4 609.2L468.1 610.3L468.8 608.7L469.5 610.7L470.2 612.2L470.9 612.8L471.6 612.9L472.3 612.5L473 611.3L473.7 613.4L474.4 613.3L475.1 613.2" fill="none" stroke="#e41f23" stroke-width="3.8" stroke-linejoin="round"/>
<path d="M86.9 460.4L88.1 458.4L89.3 456.7L90.5 455.2L91.7 454.1L91.9 453.5L92.9 452.2L94.1 450.5L95.3 448.2L96.5 446.3L97.7 444.9L98.9 443.3L99.8 441.6L100.1 442.1L101.3 443.1L102.5 443.3L103.7 444L104.9 444.5L105.8 445.6L106.1 446.2L107.3 448.8L108.5 450.7L109.7 453.8L110.9 455.9L111.7 457.4L112.1 457.4L113.3 458.7L114.5 458.6L115.7 458.8L116.6 459.4L116.9 460.6L118.1 462.2L119.3 465.2L120.5 467.6L121.6 469.3L121.7 470L122.9 471.9L124.1 474.1L125.3 476.6L126.5 479.4L127.5 481.2L127.7 481.4L128.9 481.2L130.1 481.9L131.3 482.1L132.5 482.4L133.7 482.3L134.9 482.7L135.5 482.2L136.1 482.2L137.3 481.9L138.5 481.4L139.7 481L140.9 480.6L141.4 480.2L142.1 479.4L143.3 478.5L144.5 476.5L145.7 475.5L146.9 475.2L147.4 474.3L148.1 474.1L149.3 474.2L150.5 473.7L151.7 473.5L152.9 473.4L154.1 473.3L155.3 473.3L155.3 473.3L156.5 472.9L157.7 471.8L158.9 471.3L160.1 470.3L161.2 469.3L161.3 469.2L162.5 466L163.2 464.4L163.7 464.9L164.9 465.3L166.1 466.8L167.2 467.4L167.3 467.5L168.5 467.6L169.7 467.4L170.9 469.1L172.1 469L173.1 469.3L173.3 469.5L174.5 468.6L175.7 468.7L176.9 468L178.1 468L179 467.4L179.3 467.2L180.5 465.9L181.7 465L182.9 463.1L184.1 462.6L185.3 461.3L186.5 459.7L187 459.4L187.7 460.1L188.9 461.4L190.1 462.9L191.3 463.6L192.5 465.2L192.9 465.4L193.7 466.2L194.9 467.5L196.1 468L197.3 469.3L198.5 470.8L198.9 470.3L199.7 469.1L200.9 467.5L202.1 466L203.3 464L204.5 462.4L205.7 460.3L206.8 459.4L206.9 459.4L208.1 461.4L209.3 463.8L210.5 466.2L211.7 468L212.9 469.8L214.1 472.4L214.7 473.3L215.3 469.7L216.5 464.2L217.7 457.8L218.7 453.5L218.9 453.1L220.1 452.6L221.3 451.2L222.5 450.5L223.7 449.7L224.9 449.1L226.1 448.2L226.6 447.5L227.3 448.6L228.5 449.6L229.7 451L230.9 452.2L232.1 452.9L232.5 453.5L233.3 455.3L234.5 458.3L235.7 461.4L236.9 463.8L238.1 466.3L238.5 467.4L239.3 469.6L240.5 473.5L241.7 477.1L242.4 479.2L242.9 477.8L244.1 473.9L245.3 469.6L246.5 465.6L247.7 461.5L248.4 459.4L248.9 458.6L250.1 456.1L251.3 454.2L252.5 452.6L253.7 450.8L254.3 449.5L254.9 452L256.1 456.4L257.3 460.1L258.3 463.4L258.5 462.6L259.7 458.2L260.9 453.9L262.1 450.1L263.3 446L264.5 441.4L265.7 437.2L266.2 435.7L266.9 437.1L268.1 439.9L269.3 442.5L270.5 446L271.7 448.4L272.2 449.5L272.9 452.1L274.1 454.7L275.3 458.2L276.5 460.8L277.7 464.2L278.1 465.4L278.9 465L280.1 464.3L281.3 463.8L282.5 464L283.7 463.2L284 463.4L284.9 459.4L286.1 453.7L287.3 448.3L288.5 443L289.7 437.3L290.9 431.5L290.9 431.7L292.1 434.8L293.3 438L294.5 441.4L295.7 444.6L296.9 447.6L296.9 447.4L298.1 444.6L299.3 441.9L300 440.7L300.7 438.1L301.4 437L302.1 434.9L302.8 433.4L303.5 432.5L304.2 433.7L304.8 429.7L304.9 430.3L305.6 432.2L306.3 434L307 436.3L307.7 440.5L308.4 440.2L309.1 444.3L309.8 445.4L310.5 445.8L310.8 447.6L311.2 446.3L311.9 444.6L312.6 445.8L313.3 443.9L314 442.9L314.7 440.1L315.4 440.6L315.7 439.6L316.1 443.2L316.8 442.1L317.5 444.2L318.2 446L318.9 446.8L319.6 448.5L320.3 450.2L320.7 451.5L321 451.4L321.7 453.4L322.4 455.3L323.1 455.9L323.8 456.3L324.5 457.9L324.6 459.4L325.2 458.4L325.9 460.5L326.6 459.5L327.3 459.4L328 458.4L328.7 460L329.4 459.1L330.1 458.4L330.6 459.4L330.8 461.9L331.5 458.5L332.2 458L332.9 459.9L333.6 459.2L334.3 457.9L335 459.4L335.7 456.2L336.4 457L336.5 457.5L337.1 459.7L337.8 459.2L338.5 462.9L339.2 461.5L339.9 462.5L340.6 461.7L341.3 462.6L342 464.2L342.5 465.4L342.7 463.9L343.4 461.5L344.1 464.1L344.8 463.2L345.5 460.3L346.2 460.8L346.9 460.6L347.6 459.7L348.3 455.8L348.4 457.5L349 456.9L349.7 459.3L350.4 458.8L351.1 457.9L351.8 459.7L352.5 460.7L353.2 458.9L353.9 459.6L354.3 461.4L354.6 461.1L355.3 461.1L356 460L356.7 460.6L357.4 462.5L358.1 463.2L358.8 462.1L359.5 463.5L360.2 465.7L360.9 463.7L361.6 463.7L362.3 463.7L363 465.3L363.7 465.3L364.3 465.4L364.4 465L365.1 466.4L365.8 466.9L366.5 466.8L367.2 468.8L367.9 466.4L368.6 469.3L369.3 469L370 470.5L370.7 472.2L371.4 470.7L372.1 471L372.2 471.3L372.8 472.7L373.5 472.7L374.2 471.1L374.9 471.5L375.6 472.6L376.3 471.1L377 468.7L377.7 469.3L378.4 469.5L379.1 470.4L379.8 469.2L380.5 471.2L381.2 469L381.9 471.1L382.1 469.3L382.6 471.8L383.3 472L384 474.7L384.7 476.7L385.4 477.9L386.1 478.5L386.8 478L387.5 479.3L388 481.2L388.2 482.9L388.9 482.9L389.6 482.8L390.3 480.6L391 485L391.7 481.5L392.4 483.3L393.1 480.8L393.8 482.1L394.5 484.3L395.2 484.2L395.9 482.1L396 483.2L396.6 485.3L397.3 483L398 486.7L398.7 485L399.4 488.3L400.1 488.2L400.8 490.4L401.5 489.6L402.2 490.7L402.9 491.5L403.6 491.8L403.9 493.1L404.3 492.2L405 493.1L405.7 494.8L406.4 494L407.1 495.9L407.8 495.9L408.5 496.3L409.2 494.5L409.9 496.6L410.6 498.1L411.3 497.8L411.8 497.1L412 499L412.7 496.6L413.4 499.7L414.1 500.6L414.8 500.6L415.5 500.3L416.2 502.7L416.9 503.3L417.6 506.5L418.3 506.6L419 505.6L419.7 505.8L419.7 507L420.4 507.3L421.1 506.9L421.8 510.2L422.5 507.1L423.2 508.6L423.9 509.2L424.6 509.9L425.3 508.8L426 509.9L426.7 510.7L427.4 511.2L427.7 511L428.1 510.5L428.8 510.9L429.5 512.6L430.2 509L430.9 510.9L431.6 511.7L432.3 508.3L433 511.2L433.7 511L434.4 509.4L435.1 510.2L435.6 509L435.8 508.7L436.5 508.6L437.2 506.7L437.9 506.6L438.6 506.9L439.3 506.2L440 507.5L440.7 505L441.4 503.4L442.1 505.1L442.8 504.7L443.5 503.6L443.5 503L444.2 501.7L444.9 501.3L445.6 503.1L446.3 501.8L447 500.5L447.7 500.2L448.4 498.8L449.1 497.6L449.8 497.6L450.5 497.5L451.2 495.2L451.9 494.8L452.6 494L453.3 494.8L453.4 495.1L454 494.7L454.7 496.1L455.4 496.7L456.1 499.1L456.8 499.5L457.5 500.8L458.2 501.9L458.9 506.7L459.4 505L459.6 504.5L460.3 505.5L461 507.6L461.7 508.4L462.4 508.3L463.1 506.6L463.8 510.5L464.5 511.3L465.2 511.7L465.3 511L465.9 512.6L466.6 515.7L467.3 516L468 519.3L468.7 519.5L469.4 521.5L470.1 523.3L470.8 525L471.2 526.8L471.5 529.1L472.2 534.2L472.9 536L473.6 539.8L474.3 546.5L475 549L475.2 550.6" fill="none" stroke="#1d4fa3" stroke-width="4.6" stroke-linejoin="round"/>
<path d="M300 429.9L300.7 430L301.4 429.7L302.1 427.2L302.8 430.2L303.5 427.4L304.2 430.7L304.8 429.7L304.9 430.9L305.6 433L306.3 434.5L307 435.7L307.7 438L308.4 442.1L309.1 441.9L309.8 444.4L310.5 446L310.8 447.6L311.2 446.5L311.9 446L312.6 444.3L313.3 443.1L314 441.7L314.7 441.3L315.4 438.6L315.7 439.6L316.1 442L316.8 441.4L317.5 443.9L318.2 448.7L318.9 446.2L319.6 447.2L320.3 450.2L320.7 451.5L321 454.4L321.7 452.2L322.4 455.6L323.1 456.4L323.8 457.1L324.5 457L324.6 459.4L325.2 458.5L325.9 459.8L326.6 459.5L327.3 461.5L328 460.7L328.7 458.2L329.4 459.2L330.1 460.6L330.6 459.4L330.8 458.9L331.5 459.4L332.2 457.1L332.9 457.3L333.6 456.6L334.3 458.5L335 457.3L335.7 458.8L336.4 457.6L336.5 457.5L337.1 458.1L337.8 460L338.5 460L339.2 460L339.9 463.3L340.6 464L341.3 466.3L342 464.6L342.5 465.4L342.7 463.5L343.4 459.9L344.1 461.8L344.8 462.8L345.5 460.4L346.2 457.5L346.9 460.1L347.6 457.9L348.3 457.2L348.4 457.5L349 457.7L349.7 458.8L350.4 456.9L351.1 459L351.8 459.2L352.5 461.4L353.2 459.5L353.9 462.9L354.3 461.4L354.6 463.3L355.3 461L356 463L356.7 462.8L357.4 461L358.1 462.6L358.8 462.7L359.5 462.4L360.2 462.9L360.9 462.5L361.6 463.8L362.3 465L363 464L363.7 463.4L364.3 465.4L364.4 465.1L365.1 466L365.8 466.3L366.5 466.5L367.2 468.3L367.9 467.5L368.6 468.7L369.3 467.6L370 467.9L370.7 469.8L371.4 472.8L372.1 471.5L372.2 471.3L372.8 471.7L373.5 471.6L374.2 470.3L374.9 470.8L375.6 472.6L376.3 471.8L377 469.7L377.7 469.7L378.4 471.6L379.1 469.4L379.8 470.8L380.5 468.7L381.2 470.2L381.9 471.1L382.1 469.3L382.6 470.6L383.3 471.9L384 473.1L384.7 474.5L385.4 477.3L386.1 478.6L386.8 479.2L387.5 478.8L388 481.2L388.2 481.6L388.9 481.5L389.6 480.1L390.3 482.5L391 484.8L391.7 480.8L392.4 482.4L393.1 484.3L393.8 482.2L394.5 482.4L395.2 483.2L395.9 483.8L396 483.2L396.6 485.1L397.3 482.8L398 486.5L398.7 487.1L399.4 487.3L400.1 488.8L400.8 489.3L401.5 491.6L402.2 490.5L402.9 491.9L403.6 491.2L403.9 493.1L404.3 493.1L405 492L405.7 493.1L406.4 492.9L407.1 494.2L407.8 495.2L408.5 496.5L409.2 493.6L409.9 495.9L410.6 497.4L411.3 498.4L411.8 497.1L412 495.7L412.7 497.6L413.4 499.7L414.1 501L414.8 501.1L415.5 502L416.2 502.8L416.9 502.6L417.6 504.5L418.3 506.1L419 505.7L419.7 508.2L419.7 507L420.4 507L421.1 509.5L421.8 509L422.5 510L423.2 508.9L423.9 507.8L424.6 508.9L425.3 511.5L426 508.1L426.7 509.4L427.4 508.9L427.7 511L428.1 510.4L428.8 511.3L429.5 509.6L430.2 512.2L430.9 510.9L431.6 509.5L432.3 508.7L433 508L433.7 509.6L434.4 511.5L435.1 508.9L435.6 509L435.8 508.8L436.5 507.7L437.2 506.8L437.9 505.2L438.6 506.7L439.3 507.8L440 507L440.7 506.2L441.4 504.9L442.1 504.6L442.8 504.7L443.5 503L443.5 503L444.2 502L444.9 503.2L445.6 500.3L446.3 501.6L447 501.2L447.7 500.6L448.4 499.9L449.1 498.1L449.8 497.4L450.5 497L451.2 496.5L451.9 495.1L452.6 495.3L453.3 494.5L453.4 495.1L454 496.5L454.7 496.4L455.4 498.7L456.1 501.2L456.8 502.6L457.5 501.9L458.2 504.2L458.9 504.5L459.4 505L459.6 507.1L460.3 507.2L461 506.5L461.7 507.1L462.4 508.7L463.1 508.7L463.8 509.2L464.5 510.9L465.2 509.5L465.3 511L465.9 511.4L466.6 513.2L467.3 516.2L468 517.2L468.7 519.8L469.4 519.7L470.1 525.4L470.8 526.1L471.2 526.8L471.5 528.7L472.2 533.9L472.9 537.7L473.6 540.8L474.3 545.8L475 550.3L475.2 550.6" fill="none" stroke="#1d4fa3" stroke-width="7.5" stroke-linejoin="round"/>
<circle cx="101.4" cy="436.6" r="10.8" fill="none" stroke="#231815" stroke-width="2.2"/>
<line x1="95.9" y1="565.9" x2="150.1" y2="565.9" stroke="#00a0e9" stroke-width="5.5"/>
<line x1="95.9" y1="603.5" x2="150.1" y2="603.5" stroke="#e60012" stroke-width="3.6" stroke-dasharray="10,5"/>
<text x="157" y="574.7" font-size="30" font-weight="bold" fill="#231815" textLength="183.5" lengthAdjust="spacingAndGlyphs">Hammering</text>
<text x="156.2" y="612" font-size="30" font-weight="bold" fill="#231815" textLength="186.5" lengthAdjust="spacingAndGlyphs">Background</text>
<path d="M86.9 411.4V625.8 H494.4" fill="none" stroke="#333333" stroke-width="1.4"/>
<path d="M86.9 625.8V621.2M290.6 625.8V621.2M494.4 625.8V621.2M117.6 625.8V623.2M135.5 625.8V623.2M148.2 625.8V623.2M158.1 625.8V623.2M166.2 625.8V623.2M173 625.8V623.2M178.9 625.8V623.2M184.1 625.8V623.2M188.8 625.8V623.2M219.4 625.8V623.2M237.4 625.8V623.2M250.1 625.8V623.2M260 625.8V623.2M268 625.8V623.2M274.9 625.8V623.2M280.8 625.8V623.2M286 625.8V623.2M321.3 625.8V623.2M339.3 625.8V623.2M352 625.8V623.2M361.9 625.8V623.2M369.9 625.8V623.2M376.7 625.8V623.2M382.7 625.8V623.2M387.9 625.8V623.2M392.5 625.8V623.2M423.2 625.8V623.2M441.1 625.8V623.2M453.9 625.8V623.2M463.7 625.8V623.2M471.8 625.8V623.2M478.6 625.8V623.2M484.5 625.8V623.2M489.7 625.8V623.2M86.9 606.6H91.5M86.9 509H91.5M86.9 411.4H91.5" stroke="#333333" stroke-width="1.3" fill="none"/>
<text x="87.9" y="670.3" font-size="26" text-anchor="middle" fill="#262626">10<tspan dy="-13.2" font-size="20">-2</tspan></text>
<text x="291.6" y="670.3" font-size="26" text-anchor="middle" fill="#262626">10<tspan dy="-13.2" font-size="20">0</tspan></text>
<text x="495.4" y="670.3" font-size="26" text-anchor="middle" fill="#262626">10<tspan dy="-13.2" font-size="20">2</tspan></text>
<text x="76.6" y="616.8" font-size="26" text-anchor="end" fill="#262626">50</text>
<text x="76.6" y="519.2" font-size="26" text-anchor="end" fill="#262626">100</text>
<text x="76.6" y="421.6" font-size="26" text-anchor="end" fill="#262626">150</text>
<path d="M626.9 416.1V626.8M644.7 416.1V626.8M657.4 416.1V626.8M667.3 416.1V626.8M675.3 416.1V626.8M682.1 416.1V626.8M688 416.1V626.8M693.2 416.1V626.8M697.8 416.1V626.8M728.4 416.1V626.8M746.3 416.1V626.8M758.9 416.1V626.8M768.8 416.1V626.8M776.8 416.1V626.8M783.6 416.1V626.8M789.5 416.1V626.8M794.7 416.1V626.8M829.9 416.1V626.8M847.8 416.1V626.8M860.5 416.1V626.8M870.3 416.1V626.8M878.4 416.1V626.8M885.1 416.1V626.8M891 416.1V626.8M896.2 416.1V626.8M900.9 416.1V626.8M931.4 416.1V626.8M949.3 416.1V626.8M962 416.1V626.8M971.8 416.1V626.8M979.9 416.1V626.8M986.7 416.1V626.8M992.6 416.1V626.8M997.8 416.1V626.8" stroke="#cfcfcf" stroke-width="1" stroke-dasharray="1.2,2.2" fill="none"/>
<line x1="596.3" y1="416.1" x2="596.3" y2="626.8" stroke="#e3e3e3" stroke-width="1.1"/>
<line x1="799.3" y1="416.1" x2="799.3" y2="626.8" stroke="#e3e3e3" stroke-width="1.1"/>
<line x1="1002.4" y1="416.1" x2="1002.4" y2="626.8" stroke="#e3e3e3" stroke-width="1.1"/>
<line x1="596.3" y1="617.3" x2="1002.4" y2="617.3" stroke="#e3e3e3" stroke-width="1.1"/>
<line x1="596.3" y1="516.7" x2="1002.4" y2="516.7" stroke="#e3e3e3" stroke-width="1.1"/>
<line x1="596.3" y1="416.1" x2="1002.4" y2="416.1" stroke="#e3e3e3" stroke-width="1.1"/>
<path d="M596.5 492.9L598 492.4L599.5 491.8L601 490.2L602.5 490.2L604 489.4L605.5 490.8L607 491.7L608.5 493.1L610 492.8L611.5 494.9L613 495.3L614.5 495.2L616 496.5L617.5 497.2L619 497.7L620.5 500.6L622 501.8L623.5 503.7L625 504.8L626.5 506.2L628 507.7L629.5 508.9L631 508.6L632.5 509.7L634 509.5L635.5 510L637 510.4L638.5 509.9L640 508.6L641.5 508.3L643 509.1L644.5 510L646 510.8L647.5 510.8L649 509.9L650.5 509.8L652 509.1L653.5 509.3L655 507.1L656.5 507.2L658 508.5L659.5 509.3L661 509.2L662.5 510L664 510.2L665.5 511.9L667 514L668.5 516.5L670 518.1L671.5 519.1L673 521.2L674.5 522.5L676 524.5L677.5 525.5L679 527.3L680.5 528.2L682 529.8L683.5 530.1L685 529L686.5 528.5L688 527.3L689.5 525.8L691 522.6L692.5 520.1L694 520L695.5 523L697 525.5L698.5 526.2L700 528.7L701.5 529.9L703 529.5L704.5 529L706 529.2L707.5 530.3L709 531.7L710.5 531.9L712 532.7L713.5 533L715 533.5L716.5 534.8L718 535.4L719.5 537.4L721 539.2L722.5 540.5L724 542.2L725.5 542.4L727 542.9L728.5 542.8L730 541.8L731.5 542.1L733 542.6L734.5 544.6L736 545.8L737.5 547.1" fill="none" stroke="#e41f23" stroke-width="3.8" stroke-dasharray="9,7" stroke-linejoin="round"/>
<path d="M736.9 546.6L737.6 547.6L738.3 548.6L739 547.7L739.7 547.3L740.4 550.1L741.1 549.4L741.8 549.8L742.5 549.6L743.2 548.8L743.9 548.5L744.6 551L745.3 551.3L746 551.2L746.7 550.5L747.4 550.7L748.1 550.1L748.8 550.6L749.5 550L750.2 549.8L750.9 550.5L751.6 551.9L752.3 548.2L753 550.6L753.7 550.6L754.4 548.6L755.1 550L755.8 549.7L756.5 549.1L757.2 549.4L757.9 548.7L758.6 552.1L759.3 553L760 552.5L760.7 550.9L761.4 551.7L762.1 552.1L762.8 551.2L763.5 552L764.2 553L764.9 552.2L765.6 551L766.3 551.6L767 553.2L767.7 552.8L768.4 552.9L769.1 554.7L769.8 553.5L770.5 552.9L771.2 553.9L771.9 556.5L772.6 553.6L773.3 556.8L774 556.9L774.7 555.6L775.4 555.8L776.1 557.9L776.8 557.1L777.5 556.6L778.2 559.3L778.9 558L779.6 558.5L780.3 558.6L781 558.6L781.7 559.4L782.4 559.2L783.1 560.5L783.8 561.4L784.5 561.6L785.2 561.9L785.9 562.4L786.6 561.8L787.3 560.7L788 562.4L788.7 560L789.4 561.1L790.1 562.2L790.8 560.5L791.5 563.8L792.2 561.4L792.9 561L793.6 561.7L794.3 561.7L795 562.5L795.7 562.8L796.4 564.5L797.1 563.7L797.8 564.5L798.5 563.8L799.2 565.8L799.9 565L800.6 564.3L801.3 568.1L802 566.3L802.7 566.8L803.4 567.6L804.1 569.7L804.8 568.2L805.5 569.9L806.2 571.4L806.9 573.3L807.6 570.5L808.3 570.4L809 568.9L809.7 571.2L810.4 568.6L811.1 568.1L811.8 567.8L812.5 566.2L813.2 566.6L813.9 564.8L814.6 567.1L815.3 565.6L816 566.1L816.7 567.9L817.4 566L818.1 569.1L818.8 569.6L819.5 567.8L820.2 569.7L820.9 569.4L821.6 570.8L822.3 570.4L823 569.9L823.7 571.9L824.4 571.5L825.1 572.3L825.8 573.6L826.5 574.2L827.2 574.1L827.9 572.5L828.6 575L829.3 574.4L830 576.1L830.7 575.2L831.4 577.2L832.1 576.6L832.8 576.4L833.5 577.1L834.2 575.4L834.9 578.1L835.6 578L836.3 577.1L837 578.9L837.7 579.2L838.4 579.6L839.1 579.5L839.8 580.7L840.5 581.1L841.2 580.7L841.9 580.9L842.6 580.9L843.3 581.1L844 582.6L844.7 581.8L845.4 581.3L846.1 583.3L846.8 584.5L847.5 583.5L848.2 585L848.9 584.8L849.6 583.4L850.3 584.9L851 584.6L851.7 585.5L852.4 582.1L853.1 585.9L853.8 585.9L854.5 584.4L855.2 586.7L855.9 585.9L856.6 586.5L857.3 587.6L858 588.4L858.7 587.6L859.4 588.4L860.1 588.6L860.8 587.7L861.5 590.5L862.2 589.9L862.9 589.7L863.6 590.9L864.3 590.8L865 589.9L865.7 591.8L866.4 591.1L867.1 592L867.8 592.6L868.5 592.9L869.2 594.1L869.9 592.7L870.6 592.6L871.3 592.3L872 592.7L872.7 594.3L873.4 594.3L874.1 593.3L874.8 593.7L875.5 593.9L876.2 596L876.9 593.6L877.6 595L878.3 593.1L879 594.6L879.7 596.3L880.4 593.7L881.1 596.2L881.8 593.3L882.5 595.4L883.2 594.6L883.9 596.1L884.6 596.2L885.3 597.6L886 597.4L886.7 597.6L887.4 597.3L888.1 598.6L888.8 597.7L889.5 598.2L890.2 598.6L890.9 599.8L891.6 601.6L892.3 599.4L893 601.5L893.7 598.6L894.4 599.1L895.1 600.3L895.8 600.5L896.5 600.7L897.2 601.6L897.9 599.9L898.6 601.7L899.3 601.4L900 598.8L900.7 601.2L901.4 602.2L902.1 603.4L902.8 604.3L903.5 604L904.2 606.1L904.9 604.4L905.6 605.8L906.3 607.3L907 605.8L907.7 608.7L908.4 608.9L909.1 608.3L909.8 609L910.5 609.5L911.2 610.1L911.9 611.8L912.6 611.6L913.3 610.3L914 610.6L914.7 613.1L915.4 610.2L916.1 611.6L916.8 612.9L917.5 613.8L918.2 615.6L918.9 614.7L919.6 618.4L920.3 615.5L921 616.5L921.7 617L922.4 616.2L923.1 617.6L923.8 617.6L924.5 617.5L925.2 616.9L925.9 617.4L926.6 618.9L927.3 618.4L928 619.1L928.7 619.4L929.4 619.5L930.1 619.5L930.8 620.4L931.5 620.9L932.2 621.7L932.9 621.2L933.6 620.4L934.3 620.3L935 621.7L935.7 619.6L936.4 620.7L937.1 622.3L937.8 621L938.5 620.7L939.2 622.6L939.9 618.8L940.6 621.5L941.3 621.1L942 621.2L942.7 622.6L943.4 623.3L944.1 623L944.8 622.5L945.5 622.3L946.2 621.7L946.9 621.9L947.6 620.2L948.3 621.3L949 622.4L949.7 621.6L950.4 622.5L951.1 620.1L951.8 621L952.5 620.6L953.2 622.6L953.9 621.2L954.6 621.2L955.3 620.2L956 620.9L956.7 620.3L957.4 620.7L958.1 623.4L958.8 620.1L959.5 620.9L960.2 620.2L960.9 622.4L961.6 620.1L962.3 620.1L963 621.3L963.7 622.6L964.4 621.2L965.1 620.4L965.8 618.4L966.5 617.3L967.2 620.9L967.9 621L968.6 622.1L969.3 621.4L970 620.7L970.7 622.2L971.4 622.7L972.1 620.3L972.8 621.9L973.5 622.1L974.2 620.2L974.9 621.5L975.6 620.9L976.3 622.1L977 622L977.7 618.8L978.4 620.7L979.1 622.3L979.8 621.4L980.5 619.9L981.2 620.5L981.9 619.9" fill="none" stroke="#e41f23" stroke-width="3.8" stroke-linejoin="round"/>
<path d="M596.5 464.4L597.7 462.8L598.9 460.8L600.1 459.2L601.3 457L602.5 454.9L603.7 454.1L604.9 452L606.1 449.4L607.3 447.9L608.5 446.3L609.7 444.8L609.8 444.6L610.9 446.4L612.1 447.9L613.3 450L614.5 451.6L615.7 453.5L615.8 453.5L616.9 456.1L618.1 459.8L619.3 462.4L620.5 465.5L621.7 468.3L621.7 468.2L622.9 469.9L624.1 471.9L625.3 473.7L626.5 475.2L627.7 476.5L628.9 479.1L629.6 479.2L630.1 480L631.3 480.6L632.5 481.7L633.7 483L634.9 483.4L636.1 484.7L637.3 486.1L637.5 486.2L638.5 485.8L639.7 484.8L640.5 484.8L640.9 485.3L642.1 485.5L643.3 486.4L644.5 487.8L645.7 487.9L646.9 488.5L648.1 489.1L649.3 490.5L649.4 490.1L650.5 489.4L651.7 488.6L652.9 488.3L653.4 488.2L654.1 487L655.3 484.5L656.4 483.2L656.5 481.8L657.7 470.1L658.3 464.4L658.9 471.2L660.1 484.9L660.3 487.2L661.3 489.8L662.5 493.4L663.7 496.9L664.3 499L664.9 499.7L666.1 500.5L667.3 501.6L668.5 502.5L669.2 503L669.7 503.6L670.9 504.6L672.1 505.8L673.2 507L673.3 506.5L674.5 504.4L675.7 501.8L676.9 499.2L677.2 499L678.1 501.8L679.3 506L680.5 509L681.1 510.9L681.7 510.2L682.9 509.4L684.1 507.8L685.1 507L685.3 505.8L686.5 499.2L687.7 492.1L688.9 485.7L689 485.2L690.1 492.8L691 499L691.3 498.5L692.5 497L693.7 494.7L694.9 492.9L695 493.1L696.1 498.2L697.3 503.4L698.5 509.2L699 510.9L699.7 509.5L700.9 506L702.1 503.3L702.9 501L703.3 501.4L704.5 502.7L704.9 503L705.7 492.5L706.9 478L707.3 473.3L708.1 491L708.9 505L709.3 504.2L710.5 503.6L711.7 503.6L712.8 503L712.9 503.6L714.1 508.9L715.3 514.5L716.5 520.2L716.8 520.8L717.7 519L718.9 516.4L720 513.9L720.7 512.7L720.7 512.9L721.4 513.7L722.1 518.9L722.8 518.7L723.5 520.4L724.2 522.6L724.7 522.8L724.9 522.7L725.6 523.5L726.3 520.5L727 520.4L727.7 518.6L728.4 519.3L728.7 518.9L729.1 520.9L729.8 519.6L730.5 519.7L731.2 523.4L731.9 524.6L732.6 524.2L732.6 524.8L733.3 523.7L734 522.3L734.7 520.6L735.4 519.2L736.1 515.7L736.6 514.9L736.8 516.2L737.5 513.6L738.2 511.5L738.9 512.3L739.6 510.9L739.6 511.6L740.3 519.4L741 522.6L741.7 524.8L742.4 528.6L742.5 530.7L743.1 529.5L743.8 530.5L744.5 530.2L745.2 530.3L745.9 529.2L746.5 528.8L746.6 528.9L747.3 530.2L748 531.4L748.7 533.5L749.4 532.1L750.1 534.1L750.5 534.7L750.8 533.7L751.5 535L752.2 533.3L752.9 535.7L753.6 530.5L754.3 534.5L755 532.3L755.7 530.8L756.4 532L757.1 531.6L757.8 532.2L758.4 530.7L758.5 530L759.2 530.8L759.9 531.2L760.6 531L761.3 530.4L762 532.3L762.7 531.1L763.4 529.4L764.1 531.1L764.8 530.5L765.5 530.5L766.2 531.7L766.3 530.7L766.9 531.5L767.6 532.1L768.3 533.1L769 531.9L769.7 533.2L770.4 534.9L771.1 533.3L771.8 534L772.3 534.7L772.5 535.8L773.2 534L773.9 535.5L774.6 533.7L775.3 534.2L776 534.2L776.7 533L777.4 532.4L778.1 534.3L778.8 532.7L779.5 533.5L780.2 532.7L780.2 531.1L780.9 532.7L781.6 530L782.3 528.2L783 526.7L783.7 525.2L784.1 524.8L784.4 527.8L785.1 527.1L785.8 527.8L786.5 530.5L787.2 534.8L787.9 534.3L788.1 534.7L788.6 532.9L789.3 531.5L790 529.7L790.7 528.5L791.4 528.1L792.1 526.8L792.1 525L792.8 528.6L793.5 531.7L794.2 534.9L794.9 539.6L795.6 542.6L796 542.6L796.3 543.2L797 540.8L797.7 541.5L798.4 538.6L799.1 539.8L799.8 539.6L800.5 539.6L801.2 537.9L801.9 537.3L802.6 535.8L802.9 536.7L803.3 536.7L804 536.9L804.7 540.2L805.4 542L806.1 542.4L806.8 543.6L807.5 547L808.2 548.2L808.9 550.6L808.9 551.4L809.6 552.2L810.3 551.5L811 549.4L811.7 550.3L812.4 552.7L812.8 550.6L813.1 549L813.8 548L814.5 544.4L815.2 540.3L815.8 538.7L815.9 538.1L816.6 541.5L817.3 542.2L818 544.1L818.7 546L819.4 545.4L819.8 548.6L820.1 549.1L820.8 549L821.5 548.7L822.2 549.5L822.9 551.5L823.6 551L824.3 549.8L825 552L825.7 551.5L826.4 550.9L827.1 549.8L827.8 552.7L828.5 551.2L828.7 552.6L829.2 553.6L829.9 552.9L830.6 550.5L831.3 550.6L832 552.1L832.7 552.4L833.4 551L834.1 550.6L834.6 550.6L834.8 552.7L835.5 552.6L836.2 553.3L836.9 555.8L837.6 555.2L838.3 558.2L838.6 558.5L839 559.2L839.7 557.3L840.4 553.5L841.1 556.4L841.6 553.6L841.8 551.9L842.5 553.9L843.2 557.9L843.9 557.3L844.6 561.2L845.3 560.6L846 561.6L846.5 564.5L846.7 566.4L847.4 564.4L848.1 566.7L848.8 565.5L849.5 565.8L850.2 565.2L850.9 566.4L851.6 567.4L852.3 567.6L853 568.5L853.7 568.4L854.4 567.3L854.4 566.4L855.1 568.4L855.8 569.2L856.5 568.9L857.2 569L857.9 570.3L858.6 570.5L859.3 572.1L860 574.3L860.4 574.4L860.7 574.8L861.4 574.2L862.1 574.5L862.8 575L863.5 576.7L864.2 575.6L864.3 575.4L864.9 576L865.6 574.6L866.3 576.3L867 577.8L867.7 577.3L868.4 578.7L869.1 580.8L869.8 579.1L870.3 580.3L870.5 581.5L871.2 581.5L871.9 580.1L872.6 582.5L873.3 582L874 582.6L874.7 582.1L875.4 583.7L876.1 581.1L876.8 583.3L877.5 584L878.2 586.4L878.2 583.3L878.9 581.8L879.6 582.5L880.3 582.7L881 581.1L881.7 582.4L882.2 581.3L882.4 581.7L883.1 581L883.8 583.7L884.5 584.2L885.2 586.5L885.9 586.6L886.6 588.1L887.3 587.7L888 587.3L888.1 588.2L888.7 586.2L889.4 585.8L890.1 586.1L890.8 587.1L891.5 586.9L892.1 585.3L892.2 585.2L892.9 588.6L893.6 588.5L894.1 590.2L894.3 590.2L895 591.7L895.7 589.5L896.4 589.6L897.1 592.4L897.8 591L898.5 589L899.2 591.1L899.9 591.6L900.6 589.9L901.3 590.5L902 590.2L902 590.6L902.7 592.4L903.4 592.7L904.1 592.7L904.8 593.9L905.5 592.3L906.2 592.2L906.9 592.1L907.6 593.4L907.9 594.2L908.3 594.5L909 596.8L909.7 598.3L910.4 598.4L911.1 599.2L911.8 599.8L912.5 601L913.2 600.8L913.9 602.1L913.9 601L914.6 602.4L915.3 603.5L916 603.4L916.7 604.3L917.4 606.6L918.1 605.4L918.8 606L919.5 605.8L920.2 606.8L920.9 605.5L921.6 607.7L921.8 607.1L922.3 608.4L923 606.1L923.7 607.7L924.4 609.7L925.1 609.3L925.8 607.3L926.5 608.2L927.2 608.1L927.9 610.1L928.6 610.9L929.3 609.9L930 608.7L930.7 610.9L931.4 608.9L932.1 612.4L932.8 610.6L933.5 610.8L933.7 612L934.2 612L934.9 612.2L935.6 612.7L936.3 612.2L937 612.4L937.7 613.7L938.4 614.2L939.1 613.2L939.8 613.6L940.5 614L941.2 613.1L941.9 612.7L942.6 612L943.3 613.1L944 615.5L944.7 613.1L945.4 612.6L945.6 614L946.1 614.3L946.8 614.5L947.5 613.2L948.2 614.7L948.9 613.7L949.6 613.8L950.3 614.1L951 613.4L951.7 613.8L952.4 615.2L953.1 613.3L953.8 614.1L954.5 615.1L955.2 614.9L955.9 614.9L956.6 613.5L957.3 613.4L958 614.5L958.7 614.2L959.4 613L960.1 614.8L960.8 615.4L961.4 615L961.5 614.9L962.2 615L962.9 614.6L963.6 616L964.3 615.6L965 618.4L965.7 615.7L966.4 618.1L967.1 616.7L967.4 617L967.8 617.3L968.5 617L969.2 618.1L969.9 617L970.6 616L971.3 615.3L972 614.8L972.7 615.2L973.3 615L973.4 614.2L974.1 614.6L974.8 616.2L975.5 615.2L976.2 616.4L976.9 616.5L977.6 616.4L978.3 619L979 619L979.7 618.3L980.4 617.3L981.1 619.2L981.2 618.9" fill="none" stroke="#0072BD" stroke-width="3.4" stroke-linejoin="round"/>
<circle cx="609.8" cy="442.6" r="11.3" fill="none" stroke="#231815" stroke-width="2.2"/>
<circle cx="658.9" cy="463.8" r="11.3" fill="none" stroke="#231815" stroke-width="2.2"/>
<circle cx="707.3" cy="473.7" r="11.3" fill="none" stroke="#231815" stroke-width="2.2"/>
<line x1="606.2" y1="601.1" x2="659.3" y2="601.1" stroke="#00a0e9" stroke-width="4.2"/>
<text x="666.8" y="612.5" font-size="30" font-weight="bold" fill="#231815" textLength="144.5" lengthAdjust="spacingAndGlyphs">Vibrating</text>
<path d="M596.3 416.1V626.8 H1002.4" fill="none" stroke="#333333" stroke-width="1.4"/>
<path d="M596.3 626.8V622.2M799.3 626.8V622.2M1002.4 626.8V622.2M626.9 626.8V624.2M644.7 626.8V624.2M657.4 626.8V624.2M667.3 626.8V624.2M675.3 626.8V624.2M682.1 626.8V624.2M688 626.8V624.2M693.2 626.8V624.2M697.8 626.8V624.2M728.4 626.8V624.2M746.3 626.8V624.2M758.9 626.8V624.2M768.8 626.8V624.2M776.8 626.8V624.2M783.6 626.8V624.2M789.5 626.8V624.2M794.7 626.8V624.2M829.9 626.8V624.2M847.8 626.8V624.2M860.5 626.8V624.2M870.3 626.8V624.2M878.4 626.8V624.2M885.1 626.8V624.2M891 626.8V624.2M896.2 626.8V624.2M900.9 626.8V624.2M931.4 626.8V624.2M949.3 626.8V624.2M962 626.8V624.2M971.8 626.8V624.2M979.9 626.8V624.2M986.7 626.8V624.2M992.6 626.8V624.2M997.8 626.8V624.2M596.3 617.3H600.9M596.3 516.7H600.9M596.3 416.1H600.9" stroke="#333333" stroke-width="1.3" fill="none"/>
<text x="597.3" y="672" font-size="26" text-anchor="middle" fill="#262626">10<tspan dy="-13.2" font-size="20">-2</tspan></text>
<text x="800.3" y="672" font-size="26" text-anchor="middle" fill="#262626">10<tspan dy="-13.2" font-size="20">0</tspan></text>
<text x="1003.4" y="672" font-size="26" text-anchor="middle" fill="#262626">10<tspan dy="-13.2" font-size="20">2</tspan></text>
<text x="586" y="627.5" font-size="26" text-anchor="end" fill="#262626">50</text>
<text x="586" y="526.9" font-size="26" text-anchor="end" fill="#262626">100</text>
<text x="586" y="426.3" font-size="26" text-anchor="end" fill="#262626">150</text>
<path d="M1135.6 413.7V623.9M1153.5 413.7V623.9M1166.1 413.7V623.9M1175.9 413.7V623.9M1183.9 413.7V623.9M1190.7 413.7V623.9M1196.5 413.7V623.9M1201.7 413.7V623.9M1206.3 413.7V623.9M1236.8 413.7V623.9M1254.6 413.7V623.9M1267.2 413.7V623.9M1277.1 413.7V623.9M1285.1 413.7V623.9M1291.8 413.7V623.9M1297.7 413.7V623.9M1302.9 413.7V623.9M1337.9 413.7V623.9M1355.8 413.7V623.9M1368.4 413.7V623.9M1378.2 413.7V623.9M1386.2 413.7V623.9M1393 413.7V623.9M1398.8 413.7V623.9M1404 413.7V623.9M1408.7 413.7V623.9M1439.1 413.7V623.9M1456.9 413.7V623.9M1469.5 413.7V623.9M1479.4 413.7V623.9M1487.4 413.7V623.9M1494.1 413.7V623.9M1500 413.7V623.9M1505.2 413.7V623.9" stroke="#cfcfcf" stroke-width="1" stroke-dasharray="1.2,2.2" fill="none"/>
<line x1="1105.2" y1="413.7" x2="1105.2" y2="623.9" stroke="#e3e3e3" stroke-width="1.1"/>
<line x1="1307.5" y1="413.7" x2="1307.5" y2="623.9" stroke="#e3e3e3" stroke-width="1.1"/>
<line x1="1509.8" y1="413.7" x2="1509.8" y2="623.9" stroke="#e3e3e3" stroke-width="1.1"/>
<line x1="1105.2" y1="614.9" x2="1509.8" y2="614.9" stroke="#e3e3e3" stroke-width="1.1"/>
<line x1="1105.2" y1="514.3" x2="1509.8" y2="514.3" stroke="#e3e3e3" stroke-width="1.1"/>
<line x1="1105.2" y1="413.7" x2="1509.8" y2="413.7" stroke="#e3e3e3" stroke-width="1.1"/>
<path d="M1105 489.5L1106.5 489.4L1108 488.4L1109.5 487.8L1111 486L1112.5 487.2L1114 487.9L1115.5 488.6L1117 489.7L1118.5 490.8L1120 491.8L1121.5 493.5L1123 494.1L1124.5 494.2L1126 495L1127.5 498L1129 499.3L1130.5 500.2L1132 502.1L1133.5 502.7L1135 503.7L1136.5 504.8L1138 505L1139.5 506.1L1141 506.9L1142.5 507.8L1144 507.5L1145.5 506.9L1147 507.3L1148.5 505.4L1150 505.2L1151.5 506.2L1153 506.4L1154.5 507.3L1156 508.6L1157.5 507.6L1159 505.7L1160.5 505.5L1162 504.1L1163.5 503.3L1165 504.6L1166.5 506L1168 505.8L1169.5 507.2L1171 506.5L1172.5 507.7L1174 509L1175.5 511.2L1177 513.9L1178.5 516L1180 517.2L1181.5 518.1L1183 519.9L1184.5 521.4L1186 522.5L1187.5 523.1L1189 523.5L1190.5 525.3L1192 525.5L1193.5 525.2L1195 524.6L1196.5 523.5L1198 521.8L1199.5 520.2L1201 519.5L1202.5 517.9L1204 519.2L1205.5 521.5L1207 523.6L1208.5 525.7L1210 526.7L1211.5 526.8L1213 527.3L1214.5 527.6L1216 528.2L1217.5 528.8L1219 529.1L1220.5 530.2L1222 530.4L1223.5 531.5L1225 532.3L1226.5 534.1L1228 535L1229.5 536.1L1231 537.6L1232.5 537.9L1234 540L1235.5 539.8L1237 537.9L1238.5 534.4L1240 536.1L1241.5 537.2L1243 540.7L1244.5 541.8L1246 543.9" fill="none" stroke="#e41f23" stroke-width="3.8" stroke-dasharray="9,7" stroke-linejoin="round"/>
<path d="M1245.3 541.5L1246 543.6L1246.7 544L1247.4 543.6L1248.1 543.9L1248.8 544.3L1249.5 544.6L1250.2 543.9L1250.9 547.2L1251.6 546L1252.3 546.4L1253 546.6L1253.7 546.4L1254.4 546.8L1255.1 547.6L1255.8 547L1256.5 548.7L1257.2 547.2L1257.9 548.6L1258.6 546.5L1259.3 547.7L1260 548.1L1260.7 548.8L1261.4 548.8L1262.1 546.5L1262.8 546.8L1263.5 549L1264.2 547.1L1264.9 546.1L1265.6 548.9L1266.3 548.6L1267 547.1L1267.7 547.9L1268.4 549.9L1269.1 548.4L1269.8 548.5L1270.5 548.9L1271.2 550.8L1271.9 548.1L1272.6 550.2L1273.3 550.2L1274 550.7L1274.7 551.2L1275.4 550.8L1276.1 551.6L1276.8 551.7L1277.5 552.9L1278.2 549.6L1278.9 552L1279.6 552.5L1280.3 551.3L1281 554.3L1281.7 553.7L1282.4 551.8L1283.1 553.5L1283.8 554.7L1284.5 554.4L1285.2 553.8L1285.9 555.4L1286.6 555.4L1287.3 554.5L1288 555.4L1288.7 557.2L1289.4 557.3L1290.1 555.5L1290.8 556L1291.5 558.2L1292.2 557.6L1292.9 557.2L1293.6 557L1294.3 557.7L1295 558.6L1295.7 555.6L1296.4 558.9L1297.1 557.3L1297.8 557.1L1298.5 557.8L1299.2 557.4L1299.9 557.5L1300.6 558.5L1301.3 558.1L1302 559.5L1302.7 557L1303.4 559.3L1304.1 557.3L1304.8 558.7L1305.5 559.1L1306.2 561.6L1306.9 560.6L1307.6 563.2L1308.3 565.8L1309 566.7L1309.7 565.7L1310.4 567.2L1311.1 568L1311.8 567.9L1312.5 569L1313.2 569.3L1313.9 566.6L1314.6 569.9L1315.3 572.7L1316 568.3L1316.7 567.9L1317.4 567.8L1318.1 566.4L1318.8 566.4L1319.5 566.1L1320.2 567.7L1320.9 565L1321.6 565.3L1322.3 564.1L1323 562.9L1323.7 562.6L1324.4 561.7L1325.1 564.2L1325.8 563.5L1326.5 563.2L1327.2 565.5L1327.9 568.4L1328.6 567.5L1329.3 567.8L1330 568.5L1330.7 568.3L1331.4 568.1L1332.1 570.8L1332.8 566.7L1333.5 569.9L1334.2 570L1334.9 571.1L1335.6 571L1336.3 573.3L1337 574.1L1337.7 573.1L1338.4 572L1339.1 572.9L1339.8 573.6L1340.5 573.4L1341.2 573.4L1341.9 576.7L1342.6 576.3L1343.3 574.7L1344 575.2L1344.7 576.5L1345.4 576.1L1346.1 577.7L1346.8 578.2L1347.5 577.8L1348.2 577.2L1348.9 578.2L1349.6 577.1L1350.3 578.7L1351 581.1L1351.7 579.1L1352.4 580.6L1353.1 581.4L1353.8 582.1L1354.5 579.5L1355.2 580.9L1355.9 580.8L1356.6 583L1357.3 583.1L1358 581.2L1358.7 582L1359.4 583.2L1360.1 585.2L1360.8 583L1361.5 584.9L1362.2 583.1L1362.9 583L1363.6 585.3L1364.3 583.9L1365 583.4L1365.7 586.5L1366.4 586.1L1367.1 584.5L1367.8 586.9L1368.5 586.8L1369.2 587.3L1369.9 586.2L1370.6 587.3L1371.3 586.1L1372 586.5L1372.7 589.9L1373.4 589.1L1374.1 590.3L1374.8 590L1375.5 589.8L1376.2 589.9L1376.9 591L1377.6 590.3L1378.3 589.1L1379 591.8L1379.7 592.1L1380.4 591.6L1381.1 592.4L1381.8 591.1L1382.5 591.1L1383.2 592.2L1383.9 591.7L1384.6 590.1L1385.3 591.3L1386 591.8L1386.7 594.1L1387.4 592.2L1388.1 591.6L1388.8 591.5L1389.5 592.6L1390.2 592.3L1390.9 593.1L1391.6 592.4L1392.3 592L1393 593.5L1393.7 594.4L1394.4 594.4L1395.1 593.3L1395.8 595L1396.5 596.5L1397.2 596.5L1397.9 596L1398.6 596.7L1399.3 597.1L1400 598.3L1400.7 597.8L1401.4 598.7L1402.1 598.5L1402.8 598.6L1403.5 599.3L1404.2 599.5L1404.9 598.3L1405.6 598.5L1406.3 599.8L1407 598.7L1407.7 597.8L1408.4 598.8L1409.1 598.7L1409.8 600.2L1410.5 600.8L1411.2 602.4L1411.9 602L1412.6 602.6L1413.3 603.9L1414 603.6L1414.7 602.4L1415.4 603.6L1416.1 603.5L1416.8 604.4L1417.5 606.2L1418.2 608.3L1418.9 606.7L1419.6 606.6L1420.3 606.1L1421 607.5L1421.7 609.2L1422.4 607.3L1423.1 609L1423.8 609.8L1424.5 610.3L1425.2 612.1L1425.9 610L1426.6 610.6L1427.3 609.7L1428 610.6L1428.7 610.5L1429.4 611.9L1430.1 612.6L1430.8 613.2L1431.5 613.6L1432.2 612.7L1432.9 612.5L1433.6 612.9L1434.3 613.9L1435 614L1435.7 613.6L1436.4 615.4L1437.1 614.2L1437.8 615.5L1438.5 615.3L1439.2 616.5L1439.9 616.9L1440.6 615.8L1441.3 617.4L1442 619.3L1442.7 618L1443.4 616.8L1444.1 620.2L1444.8 617.1L1445.5 618.8L1446.2 617.1L1446.9 618.9L1447.6 618.1L1448.3 618.8L1449 618.6L1449.7 617L1450.4 616.9L1451.1 617.7L1451.8 619.5L1452.5 619L1453.2 619.9L1453.9 620L1454.6 620.6L1455.3 618L1456 617.7L1456.7 617.7L1457.4 620.1L1458.1 618.2L1458.8 618.8L1459.5 620.4L1460.2 618L1460.9 617.7L1461.6 617.3L1462.3 619.1L1463 619L1463.7 618L1464.4 617.5L1465.1 617.7L1465.8 618.1L1466.5 618.7L1467.2 616.6L1467.9 616.8L1468.6 618.3L1469.3 618.2L1470 617.3L1470.7 617.1L1471.4 618.2L1472.1 617.2L1472.8 615.3L1473.5 615.8L1474.2 617.1L1474.9 615.7L1475.6 615.7L1476.3 613.1L1477 615.4L1477.7 614.5L1478.4 614.5L1479.1 615.2L1479.8 615.3L1480.5 615.8L1481.2 614.3L1481.9 616L1482.6 618.5L1483.3 617.7L1484 617L1484.7 618.2L1485.4 619.1L1486.1 617.5L1486.8 618.3L1487.5 616.7L1488.2 615.5L1488.9 618.7L1489.6 616.3L1490.3 617.8" fill="none" stroke="#e41f23" stroke-width="3.8" stroke-linejoin="round"/>
<path d="M1105 481.2L1106.2 481.1L1107.4 481.8L1108.6 482L1109.8 481.3L1111 481.7L1111.9 482.2L1112.2 482.2L1113.4 482.6L1114.6 482.6L1115.8 483.4L1117 483.7L1118.2 483.8L1119.4 484.4L1120.6 484.5L1121.8 484.4L1123 485.1L1123.8 485.2L1124.2 485.2L1125.4 484.1L1126.6 483.3L1127.8 482.3L1129 482.1L1129.7 481.2L1130.2 481.3L1131.4 481.9L1132.6 482.8L1133.8 483.3L1135 484L1135.7 484.2L1136.2 485.5L1137.4 486.4L1138.6 488.1L1139.8 489.7L1141 491.8L1142.2 493.6L1143.4 494.9L1144.6 496.4L1145.6 498.1L1145.8 497.9L1147 496L1148.2 493.9L1148.5 493.1L1149.4 494.3L1150.6 495.8L1151.5 497.1L1151.8 497.1L1153 495.7L1154.2 494.6L1154.5 494.1L1155.4 494.9L1156.6 495.9L1157.8 496.3L1159 497.6L1159.4 498.1L1160.2 496.2L1161.4 493.6L1162.6 491.5L1163.4 489.1L1163.8 489.3L1165 487.9L1166.2 487.7L1167.4 487.2L1167.4 487.2L1168.6 480.2L1169.3 475.3L1169.8 465L1170.7 441.6L1171 446.8L1172.2 472L1172.3 475.3L1173.4 479.1L1174.6 484L1175.8 489.2L1176.3 491.1L1177 490.9L1178.2 489.7L1179.2 489.1L1179.4 489.3L1180.6 488.4L1181.8 488L1183 487.1L1184.2 486.6L1185.2 486.2L1185.4 486.1L1186.6 488.9L1187.8 490.9L1189 493.2L1190.2 495.6L1191.4 497.9L1192.6 500.2L1193.1 501L1193.8 496.6L1195 488.7L1196.1 481.2L1196.2 481.5L1197.4 492.3L1198.1 499L1198.6 495.2L1199.8 485.2L1201 475.8L1201 475.3L1202.2 489.8L1203 501L1203.4 500.1L1204.6 497.9L1205.8 495.3L1207 493L1207 493.1L1208.2 490.2L1209.4 488.5L1210.6 486L1210.9 485.2L1211.8 487.5L1213 491.9L1213.9 495.1L1214.2 494.3L1215.4 490.2L1216.6 486.6L1217.8 481.9L1218.9 478.2L1219 479.2L1220.2 490.6L1220.8 497.1L1221.4 498.1L1222.6 499.7L1223.8 501.9L1224.8 503L1225 502.6L1226.2 500.9L1227.4 499.5L1228.6 497.6L1229.8 496.6L1230.7 495.1L1231 495.5L1232.2 500.4L1232.7 503L1233.4 503.9L1234.6 505.4L1235.8 506.9L1237 507.4L1238.2 508.1L1238.7 509L1239.4 509.7L1240.6 510.6L1241.8 511.9L1242.6 512.9L1243 513.5L1244.2 516.3L1245.4 518.4L1246.6 520.7L1246.6 520.8L1247.8 520.3L1249 520.7L1250 520.8L1250.6 520.8L1250.7 520.9L1251.4 521.7L1252.1 519.9L1252.8 519L1253.5 519L1254.2 519.1L1254.9 522.1L1255.6 518.7L1256.3 520.3L1257 518.2L1257.7 520.1L1258.4 519.3L1258.5 518.9L1259.1 518.7L1259.8 517.8L1260.5 518.8L1261.2 517.7L1261.9 516.7L1262.6 516.4L1263.3 517.8L1264 519.2L1264.7 517.5L1265.4 517L1266.1 517.3L1266.4 516.9L1266.8 517.4L1267.5 517.2L1268.2 519.3L1268.9 519L1269.6 520.7L1270.3 519.7L1271 518.6L1271.7 518.9L1272.3 520.8L1272.4 522.8L1273.1 520.9L1273.8 520.9L1274.5 523.2L1275.2 520.6L1275.9 521L1276.6 523L1277.3 522.1L1278 522.7L1278.3 522.8L1278.7 523L1279.4 523.8L1280.1 522L1280.8 522.3L1281.5 519L1282.2 520.8L1282.9 519.6L1283.6 518.8L1284.3 518.8L1285 519.1L1285.7 520.1L1286.2 518.9L1286.4 518.9L1287.1 518.5L1287.8 518.9L1288.5 520.5L1289.2 520.2L1289.9 521.3L1290.6 519.8L1291.3 519.4L1292 520.1L1292.7 520.7L1293.4 520.9L1294.1 519.6L1294.1 520.8L1294.8 520.9L1295.5 523.3L1296.2 522.4L1296.9 519.2L1297.6 519.7L1298.3 518.2L1299 519L1299.7 519.8L1300.4 520.6L1301.1 518.3L1301.8 518.2L1302.1 518.9L1302.5 519L1303.2 518.5L1303.9 519.5L1304.6 519.6L1305 520.9L1305.3 519.6L1306 521.5L1306.7 527L1307.4 524.8L1308.1 526.6L1308.8 531.4L1309 529.8L1309.5 528.9L1310.2 530.4L1310.9 531.8L1311.6 533.9L1312.3 531.5L1313 532.9L1313.7 534.6L1314.4 534.8L1314.9 534.7L1315.1 534.5L1315.8 532.6L1316.5 533.4L1317.2 532.9L1317.9 533L1318.6 531.7L1319.3 532.3L1320 532.5L1320.7 531L1320.9 530.8L1321.4 531.4L1322.1 532L1322.8 531.9L1323.5 533.8L1324.2 534L1324.8 534.7L1324.9 536.5L1325.6 535.8L1326.3 535.1L1327 535.3L1327.7 538.4L1328.4 537.9L1329.1 538.7L1329.8 536.8L1330.5 540.3L1331.2 540.3L1331.9 539.2L1332.6 540.4L1333.3 541.8L1334 542.1L1334.7 542.3L1334.7 542.7L1335.4 542.6L1336.1 543.3L1336.8 545L1337.5 540.8L1338.2 543.6L1338.9 544.2L1339.6 544.6L1340.3 544.1L1340.7 544.6L1341 544.9L1341.7 546.4L1342.4 542.7L1343.1 545.2L1343.8 543.8L1344.5 543.9L1345.2 542.7L1345.9 543.4L1346.6 545.1L1346.6 543.6L1347.3 546.4L1348 546.6L1348.7 546.6L1349.4 548.8L1350.1 548.2L1350.8 549.5L1351.5 549L1352.2 550.2L1352.6 550.6L1352.9 551.8L1353.6 549.8L1354.3 552.3L1355 551.6L1355.7 553.4L1356.4 553.3L1357.1 554.9L1357.8 554L1358.5 551.8L1359.2 553.8L1359.9 553L1360.5 554.5L1360.6 556.2L1361.3 555.5L1362 554.2L1362.7 554.1L1363.4 555.5L1364.1 554.3L1364.8 555.1L1365.5 556.4L1366.2 557.5L1366.9 557.1L1367.6 554.2L1368.3 557.2L1369 557.2L1369.7 557.8L1370.4 557.5L1370.4 555.3L1371.1 557.3L1371.8 559.1L1372.5 557.1L1373.2 560.9L1373.9 560.1L1374.6 561.1L1375.3 560L1376 561.9L1376.7 562.6L1377.4 562.2L1378.1 562.6L1378.3 562.5L1378.8 561.8L1379.5 562.9L1380.2 563.2L1380.9 564.2L1381.6 565.2L1382.3 563.3L1383 564.7L1383.7 566.8L1384.4 564.7L1385.1 565L1385.8 566.4L1386.2 566.4L1386.5 566.5L1387.2 568.2L1387.9 567.9L1388.6 568.1L1389.3 568.1L1390 570.3L1390.7 567.7L1391.4 566L1392.1 570.2L1392.2 568.4L1392.8 568.2L1393.5 569.2L1394.2 565.6L1394.9 565.7L1395.6 564.9L1396.3 565.5L1397 566.5L1397.7 566.2L1398.1 565.4L1398.4 563.8L1399.1 562.7L1399.8 565.2L1400.5 564.5L1401.2 565.4L1401.9 565.6L1402.6 564.9L1403.3 565.4L1404 564.7L1404.1 564.5L1404.7 562L1405.4 560.7L1406.1 559.3L1406.8 558.1L1407 556.5L1407.5 559.4L1408.2 562L1408.9 565.7L1409 566.4L1409.6 564.9L1410.3 566.5L1411 567.1L1411.7 566.9L1412.4 569.5L1413.1 571.9L1413.8 571.6L1414.5 572.9L1415.2 574.7L1415.9 575.8L1416 574.4L1416.6 575.2L1417.3 573.1L1418 571.4L1418.7 571L1419.4 569.3L1420.1 569.2L1420.8 569.1L1420.9 569.4L1421.5 571.9L1422.2 569.2L1422.9 571.8L1423.6 571L1424.3 573.3L1425 573.4L1425.7 572.2L1426.4 575.9L1427.1 574.9L1427.8 575.7L1427.8 576.3L1428.5 575.3L1429.2 576.1L1429.9 575.1L1430.6 575.3L1431.3 575L1431.8 574.4L1432 574.4L1432.7 574.5L1433.4 578.7L1434.1 578.6L1434.8 581.6L1435.5 582.2L1435.8 582.3L1436.2 582.6L1436.9 584.3L1437.6 584.3L1438.3 582L1439 582.1L1439.7 583L1440.4 580.8L1441.1 582L1441.8 581.5L1442.5 581.8L1443.2 580.4L1443.7 581.3L1443.9 579.2L1444.6 581L1445.3 582.4L1446 583.3L1446.7 586.4L1447.4 586.2L1448.1 584.6L1448.8 586.8L1449.5 586.7L1449.6 587.2L1450.2 587.1L1450.9 587.1L1451.6 585.6L1452.3 586.6L1453 583.7L1453.7 584.5L1454.4 586.9L1455.1 583.8L1455.6 583.3L1455.8 583.2L1456.5 583L1457.2 581.6L1457.9 580.8L1458.6 579.4L1459.3 580L1460 577.9L1460.7 578.9L1461.4 578.7L1461.5 577.3L1462.1 576.9L1462.8 577.5L1463.5 576.5L1464.2 577.7L1464.9 574.5L1465.6 575.9L1466.3 574L1467 574.3L1467.7 577.3L1468.4 576.6L1469.1 574.6L1469.5 575.4L1469.8 573L1470.5 577.5L1471.2 582.7L1471.9 582.4L1472.6 583.1L1473.3 586.1L1474 585.8L1474.7 589L1475.4 591.2L1475.4 591.1L1476.1 589.6L1476.8 586.7L1477.5 584.6L1478.2 580.6L1478.9 579.9L1479.4 577.3L1479.6 576.6L1480.3 577.5L1481 580.9L1481.7 580L1482.4 582.7L1483.1 581.5L1483.3 582.3L1483.8 584.1L1484.5 586.7L1485.2 590.6L1485.9 590.9L1486.6 592.7L1487.3 596.2L1487.3 596.7L1488 598L1488.7 603.9L1489.4 606.1" fill="none" stroke="#0072BD" stroke-width="3.4" stroke-linejoin="round"/>
<circle cx="1170.9" cy="440.6" r="11.3" fill="none" stroke="#231815" stroke-width="2.2"/>
<line x1="1112.3" y1="594.1" x2="1165.4" y2="594.1" stroke="#00a0e9" stroke-width="4.2"/>
<text x="1175.4" y="603.4" font-size="30" font-weight="bold" fill="#231815" textLength="114.5" lengthAdjust="spacingAndGlyphs">Drilling</text>
<path d="M1105.2 413.7V623.9 H1509.8" fill="none" stroke="#333333" stroke-width="1.4"/>
<path d="M1105.2 623.9V619.3M1307.5 623.9V619.3M1509.8 623.9V619.3M1135.6 623.9V621.3M1153.5 623.9V621.3M1166.1 623.9V621.3M1175.9 623.9V621.3M1183.9 623.9V621.3M1190.7 623.9V621.3M1196.5 623.9V621.3M1201.7 623.9V621.3M1206.3 623.9V621.3M1236.8 623.9V621.3M1254.6 623.9V621.3M1267.2 623.9V621.3M1277.1 623.9V621.3M1285.1 623.9V621.3M1291.8 623.9V621.3M1297.7 623.9V621.3M1302.9 623.9V621.3M1337.9 623.9V621.3M1355.8 623.9V621.3M1368.4 623.9V621.3M1378.2 623.9V621.3M1386.2 623.9V621.3M1393 623.9V621.3M1398.8 623.9V621.3M1404 623.9V621.3M1408.7 623.9V621.3M1439.1 623.9V621.3M1456.9 623.9V621.3M1469.5 623.9V621.3M1479.4 623.9V621.3M1487.4 623.9V621.3M1494.1 623.9V621.3M1500 623.9V621.3M1505.2 623.9V621.3M1105.2 614.9H1109.8M1105.2 514.3H1109.8M1105.2 413.7H1109.8" stroke="#333333" stroke-width="1.3" fill="none"/>
<text x="1106.2" y="669.4" font-size="26" text-anchor="middle" fill="#262626">10<tspan dy="-13.2" font-size="20">-2</tspan></text>
<text x="1308.5" y="669.4" font-size="26" text-anchor="middle" fill="#262626">10<tspan dy="-13.2" font-size="20">0</tspan></text>
<text x="1510.8" y="669.4" font-size="26" text-anchor="middle" fill="#262626">10<tspan dy="-13.2" font-size="20">2</tspan></text>
<text x="1094.9" y="625.1" font-size="26" text-anchor="end" fill="#262626">50</text>
<text x="1094.9" y="524.5" font-size="26" text-anchor="end" fill="#262626">100</text>
<text x="1094.9" y="423.9" font-size="26" text-anchor="end" fill="#262626">150</text>
<text x="291" y="708.8" font-size="30" text-anchor="middle" fill="#262626" textLength="209" lengthAdjust="spacingAndGlyphs">Frequency(kHz)</text>
<text x="799" y="712.2" font-size="30" text-anchor="middle" fill="#262626" textLength="209" lengthAdjust="spacingAndGlyphs">Frequency(kHz)</text>
<text x="1307.7" y="709.3" font-size="30" text-anchor="middle" fill="#262626" textLength="209" lengthAdjust="spacingAndGlyphs">Frequency(kHz)</text>
<text transform="translate(26.3,520.9) rotate(-90)" font-size="30" text-anchor="middle" fill="#262626" textLength="288" lengthAdjust="spacingAndGlyphs">PSD (dB re 1μPa²/Hz)</text>
<text x="46.4" y="392.2" font-size="29" font-weight="bold" fill="#000" textLength="33" lengthAdjust="spacingAndGlyphs">B1</text>
<text x="532.3" y="392.2" font-size="29" font-weight="bold" fill="#000">B2</text>
<text x="1043.8" y="392.2" font-size="29" font-weight="bold" fill="#000">B3</text>
<rect x="85" y="768" width="408.8" height="221.5" fill="#43489e"/>
<rect x="85" y="768" width="408.8" height="221.5" filter="url(#nzS)"/>
<rect x="85" y="768" width="408.8" height="221.5" filter="url(#nzD)" opacity="0.7"/>
<rect x="85" y="768" width="408.8" height="221.5" fill="url(#gBot1)"/>
<rect x="85" y="768" width="408.8" height="221.5" filter="url(#nzV)" mask="url(#mBot1)" opacity="0.8"/>
<rect x="594.4" y="769.3" width="405.7" height="220.6" fill="#43489e"/>
<rect x="594.4" y="769.3" width="405.7" height="220.6" filter="url(#nzS)"/>
<rect x="594.4" y="769.3" width="405.7" height="220.6" filter="url(#nzD)" opacity="0.7"/>
<rect x="594.4" y="769.3" width="405.7" height="220.6" fill="url(#gBot2)"/>
<rect x="1106.1" y="767.3" width="403.8" height="220" fill="#43489e"/>
<rect x="1106.1" y="767.3" width="403.8" height="220" filter="url(#nzV)"/>
<rect x="1106.1" y="767.3" width="403.8" height="220" filter="url(#nzS)"/>
<rect x="1106.1" y="767.3" width="403.8" height="220" filter="url(#nzD)" opacity="0.7"/>
<rect x="1106.1" y="767.3" width="403.8" height="220" fill="url(#gBot3)"/>
<g fill="#3e69b2" opacity="0.35"><rect x="89.8" y="768" width="5" height="221.5"/><rect x="102.2" y="768" width="5" height="221.5"/><rect x="113.4" y="768" width="5" height="221.5"/><rect x="124.7" y="768" width="5" height="221.5"/><rect x="136.1" y="768" width="5" height="221.5"/><rect x="148.1" y="768" width="5" height="221.5"/><rect x="160.1" y="768" width="5" height="221.5"/><rect x="172.9" y="768" width="5" height="221.5"/><rect x="184.9" y="768" width="5" height="221.5"/><rect x="196.7" y="768" width="5" height="221.5"/><rect x="209.1" y="768" width="5" height="221.5"/><rect x="220.8" y="768" width="5" height="221.5"/><rect x="232.8" y="768" width="5" height="221.5"/><rect x="245.2" y="768" width="5" height="221.5"/><rect x="259.8" y="768" width="5" height="221.5"/><rect x="273.1" y="768" width="5" height="221.5"/><rect x="286.5" y="768" width="5" height="221.5"/><rect x="299.5" y="768" width="5" height="221.5"/><rect x="311.3" y="768" width="5" height="221.5"/><rect x="322.3" y="768" width="5" height="221.5"/><rect x="333.6" y="768" width="5" height="221.5"/><rect x="345.4" y="768" width="5" height="221.5"/><rect x="358" y="768" width="5" height="221.5"/><rect x="370.8" y="768" width="5" height="221.5"/><rect x="383.9" y="768" width="5" height="221.5"/><rect x="396.7" y="768" width="5" height="221.5"/><rect x="409.1" y="768" width="5" height="221.5"/><rect x="421.5" y="768" width="5" height="221.5"/><rect x="434.3" y="768" width="5" height="221.5"/><rect x="447.3" y="768" width="5" height="221.5"/><rect x="460.4" y="768" width="5" height="221.5"/><rect x="472.6" y="768" width="5" height="221.5"/><rect x="485.2" y="768" width="5" height="221.5"/></g>
<g fill="url(#gStripe)"><rect x="91.5" y="768" width="1.7" height="221.5"/><rect x="103.9" y="768" width="1.7" height="221.5"/><rect x="115.1" y="768" width="1.7" height="221.5"/><rect x="126.4" y="768" width="1.7" height="221.5"/><rect x="137.8" y="768" width="1.7" height="221.5"/><rect x="149.8" y="768" width="1.7" height="221.5"/><rect x="161.8" y="768" width="1.7" height="221.5"/><rect x="174.6" y="768" width="1.7" height="221.5"/><rect x="186.6" y="768" width="1.7" height="221.5"/><rect x="198.3" y="768" width="1.7" height="221.5"/><rect x="210.8" y="768" width="1.7" height="221.5"/><rect x="222.5" y="768" width="1.7" height="221.5"/><rect x="234.5" y="768" width="1.7" height="221.5"/><rect x="246.8" y="768" width="1.7" height="221.5"/><rect x="261.4" y="768" width="1.7" height="221.5"/><rect x="274.8" y="768" width="1.7" height="221.5"/><rect x="288.1" y="768" width="1.7" height="221.5"/><rect x="301.1" y="768" width="1.7" height="221.5"/><rect x="312.9" y="768" width="1.7" height="221.5"/><rect x="323.9" y="768" width="1.7" height="221.5"/><rect x="335.2" y="768" width="1.7" height="221.5"/><rect x="347" y="768" width="1.7" height="221.5"/><rect x="359.6" y="768" width="1.7" height="221.5"/><rect x="372.4" y="768" width="1.7" height="221.5"/><rect x="385.5" y="768" width="1.7" height="221.5"/><rect x="398.3" y="768" width="1.7" height="221.5"/><rect x="410.8" y="768" width="1.7" height="221.5"/><rect x="423.1" y="768" width="1.7" height="221.5"/><rect x="435.9" y="768" width="1.7" height="221.5"/><rect x="448.9" y="768" width="1.7" height="221.5"/><rect x="462" y="768" width="1.7" height="221.5"/><rect x="474.2" y="768" width="1.7" height="221.5"/><rect x="486.8" y="768" width="1.7" height="221.5"/></g>
<rect x="85" y="768" width="408.8" height="221.5" fill="none" stroke="#6a6a6a" stroke-width="1"/>
<rect x="594.4" y="769.3" width="405.7" height="220.6" fill="none" stroke="#6a6a6a" stroke-width="1"/>
<rect x="1106.1" y="767.3" width="403.8" height="220" fill="none" stroke="#6a6a6a" stroke-width="1"/>
<rect x="75.7" y="980.3" width="425.9" height="10.1" fill="none" stroke="#e60012" stroke-width="2.3"/>
<rect x="585.9" y="978.3" width="425.3" height="9.3" fill="none" stroke="#e60012" stroke-width="2.3"/>
<rect x="1096.6" y="978" width="426" height="9.6" fill="none" stroke="#e60012" stroke-width="2.3"/>
<line x1="149" y1="973.8" x2="244.6" y2="841.8" stroke="#231815" stroke-width="2.3"/>
<line x1="160.4" y1="989.3" x2="317.8" y2="959" stroke="#231815" stroke-width="2.3"/>
<circle cx="151.2" cy="984.7" r="9.2" fill="none" stroke="#231815" stroke-width="2.2"/>
<line x1="656.8" y1="973" x2="750.8" y2="841.7" stroke="#231815" stroke-width="2.3"/>
<line x1="668.2" y1="987.4" x2="825.8" y2="957.4" stroke="#231815" stroke-width="2.3"/>
<circle cx="659.3" cy="982.2" r="9.2" fill="none" stroke="#231815" stroke-width="2.2"/>
<line x1="1181" y1="971.9" x2="1257" y2="841.7" stroke="#231815" stroke-width="2.3"/>
<line x1="1189.2" y1="987.4" x2="1351.3" y2="960.2" stroke="#231815" stroke-width="2.3"/>
<circle cx="1180.6" cy="982.2" r="9.2" fill="none" stroke="#231815" stroke-width="2.2"/>
<circle cx="333.3" cy="869.5" r="91.5" fill="#fff"/>
<g clip-path="url(#clip1)"><rect x="240.8" y="782.2" width="185" height="173.7" fill="url(#gI1)"/><rect x="240.8" y="782.2" width="185" height="151.8" filter="url(#nzIB1)" opacity="0.5"/><rect x="240.8" y="782.2" width="185" height="173.7" filter="url(#nzIY)" opacity="0.55"/><rect x="240.8" y="928" width="185" height="30" fill="url(#sb1a)" opacity="0.55"/><rect x="240.8" y="933" width="185" height="20" filter="url(#nzBand)" opacity="0.75"/><g fill="#acbc3d" opacity="0.8"><rect x="247.7" y="782.2" width="1.25" height="173.7"/><rect x="255.9" y="782.2" width="1.25" height="173.7"/><rect x="265.2" y="782.2" width="1.25" height="173.7"/><rect x="274.5" y="782.2" width="1.25" height="173.7"/><rect x="284.9" y="782.2" width="1.25" height="173.7"/><rect x="294.8" y="782.2" width="1.25" height="173.7"/><rect x="305.6" y="782.2" width="1.25" height="173.7"/><rect x="316.3" y="782.2" width="1.25" height="173.7"/><rect x="327.3" y="782.2" width="1.25" height="173.7"/><rect x="338.2" y="782.2" width="1.25" height="173.7"/><rect x="349" y="782.2" width="1.25" height="173.7"/><rect x="358.9" y="782.2" width="1.25" height="173.7"/><rect x="368.6" y="782.2" width="1.25" height="173.7"/><rect x="377.5" y="782.2" width="1.25" height="173.7"/><rect x="386.6" y="782.2" width="1.25" height="173.7"/><rect x="396.5" y="782.2" width="1.25" height="173.7"/><rect x="406.4" y="782.2" width="1.25" height="173.7"/><rect x="416.2" y="782.2" width="1.25" height="173.7"/></g></g>
<circle cx="839" cy="865.5" r="91.1" fill="#fff"/>
<g clip-path="url(#clip2)"><rect x="746.9" y="777.6" width="184.2" height="175.7" fill="url(#gI2)"/><rect x="746.9" y="777.6" width="184.2" height="158.4" filter="url(#nzIB2)" opacity="0.65"/><rect x="746.9" y="777.6" width="184.2" height="175.7" filter="url(#nzIY)" opacity="0.55"/><rect x="746.9" y="840.8" width="184.2" height="8.1" fill="url(#sb2a)" opacity="0.85"/><rect x="746.9" y="911.8" width="184.2" height="8.7" fill="url(#sb2b)" opacity="0.85"/><rect x="746.9" y="932" width="184.2" height="21.6" fill="url(#sb2c)" opacity="0.55"/><rect x="746.9" y="935" width="184.2" height="16" filter="url(#nzBand)" opacity="0.75"/></g>
<circle cx="1347.2" cy="867.2" r="93.2" fill="#fff"/>
<g clip-path="url(#clip3)"><rect x="1253" y="778.6" width="188.4" height="177.8" fill="url(#gI3)"/><rect x="1253" y="778.6" width="188.4" height="177.8" filter="url(#nzIB3)" opacity="0.45"/><rect x="1253" y="778.6" width="188.4" height="177.8" filter="url(#nzIY)" opacity="0.85"/><rect x="1253" y="910.6" width="188.4" height="11.4" fill="url(#sb3a)" opacity="0.85"/><rect x="1278.2" y="917.5" width="1.6" height="8" fill="#bfb735" opacity="0.8"/></g>
<text x="341.6" y="951.2" font-size="26" fill="#e60012" textLength="85.5" lengthAdjust="spacingAndGlyphs">~14 Hz</text>
<text x="882.2" y="854.7" font-size="26" fill="#e60012" textLength="83" lengthAdjust="spacingAndGlyphs">124 Hz</text>
<text x="882.2" y="925.4" font-size="26" fill="#e60012" textLength="71" lengthAdjust="spacingAndGlyphs">41 Hz</text>
<text x="742.4" y="950.2" font-size="26" fill="#e60012" textLength="88" lengthAdjust="spacingAndGlyphs">~14 Hz</text>
<text x="1393.2" y="925.4" font-size="26" fill="#e60012" textLength="70.5" lengthAdjust="spacingAndGlyphs">45 Hz</text>
<text x="78" y="1027" font-size="26" text-anchor="middle" fill="#262626">0</text>
<text x="149" y="1027" font-size="26" text-anchor="middle" fill="#262626">20</text>
<text x="217.3" y="1027" font-size="26" text-anchor="middle" fill="#262626">40</text>
<text x="285.5" y="1027" font-size="26" text-anchor="middle" fill="#262626">60</text>
<text x="353.7" y="1027" font-size="26" text-anchor="middle" fill="#262626">80</text>
<text x="425.3" y="1027" font-size="26" text-anchor="middle" fill="#262626">100</text>
<text x="493.3" y="1027" font-size="26" text-anchor="middle" fill="#262626">120</text>
<text x="587.4" y="1026.4" font-size="26" text-anchor="middle" fill="#262626">0</text>
<text x="658.2" y="1026.4" font-size="26" text-anchor="middle" fill="#262626">20</text>
<text x="725.8" y="1026.4" font-size="26" text-anchor="middle" fill="#262626">40</text>
<text x="793.3" y="1026.4" font-size="26" text-anchor="middle" fill="#262626">60</text>
<text x="861.3" y="1026.4" font-size="26" text-anchor="middle" fill="#262626">80</text>
<text x="931.8" y="1026.4" font-size="26" text-anchor="middle" fill="#262626">100</text>
<text x="1000" y="1026.4" font-size="26" text-anchor="middle" fill="#262626">120</text>
<text x="1099" y="1023.4" font-size="26" text-anchor="middle" fill="#262626">0</text>
<text x="1169.2" y="1023.4" font-size="26" text-anchor="middle" fill="#262626">20</text>
<text x="1236.9" y="1023.4" font-size="26" text-anchor="middle" fill="#262626">40</text>
<text x="1304.3" y="1023.4" font-size="26" text-anchor="middle" fill="#262626">60</text>
<text x="1371.7" y="1023.4" font-size="26" text-anchor="middle" fill="#262626">80</text>
<text x="1441.8" y="1023.4" font-size="26" text-anchor="middle" fill="#262626">100</text>
<text x="1508.8" y="1023.4" font-size="26" text-anchor="middle" fill="#262626">120</text>
<text x="74" y="1000.9" font-size="26" text-anchor="end" fill="#262626">0</text>
<text x="74" y="931.5" font-size="26" text-anchor="end" fill="#262626">20</text>
<text x="74" y="862.2" font-size="26" text-anchor="end" fill="#262626">40</text>
<text x="74" y="792.8" font-size="26" text-anchor="end" fill="#262626">60</text>
<text x="584.1" y="1000.3" font-size="26" text-anchor="end" fill="#262626">0</text>
<text x="584.1" y="931.6" font-size="26" text-anchor="end" fill="#262626">20</text>
<text x="584.1" y="863" font-size="26" text-anchor="end" fill="#262626">40</text>
<text x="584.1" y="794.3" font-size="26" text-anchor="end" fill="#262626">60</text>
<text x="1095.1" y="997.7" font-size="26" text-anchor="end" fill="#262626">0</text>
<text x="1095.1" y="929.2" font-size="26" text-anchor="end" fill="#262626">20</text>
<text x="1095.1" y="860.6" font-size="26" text-anchor="end" fill="#262626">40</text>
<text x="1095.1" y="792.1" font-size="26" text-anchor="end" fill="#262626">60</text>
<text x="289.1" y="1064.8" font-size="30" text-anchor="middle" fill="#262626" textLength="98" lengthAdjust="spacingAndGlyphs">Time(s)</text>
<text x="797.1" y="1065.5" font-size="30" text-anchor="middle" fill="#262626" textLength="98" lengthAdjust="spacingAndGlyphs">Time(s)</text>
<text x="1308" y="1060.7" font-size="30" text-anchor="middle" fill="#262626" textLength="98" lengthAdjust="spacingAndGlyphs">Time(s)</text>
<text transform="translate(25.6,878.2) rotate(-90)" font-size="30" text-anchor="middle" fill="#262626" textLength="218.5" lengthAdjust="spacingAndGlyphs">Frequency (kHz)</text>
<rect x="82.4" y="1093.1" width="1134" height="29.9" fill="url(#gCB)" stroke="#333" stroke-width="1.3"/>
<path d="M195.8 1123V1112.5M309.2 1123V1112.5M422.6 1123V1112.5M536 1123V1112.5M649.4 1123V1112.5M762.8 1123V1112.5M876.2 1123V1112.5M989.6 1123V1112.5M1103 1123V1112.5" stroke="#333" stroke-width="1.2"/>
<text x="82.9" y="1159" font-size="25" text-anchor="middle" fill="#262626">50</text>
<text x="196.3" y="1159" font-size="25" text-anchor="middle" fill="#262626">60</text>
<text x="309.7" y="1159" font-size="25" text-anchor="middle" fill="#262626">70</text>
<text x="423.1" y="1159" font-size="25" text-anchor="middle" fill="#262626">80</text>
<text x="536.5" y="1159" font-size="25" text-anchor="middle" fill="#262626">90</text>
<text x="649.9" y="1159" font-size="25" text-anchor="middle" fill="#262626">100</text>
<text x="763.3" y="1159" font-size="25" text-anchor="middle" fill="#262626">110</text>
<text x="876.7" y="1159" font-size="25" text-anchor="middle" fill="#262626">120</text>
<text x="990.1" y="1159" font-size="25" text-anchor="middle" fill="#262626">130</text>
<text x="1103.5" y="1159" font-size="25" text-anchor="middle" fill="#262626">140</text>
<text x="1216.9" y="1159" font-size="25" text-anchor="middle" fill="#262626">150</text>
<text x="1234.6" y="1121.2" font-size="30" fill="#262626" textLength="287" lengthAdjust="spacingAndGlyphs">PSD (dB re 1μPa²/Hz)</text>
<line x1="103.8" y1="442.6" x2="297.5" y2="923.8" stroke="#231815" stroke-width="2.3" stroke-dasharray="7,8.3"/>
<polygon points="301,932.6 291,923.2 297.8,924.7 301.7,918.8" fill="#231815"/>
<line x1="661.3" y1="473.3" x2="798.7" y2="903" stroke="#231815" stroke-width="2.3" stroke-dasharray="7,8.3"/>
<polygon points="801.6,912 792.3,901.9 799,903.9 803.3,898.3" fill="#231815"/>
<line x1="713.8" y1="482.2" x2="822.8" y2="832.6" stroke="#231815" stroke-width="2.3" stroke-dasharray="7,8.3"/>
<polygon points="825.6,841.7 816.3,831.5 823.1,833.6 827.4,828" fill="#231815"/>
<line x1="1178.2" y1="449.5" x2="1319" y2="901.9" stroke="#231815" stroke-width="2.3" stroke-dasharray="7,8.3"/>
<polygon points="1321.8,911 1312.5,900.8 1319.3,902.9 1323.6,897.3" fill="#231815"/>
<rect x="0" y="732.0" width="1020" height="34.5" fill="#fff"/>
<text x="45.9" y="762" font-size="29" font-weight="bold" fill="#000" textLength="33" lengthAdjust="spacingAndGlyphs">C1</text>
<text x="532.3" y="762" font-size="29" font-weight="bold" fill="#000">C2</text>
<text x="1042.8" y="762" font-size="29" font-weight="bold" fill="#000">C3</text>
</svg>
</body></html>
